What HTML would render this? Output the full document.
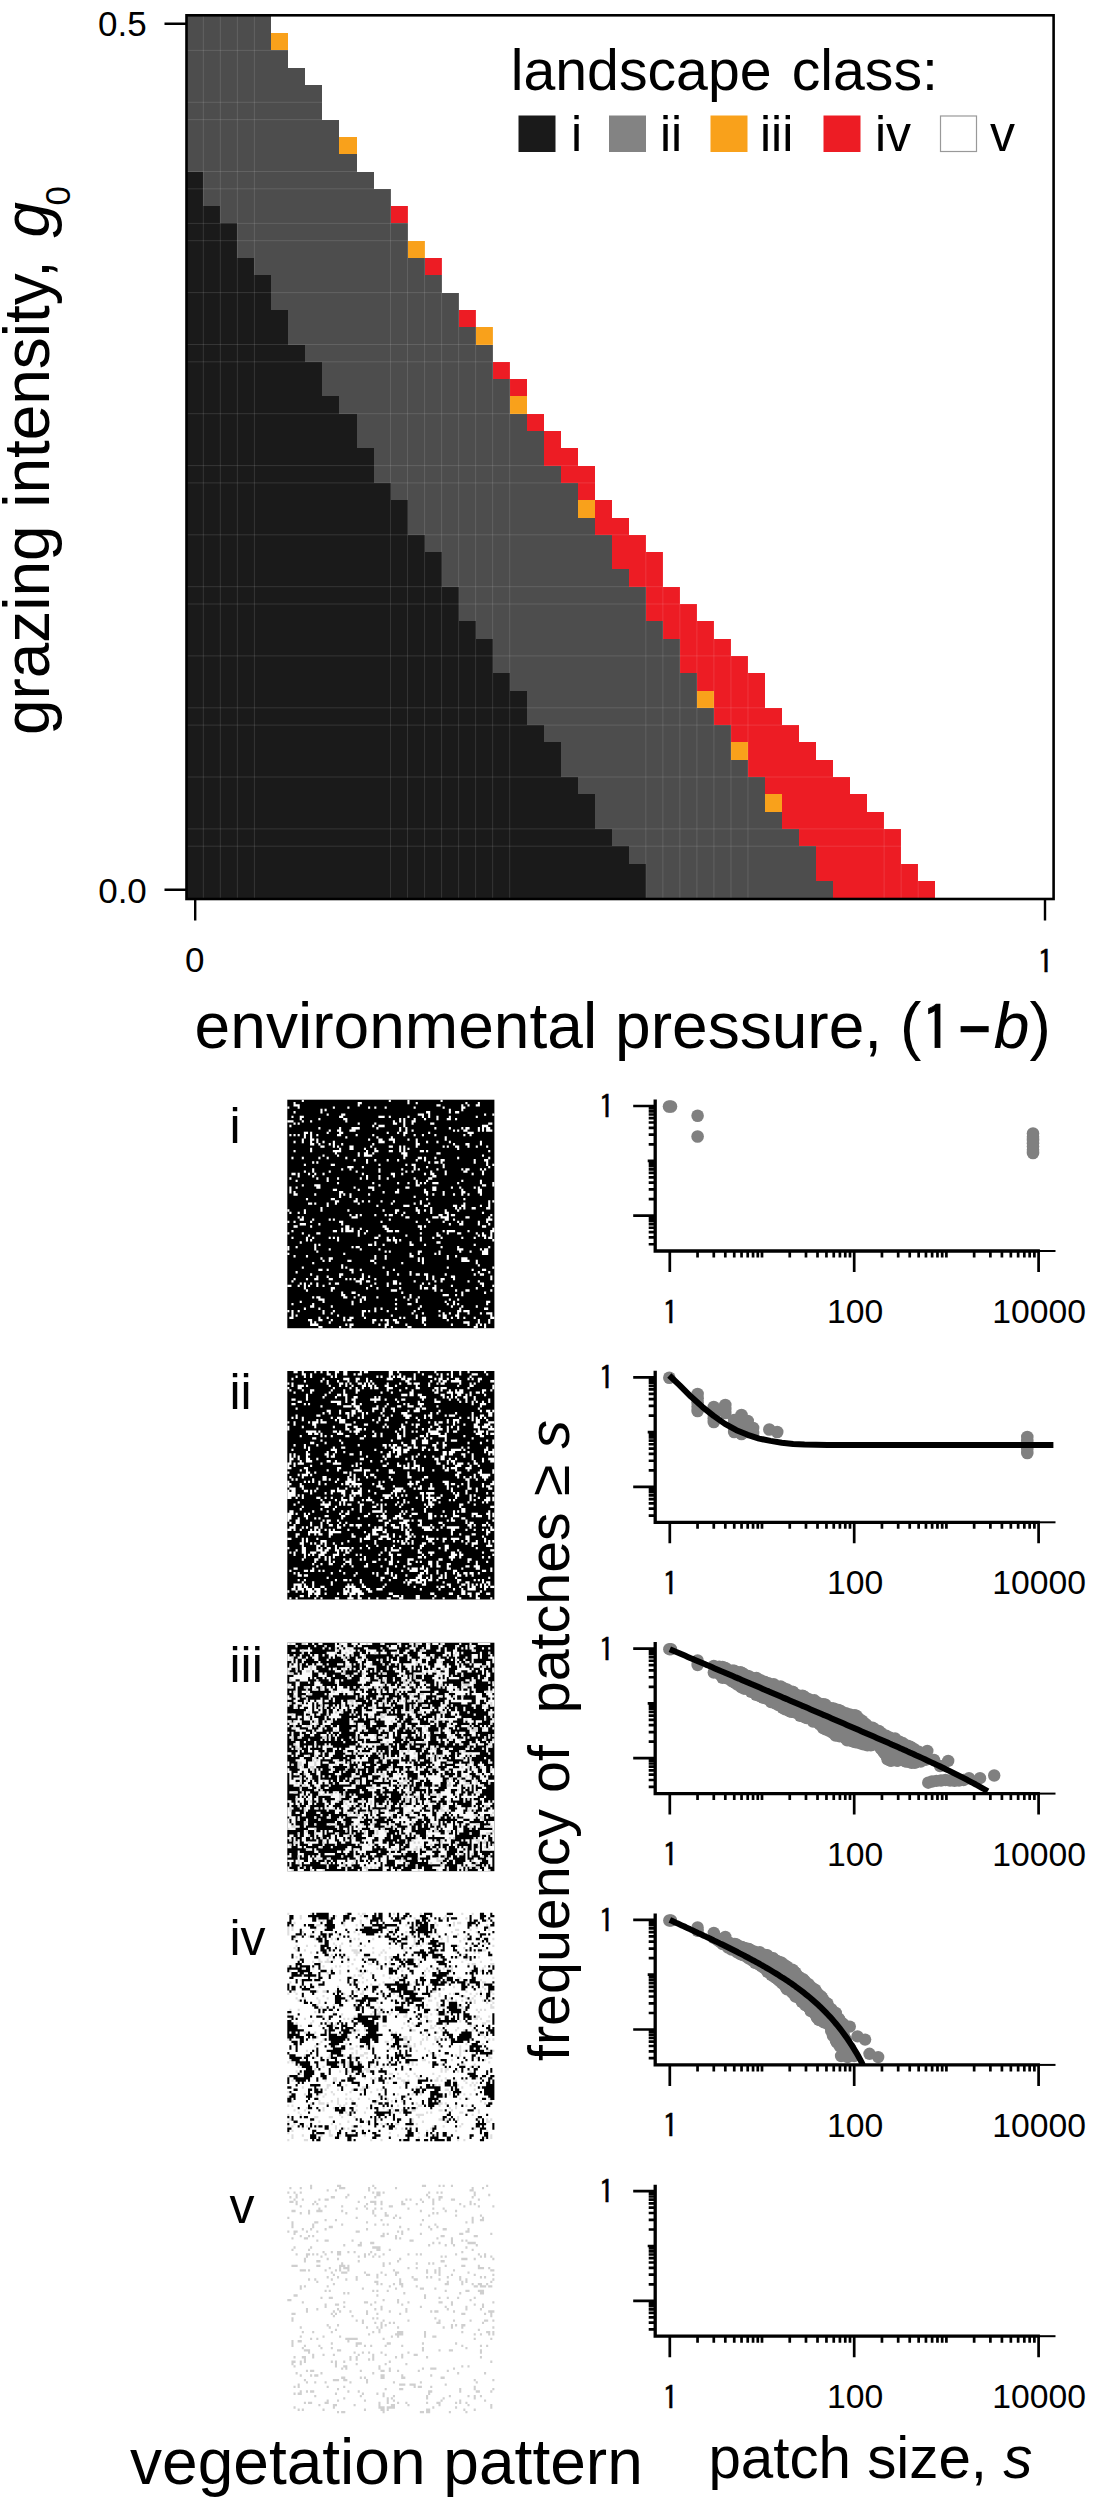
<!DOCTYPE html>
<html lang="en">
<head>
<meta charset="utf-8">
<title>Landscape classes along environmental pressure and grazing intensity</title>
<style>
html,body{margin:0;padding:0;background:#fff;}
body{width:1100px;height:2500px;overflow:hidden;}
svg{display:block;}
svg text{font-family:"Liberation Sans", Arial, Helvetica, sans-serif;fill:#000;}
</style>
</head>
<body>
<svg width="1100" height="2500" viewBox="0 0 1100 2500">
<defs><filter id="pb" x="-2%" y="-2%" width="104%" height="104%"><feGaussianBlur stdDeviation="0.55"/></filter></defs>
<rect x="0" y="0" width="1100" height="2500" fill="#fff"/>
<g id="heat" shape-rendering="crispEdges">
<rect x="186.30" y="15.80" width="85.10" height="17.60" fill="#4d4d4d"/>
<rect x="186.30" y="33.10" width="85.10" height="17.60" fill="#4d4d4d"/>
<rect x="271.40" y="33.10" width="17.02" height="17.60" fill="#f9a11b"/>
<rect x="186.30" y="50.40" width="102.12" height="17.60" fill="#4d4d4d"/>
<rect x="186.30" y="67.70" width="119.14" height="17.60" fill="#4d4d4d"/>
<rect x="186.30" y="85.00" width="136.16" height="17.60" fill="#4d4d4d"/>
<rect x="186.30" y="102.30" width="136.16" height="17.60" fill="#4d4d4d"/>
<rect x="186.30" y="119.60" width="153.18" height="17.60" fill="#4d4d4d"/>
<rect x="186.30" y="136.90" width="153.18" height="17.60" fill="#4d4d4d"/>
<rect x="339.48" y="136.90" width="17.02" height="17.60" fill="#f9a11b"/>
<rect x="186.30" y="154.20" width="170.20" height="17.60" fill="#4d4d4d"/>
<rect x="186.30" y="171.50" width="187.22" height="17.60" fill="#4d4d4d"/>
<rect x="186.30" y="171.50" width="17.02" height="17.60" fill="#1a1a1a"/>
<rect x="186.30" y="188.80" width="204.24" height="17.60" fill="#4d4d4d"/>
<rect x="186.30" y="188.80" width="17.02" height="17.60" fill="#1a1a1a"/>
<rect x="186.30" y="206.10" width="204.24" height="17.60" fill="#4d4d4d"/>
<rect x="186.30" y="206.10" width="34.04" height="17.60" fill="#1a1a1a"/>
<rect x="390.54" y="206.10" width="17.02" height="17.60" fill="#ed1c24"/>
<rect x="186.30" y="223.40" width="221.26" height="17.60" fill="#4d4d4d"/>
<rect x="186.30" y="223.40" width="51.06" height="17.60" fill="#1a1a1a"/>
<rect x="186.30" y="240.70" width="221.26" height="17.60" fill="#4d4d4d"/>
<rect x="186.30" y="240.70" width="51.06" height="17.60" fill="#1a1a1a"/>
<rect x="407.56" y="240.70" width="17.02" height="17.60" fill="#f9a11b"/>
<rect x="186.30" y="258.00" width="238.28" height="17.60" fill="#4d4d4d"/>
<rect x="186.30" y="258.00" width="68.08" height="17.60" fill="#1a1a1a"/>
<rect x="424.58" y="258.00" width="17.02" height="17.60" fill="#ed1c24"/>
<rect x="186.30" y="275.30" width="255.30" height="17.60" fill="#4d4d4d"/>
<rect x="186.30" y="275.30" width="85.10" height="17.60" fill="#1a1a1a"/>
<rect x="186.30" y="292.60" width="272.32" height="17.60" fill="#4d4d4d"/>
<rect x="186.30" y="292.60" width="85.10" height="17.60" fill="#1a1a1a"/>
<rect x="186.30" y="309.90" width="272.32" height="17.60" fill="#4d4d4d"/>
<rect x="186.30" y="309.90" width="102.12" height="17.60" fill="#1a1a1a"/>
<rect x="458.62" y="309.90" width="17.02" height="17.60" fill="#ed1c24"/>
<rect x="186.30" y="327.20" width="289.34" height="17.60" fill="#4d4d4d"/>
<rect x="186.30" y="327.20" width="102.12" height="17.60" fill="#1a1a1a"/>
<rect x="475.64" y="327.20" width="17.02" height="17.60" fill="#f9a11b"/>
<rect x="186.30" y="344.50" width="306.36" height="17.60" fill="#4d4d4d"/>
<rect x="186.30" y="344.50" width="119.14" height="17.60" fill="#1a1a1a"/>
<rect x="186.30" y="361.80" width="306.36" height="17.60" fill="#4d4d4d"/>
<rect x="186.30" y="361.80" width="136.16" height="17.60" fill="#1a1a1a"/>
<rect x="492.66" y="361.80" width="17.02" height="17.60" fill="#ed1c24"/>
<rect x="186.30" y="379.10" width="323.38" height="17.60" fill="#4d4d4d"/>
<rect x="186.30" y="379.10" width="136.16" height="17.60" fill="#1a1a1a"/>
<rect x="509.68" y="379.10" width="17.02" height="17.60" fill="#ed1c24"/>
<rect x="186.30" y="396.40" width="323.38" height="17.60" fill="#4d4d4d"/>
<rect x="186.30" y="396.40" width="153.18" height="17.60" fill="#1a1a1a"/>
<rect x="509.68" y="396.40" width="17.02" height="17.60" fill="#f9a11b"/>
<rect x="186.30" y="413.70" width="340.40" height="17.60" fill="#4d4d4d"/>
<rect x="186.30" y="413.70" width="170.20" height="17.60" fill="#1a1a1a"/>
<rect x="526.70" y="413.70" width="17.02" height="17.60" fill="#ed1c24"/>
<rect x="186.30" y="431.00" width="357.42" height="17.60" fill="#4d4d4d"/>
<rect x="186.30" y="431.00" width="170.20" height="17.60" fill="#1a1a1a"/>
<rect x="543.72" y="431.00" width="17.02" height="17.60" fill="#ed1c24"/>
<rect x="186.30" y="448.30" width="357.42" height="17.60" fill="#4d4d4d"/>
<rect x="186.30" y="448.30" width="187.22" height="17.60" fill="#1a1a1a"/>
<rect x="543.72" y="448.30" width="34.04" height="17.60" fill="#ed1c24"/>
<rect x="186.30" y="465.60" width="374.44" height="17.60" fill="#4d4d4d"/>
<rect x="186.30" y="465.60" width="187.22" height="17.60" fill="#1a1a1a"/>
<rect x="560.74" y="465.60" width="34.04" height="17.60" fill="#ed1c24"/>
<rect x="186.30" y="482.90" width="391.46" height="17.60" fill="#4d4d4d"/>
<rect x="186.30" y="482.90" width="204.24" height="17.60" fill="#1a1a1a"/>
<rect x="577.76" y="482.90" width="17.02" height="17.60" fill="#ed1c24"/>
<rect x="186.30" y="500.20" width="391.46" height="17.60" fill="#4d4d4d"/>
<rect x="186.30" y="500.20" width="221.26" height="17.60" fill="#1a1a1a"/>
<rect x="577.76" y="500.20" width="17.02" height="17.60" fill="#f9a11b"/>
<rect x="594.78" y="500.20" width="17.02" height="17.60" fill="#ed1c24"/>
<rect x="186.30" y="517.50" width="408.48" height="17.60" fill="#4d4d4d"/>
<rect x="186.30" y="517.50" width="221.26" height="17.60" fill="#1a1a1a"/>
<rect x="594.78" y="517.50" width="34.04" height="17.60" fill="#ed1c24"/>
<rect x="186.30" y="534.80" width="425.50" height="17.60" fill="#4d4d4d"/>
<rect x="186.30" y="534.80" width="238.28" height="17.60" fill="#1a1a1a"/>
<rect x="611.80" y="534.80" width="34.04" height="17.60" fill="#ed1c24"/>
<rect x="186.30" y="552.10" width="425.50" height="17.60" fill="#4d4d4d"/>
<rect x="186.30" y="552.10" width="255.30" height="17.60" fill="#1a1a1a"/>
<rect x="611.80" y="552.10" width="51.06" height="17.60" fill="#ed1c24"/>
<rect x="186.30" y="569.40" width="442.52" height="17.60" fill="#4d4d4d"/>
<rect x="186.30" y="569.40" width="255.30" height="17.60" fill="#1a1a1a"/>
<rect x="628.82" y="569.40" width="34.04" height="17.60" fill="#ed1c24"/>
<rect x="186.30" y="586.70" width="459.54" height="17.60" fill="#4d4d4d"/>
<rect x="186.30" y="586.70" width="272.32" height="17.60" fill="#1a1a1a"/>
<rect x="645.84" y="586.70" width="34.04" height="17.60" fill="#ed1c24"/>
<rect x="186.30" y="604.00" width="459.54" height="17.60" fill="#4d4d4d"/>
<rect x="186.30" y="604.00" width="272.32" height="17.60" fill="#1a1a1a"/>
<rect x="645.84" y="604.00" width="51.06" height="17.60" fill="#ed1c24"/>
<rect x="186.30" y="621.30" width="476.56" height="17.60" fill="#4d4d4d"/>
<rect x="186.30" y="621.30" width="289.34" height="17.60" fill="#1a1a1a"/>
<rect x="662.86" y="621.30" width="51.06" height="17.60" fill="#ed1c24"/>
<rect x="186.30" y="638.60" width="493.58" height="17.60" fill="#4d4d4d"/>
<rect x="186.30" y="638.60" width="306.36" height="17.60" fill="#1a1a1a"/>
<rect x="679.88" y="638.60" width="51.06" height="17.60" fill="#ed1c24"/>
<rect x="186.30" y="655.90" width="493.58" height="17.60" fill="#4d4d4d"/>
<rect x="186.30" y="655.90" width="306.36" height="17.60" fill="#1a1a1a"/>
<rect x="679.88" y="655.90" width="68.08" height="17.60" fill="#ed1c24"/>
<rect x="186.30" y="673.20" width="510.60" height="17.60" fill="#4d4d4d"/>
<rect x="186.30" y="673.20" width="323.38" height="17.60" fill="#1a1a1a"/>
<rect x="696.90" y="673.20" width="68.08" height="17.60" fill="#ed1c24"/>
<rect x="186.30" y="690.50" width="510.60" height="17.60" fill="#4d4d4d"/>
<rect x="186.30" y="690.50" width="340.40" height="17.60" fill="#1a1a1a"/>
<rect x="696.90" y="690.50" width="17.02" height="17.60" fill="#f9a11b"/>
<rect x="713.92" y="690.50" width="51.06" height="17.60" fill="#ed1c24"/>
<rect x="186.30" y="707.80" width="527.62" height="17.60" fill="#4d4d4d"/>
<rect x="186.30" y="707.80" width="340.40" height="17.60" fill="#1a1a1a"/>
<rect x="713.92" y="707.80" width="68.08" height="17.60" fill="#ed1c24"/>
<rect x="186.30" y="725.10" width="544.64" height="17.60" fill="#4d4d4d"/>
<rect x="186.30" y="725.10" width="357.42" height="17.60" fill="#1a1a1a"/>
<rect x="730.94" y="725.10" width="68.08" height="17.60" fill="#ed1c24"/>
<rect x="186.30" y="742.40" width="544.64" height="17.60" fill="#4d4d4d"/>
<rect x="186.30" y="742.40" width="374.44" height="17.60" fill="#1a1a1a"/>
<rect x="730.94" y="742.40" width="17.02" height="17.60" fill="#f9a11b"/>
<rect x="747.96" y="742.40" width="68.08" height="17.60" fill="#ed1c24"/>
<rect x="186.30" y="759.70" width="561.66" height="17.60" fill="#4d4d4d"/>
<rect x="186.30" y="759.70" width="374.44" height="17.60" fill="#1a1a1a"/>
<rect x="747.96" y="759.70" width="85.10" height="17.60" fill="#ed1c24"/>
<rect x="186.30" y="777.00" width="578.68" height="17.60" fill="#4d4d4d"/>
<rect x="186.30" y="777.00" width="391.46" height="17.60" fill="#1a1a1a"/>
<rect x="764.98" y="777.00" width="85.10" height="17.60" fill="#ed1c24"/>
<rect x="186.30" y="794.30" width="578.68" height="17.60" fill="#4d4d4d"/>
<rect x="186.30" y="794.30" width="408.48" height="17.60" fill="#1a1a1a"/>
<rect x="764.98" y="794.30" width="17.02" height="17.60" fill="#f9a11b"/>
<rect x="782.00" y="794.30" width="85.10" height="17.60" fill="#ed1c24"/>
<rect x="186.30" y="811.60" width="595.70" height="17.60" fill="#4d4d4d"/>
<rect x="186.30" y="811.60" width="408.48" height="17.60" fill="#1a1a1a"/>
<rect x="782.00" y="811.60" width="102.12" height="17.60" fill="#ed1c24"/>
<rect x="186.30" y="828.90" width="612.72" height="17.60" fill="#4d4d4d"/>
<rect x="186.30" y="828.90" width="425.50" height="17.60" fill="#1a1a1a"/>
<rect x="799.02" y="828.90" width="102.12" height="17.60" fill="#ed1c24"/>
<rect x="186.30" y="846.20" width="629.74" height="17.60" fill="#4d4d4d"/>
<rect x="186.30" y="846.20" width="442.52" height="17.60" fill="#1a1a1a"/>
<rect x="816.04" y="846.20" width="85.10" height="17.60" fill="#ed1c24"/>
<rect x="186.30" y="863.50" width="629.74" height="17.60" fill="#4d4d4d"/>
<rect x="186.30" y="863.50" width="459.54" height="17.60" fill="#1a1a1a"/>
<rect x="816.04" y="863.50" width="102.12" height="17.60" fill="#ed1c24"/>
<rect x="186.30" y="880.80" width="646.76" height="17.60" fill="#4d4d4d"/>
<rect x="186.30" y="880.80" width="459.54" height="17.60" fill="#1a1a1a"/>
<rect x="833.06" y="880.80" width="102.12" height="17.60" fill="#ed1c24"/>
</g>
<path d="M203.32 15.8V898.10M220.34 15.8V898.10M237.36 15.8V898.10M254.38 15.8V898.10M390.54 15.8V898.10M407.56 15.8V898.10M424.58 15.8V898.10M441.60 15.8V898.10M458.62 15.8V898.10M475.64 15.8V898.10M492.66 15.8V898.10M509.68 15.8V898.10M645.84 15.8V898.10M662.86 15.8V898.10M679.88 15.8V898.10M696.90 15.8V898.10M713.92 15.8V898.10M730.94 15.8V898.10M747.96 15.8V898.10M884.12 15.8V898.10M901.14 15.8V898.10M918.16 15.8V898.10M186.3 50.40H935.18M186.3 102.30H935.18M186.3 119.60H935.18M186.3 171.50H935.18M186.3 188.80H935.18M186.3 223.40H935.18M186.3 240.70H935.18M186.3 292.60H935.18M186.3 344.50H935.18M186.3 361.80H935.18M186.3 413.70H935.18M186.3 465.60H935.18M186.3 482.90H935.18M186.3 534.80H935.18M186.3 586.70H935.18M186.3 604.00H935.18M186.3 655.90H935.18M186.3 707.80H935.18M186.3 725.10H935.18M186.3 777.00H935.18M186.3 828.90H935.18M186.3 846.20H935.18" stroke="#fff" stroke-opacity="0.12" stroke-width="1" fill="none"/>
<rect x="186.5" y="15.3" width="867.0999999999999" height="883.7" fill="none" stroke="#000" stroke-width="2.6"/>
<g stroke="#000" stroke-width="2.4" fill="none">
<path d="M164.5 23.8H186.5 M164.5 889.8H186.5 M195.2 899.0V920.5 M1045 899.0V920.5"/>
</g>
<text x="122.3" y="36.2" font-size="35" text-anchor="middle" >0.5</text>
<text x="122.5" y="902.6" font-size="35" text-anchor="middle" >0.0</text>
<text x="194.8" y="972" font-size="35" text-anchor="middle" >0</text>
<text x="1045.5" y="972" font-size="34.5" text-anchor="middle" ><tspan style="font-family:IPAGothic,'Liberation Sans',sans-serif" font-size="33.12" dy="1.55" stroke="#000" stroke-width="0.38" stroke-linejoin="miter">1</tspan></text>
<text x="194.6" y="1048" font-size="64.1" text-anchor="start" >environmental pressure, (<tspan style="font-family:IPAGothic,'Liberation Sans',sans-serif" font-size="61.54" dy="2.88" stroke="#000" stroke-width="0.71" stroke-linejoin="miter">1</tspan><tspan font-weight="bold" font-size="56" dx="6.5" dy="-2.88">&#8722;</tspan><tspan font-style="italic" dx="2.5">b</tspan>)</text>
<text transform="translate(49,735) rotate(-90)" font-size="63.9">grazing intensity, <tspan font-style="italic" dx="5">g</tspan><tspan font-size="35" dy="20.5" dx="-3.5">0</tspan></text>
<text x="510.8" y="90.4" font-size="57.2" text-anchor="start" >landscape<tspan dx="4.3"> class:</tspan></text>
<rect x="518.5" y="115.5" width="37" height="36.5" fill="#1a1a1a"/>
<text x="571" y="151.3" font-size="50" text-anchor="start" >i</text>
<rect x="609" y="115.5" width="37" height="36.5" fill="#838383"/>
<text x="660" y="151.3" font-size="50" text-anchor="start" >ii</text>
<rect x="710.5" y="115.5" width="37" height="36.5" fill="#f9a11b"/>
<text x="760" y="151.3" font-size="50" text-anchor="start" >iii</text>
<rect x="823.5" y="115.5" width="37" height="36.5" fill="#ed1c24"/>
<text x="875" y="151.3" font-size="50" text-anchor="start" >iv</text>
<rect x="940.5" y="116" width="36" height="35.5" fill="#fff" stroke="#999" stroke-width="1.2"/>
<text x="990" y="151.3" font-size="50" text-anchor="start" >v</text>
<g filter="url(#pb)"><g transform="translate(287.3,1099.7) scale(2.0710,2.2850)">
<rect x="0" y="0" width="100" height="100" fill="#060606"/>
<path d="M7 0.5h1M49 0.5h1M58 0.5h1M74 0.5h1M3 1.5h1M34 1.5h2M58 1.5h1M62 1.5h1M86 1.5h1M92 1.5h1M3 2.5h3M34 2.5h1M72 2.5h2M84 2.5h1M87 2.5h1M91 2.5h2M0 3.5h1M5 3.5h1M22 3.5h1M29 3.5h1M39 3.5h1M42 3.5h1M47 3.5h1M61 3.5h1M75 3.5h1M84 3.5h2M16 4.5h1M18 4.5h1M78 4.5h1M84 4.5h1M3 5.5h1M16 5.5h1M67 5.5h2M78 5.5h1M81 5.5h2M19 6.5h1M26 6.5h2M63 6.5h3M68 6.5h1M95 6.5h1M99 6.5h1M2 7.5h1M6 7.5h2M25 7.5h2M44 7.5h3M49 7.5h1M58 7.5h1M65 7.5h1M68 7.5h1M72 7.5h1M78 7.5h1M91 7.5h1M6 8.5h1M15 8.5h1M27 8.5h2M54 8.5h1M56 8.5h1M61 8.5h1M66 8.5h1M72 8.5h1M77 8.5h2M81 8.5h1M0 9.5h3M7 9.5h1M11 9.5h1M28 9.5h1M51 9.5h1M54 9.5h1M56 9.5h1M60 9.5h2M3 10.5h1M5 10.5h1M34 10.5h1M42 10.5h1M51 10.5h2M56 10.5h1M60 10.5h1M69 10.5h2M97 10.5h2M1 11.5h1M41 11.5h1M44 11.5h3M56 11.5h1M94 11.5h3M15 12.5h1M25 12.5h1M31 12.5h4M43 12.5h1M54 12.5h1M57 12.5h1M71 12.5h1M78 12.5h1M84 12.5h1M86 12.5h2M92 12.5h1M94 12.5h1M96 12.5h2M20 13.5h1M24 13.5h2M30 13.5h3M54 13.5h1M57 13.5h1M60 13.5h1M80 13.5h1M82 13.5h1M85 13.5h2M92 13.5h1M94 13.5h1M96 13.5h3M8 14.5h2M11 14.5h1M19 14.5h1M25 14.5h2M48 14.5h1M53 14.5h1M56 14.5h2M68 14.5h1M87 14.5h3M1 15.5h1M3 15.5h1M5 15.5h1M8 15.5h1M11 15.5h1M14 15.5h1M24 15.5h2M33 15.5h1M41 15.5h1M56 15.5h1M61 15.5h1M65 15.5h1M71 15.5h1M85 15.5h1M88 15.5h1M8 16.5h1M11 16.5h1M28 16.5h1M43 16.5h1M50 16.5h1M76 16.5h1M7 17.5h1M11 17.5h2M14 17.5h1M39 17.5h1M44 17.5h2M49 17.5h3M58 17.5h1M62 17.5h1M76 17.5h1M3 18.5h1M7 18.5h1M11 18.5h1M14 18.5h1M17 18.5h1M22 18.5h1M44 18.5h3M51 18.5h1M62 18.5h1M67 18.5h1M72 18.5h1M78 18.5h1M93 18.5h1M11 19.5h2M15 19.5h1M20 19.5h1M22 19.5h1M26 19.5h1M41 19.5h1M62 19.5h2M80 19.5h1M86 19.5h2M93 19.5h1M16 20.5h2M22 20.5h1M24 20.5h1M30 20.5h2M40 20.5h1M49 20.5h2M54 20.5h1M56 20.5h1M62 20.5h1M75 20.5h1M77 20.5h1M81 20.5h2M87 20.5h1M91 20.5h1M96 20.5h1M11 21.5h1M25 21.5h1M30 21.5h2M37 21.5h1M42 21.5h1M54 21.5h1M56 21.5h1M58 21.5h1M82 21.5h1M3 22.5h1M11 22.5h1M22 22.5h4M38 22.5h1M42 22.5h2M49 22.5h2M54 22.5h1M56 22.5h1M64 22.5h2M67 22.5h1M97 22.5h1M23 23.5h1M34 23.5h1M37 23.5h2M41 23.5h1M55 23.5h3M72 23.5h2M17 24.5h1M24 24.5h1M34 24.5h1M37 24.5h4M56 24.5h2M94 24.5h1M2 25.5h1M7 25.5h1M15 25.5h1M19 25.5h1M28 25.5h1M56 25.5h1M63 25.5h2M66 25.5h1M71 25.5h1M82 25.5h1M97 25.5h1M32 26.5h1M38 26.5h1M42 26.5h1M48 26.5h1M53 26.5h1M62 26.5h1M66 26.5h1M74 26.5h2M90 26.5h1M95 26.5h2M12 27.5h1M14 27.5h1M38 27.5h1M68 27.5h1M71 27.5h2M74 27.5h1M90 27.5h1M96 27.5h1M8 28.5h1M21 28.5h2M44 28.5h1M57 28.5h1M60 28.5h2M75 28.5h1M96 28.5h1M99 28.5h1M29 29.5h3M36 29.5h1M61 29.5h1M67 29.5h1M75 29.5h1M97 29.5h1M12 30.5h1M26 30.5h1M30 30.5h1M44 30.5h1M55 30.5h1M61 30.5h1M63 30.5h1M72 30.5h1M84 30.5h1M86 30.5h2M93 30.5h1M95 30.5h1M8 31.5h1M12 31.5h1M20 31.5h1M33 31.5h1M44 31.5h1M57 31.5h1M60 31.5h1M69 31.5h1M76 31.5h1M85 31.5h2M94 31.5h1M2 32.5h2M5 32.5h1M10 32.5h1M13 32.5h1M17 32.5h1M36 32.5h1M50 32.5h2M55 32.5h1M66 32.5h1M69 32.5h2M76 32.5h1M89 32.5h1M94 32.5h1M5 33.5h1M12 33.5h1M38 33.5h1M44 33.5h1M51 33.5h1M70 33.5h2M1 34.5h1M14 34.5h1M19 34.5h1M24 34.5h1M35 34.5h1M38 34.5h1M44 34.5h1M48 34.5h1M61 34.5h1M68 34.5h2M4 35.5h1M19 35.5h1M62 35.5h1M67 35.5h1M84 35.5h1M93 35.5h1M24 36.5h1M41 36.5h1M53 36.5h1M58 36.5h1M62 36.5h1M64 36.5h1M66 36.5h1M70 36.5h3M82 36.5h1M93 36.5h1M99 36.5h1M7 37.5h1M13 37.5h3M44 37.5h1M62 37.5h2M94 37.5h2M99 37.5h1M1 38.5h1M4 38.5h1M14 38.5h2M32 38.5h1M39 38.5h3M57 38.5h2M70 38.5h2M79 38.5h1M83 38.5h1M90 38.5h1M92 38.5h1M1 39.5h1M22 39.5h2M34 39.5h1M41 39.5h1M53 39.5h1M66 39.5h1M70 39.5h2M84 39.5h1M92 39.5h2M1 40.5h1M3 40.5h1M25 40.5h2M46 40.5h1M52 40.5h2M66 40.5h2M75 40.5h1M84 40.5h2M92 40.5h2M3 41.5h2M13 41.5h1M25 41.5h1M27 41.5h1M30 41.5h1M39 41.5h1M67 41.5h1M70 41.5h1M75 41.5h1M80 41.5h1M84 41.5h1M87 41.5h1M93 41.5h1M25 42.5h1M30 42.5h1M61 42.5h1M9 43.5h1M21 43.5h2M33 43.5h1M67 43.5h1M85 43.5h1M23 44.5h2M32 44.5h2M36 44.5h1M39 44.5h1M45 44.5h1M51 44.5h1M64 44.5h1M97 44.5h1M99 44.5h1M10 45.5h2M13 45.5h1M19 45.5h1M23 45.5h1M34 45.5h1M50 45.5h1M61 45.5h1M64 45.5h1M68 45.5h1M85 45.5h1M97 45.5h1M19 46.5h1M43 46.5h1M56 46.5h3M66 46.5h2M80 46.5h2M84 46.5h2M93 46.5h1M97 46.5h1M16 47.5h1M62 47.5h1M69 47.5h1M81 47.5h1M83 47.5h1M85 47.5h1M89 47.5h2M96 47.5h2M0 48.5h1M8 48.5h1M16 48.5h1M29 48.5h1M46 48.5h1M52 48.5h2M62 48.5h2M66 48.5h1M69 48.5h1M76 48.5h1M82 48.5h1M1 49.5h1M5 49.5h1M8 49.5h1M52 49.5h1M56 49.5h1M63 49.5h1M69 49.5h1M76 49.5h2M94 49.5h1M30 50.5h1M33 50.5h1M35 50.5h1M42 50.5h1M47 50.5h1M49 50.5h2M55 50.5h1M73 50.5h2M77 50.5h1M79 50.5h2M98 50.5h1M5 51.5h1M7 51.5h1M31 51.5h3M57 51.5h2M70 51.5h3M74 51.5h4M86 51.5h2M97 51.5h1M6 52.5h2M12 52.5h1M20 52.5h1M22 52.5h1M49 52.5h1M67 52.5h1M76 52.5h2M80 52.5h1M96 52.5h3M0 53.5h1M3 53.5h1M11 53.5h1M25 53.5h2M45 53.5h1M62 53.5h1M68 53.5h1M75 53.5h1M82 53.5h1M84 53.5h1M92 53.5h1M96 53.5h1M6 54.5h3M15 54.5h1M26 54.5h1M78 54.5h1M83 54.5h2M92 54.5h1M97 54.5h1M3 55.5h2M11 55.5h1M28 55.5h2M46 55.5h2M63 55.5h2M66 55.5h1M94 55.5h2M26 56.5h1M28 56.5h2M31 56.5h1M35 56.5h1M47 56.5h2M64 56.5h1M99 56.5h1M2 57.5h1M22 57.5h2M26 57.5h1M28 57.5h4M34 57.5h1M38 57.5h1M48 57.5h3M52 57.5h2M75 57.5h1M77 57.5h4M87 57.5h1M98 57.5h2M0 58.5h1M7 58.5h1M14 58.5h2M34 58.5h1M37 58.5h1M64 58.5h1M72 58.5h1M77 58.5h1M82 58.5h2M91 58.5h1M94 58.5h1M98 58.5h1M10 59.5h1M34 59.5h1M44 59.5h1M57 59.5h1M72 59.5h2M92 59.5h1M94 59.5h2M98 59.5h1M2 60.5h1M9 60.5h1M12 60.5h1M20 60.5h1M22 60.5h1M24 60.5h1M42 60.5h2M48 60.5h1M51 60.5h1M64 60.5h1M70 60.5h1M74 60.5h1M84 60.5h1M90 60.5h1M95 60.5h1M97 60.5h2M9 61.5h1M11 61.5h1M24 61.5h1M48 61.5h2M51 61.5h2M54 61.5h1M64 61.5h1M99 61.5h1M6 62.5h1M42 62.5h1M52 62.5h1M59 62.5h1M72 62.5h2M13 63.5h1M15 63.5h1M39 63.5h2M42 63.5h1M46 63.5h1M59 63.5h2M66 63.5h1M90 63.5h1M0 64.5h1M4 64.5h1M13 64.5h1M31 64.5h1M33 64.5h2M74 64.5h1M82 64.5h1M97 64.5h1M0 65.5h1M13 65.5h1M20 65.5h1M35 65.5h1M44 65.5h1M82 65.5h3M93 65.5h1M95 65.5h2M14 66.5h1M47 66.5h1M49 66.5h1M63 66.5h2M73 66.5h1M83 66.5h1M88 66.5h1M94 66.5h3M0 67.5h1M27 67.5h1M59 67.5h1M63 67.5h1M71 67.5h1M73 67.5h1M94 67.5h3M3 68.5h1M9 68.5h1M42 68.5h1M47 68.5h1M59 68.5h2M77 68.5h1M81 68.5h1M16 69.5h1M20 69.5h2M42 69.5h1M47 69.5h1M63 69.5h1M65 69.5h1M77 69.5h1M84 69.5h3M17 70.5h1M20 70.5h1M29 70.5h2M40 70.5h2M63 70.5h1M65 70.5h1M84 70.5h4M91 70.5h1M12 71.5h1M42 71.5h1M55 71.5h1M65 71.5h1M91 71.5h1M26 72.5h1M92 72.5h1M7 73.5h1M26 73.5h1M28 73.5h1M46 73.5h1M77 73.5h1M99 73.5h1M15 74.5h2M19 74.5h1M30 74.5h2M35 74.5h1M51 74.5h1M89 74.5h1M94 74.5h2M4 75.5h1M31 75.5h1M48 75.5h1M59 75.5h1M92 75.5h1M97 75.5h1M11 76.5h1M25 76.5h2M36 76.5h1M48 76.5h1M53 76.5h1M59 76.5h1M62 76.5h2M66 76.5h2M76 76.5h1M90 76.5h1M93 76.5h2M14 77.5h1M19 77.5h1M25 77.5h1M36 77.5h1M39 77.5h1M67 77.5h1M70 77.5h1M79 77.5h2M98 77.5h1M3 78.5h1M9 78.5h1M13 78.5h2M20 78.5h2M28 78.5h1M30 78.5h1M32 78.5h1M35 78.5h2M42 78.5h1M67 78.5h1M70 78.5h1M74 78.5h2M80 78.5h1M98 78.5h1M2 79.5h1M33 79.5h3M38 79.5h2M51 79.5h2M61 79.5h1M71 79.5h1M74 79.5h1M87 79.5h1M92 79.5h1M6 80.5h1M8 80.5h1M11 80.5h1M14 80.5h1M20 80.5h1M23 80.5h2M35 80.5h1M42 80.5h1M48 80.5h1M51 80.5h2M54 80.5h1M65 80.5h1M68 80.5h1M93 80.5h2M0 81.5h2M5 81.5h1M8 81.5h1M10 81.5h1M14 81.5h1M17 81.5h1M40 81.5h1M48 81.5h1M64 81.5h1M71 81.5h1M79 81.5h1M94 81.5h1M99 81.5h1M8 82.5h1M21 82.5h2M38 82.5h1M43 82.5h1M54 82.5h1M64 82.5h1M66 82.5h2M70 82.5h2M91 82.5h1M9 83.5h1M21 83.5h1M50 83.5h3M71 83.5h1M74 83.5h1M81 83.5h1M86 83.5h2M98 83.5h1M26 84.5h1M31 84.5h2M55 84.5h1M84 84.5h1M95 84.5h1M26 85.5h2M34 85.5h1M59 85.5h1M75 85.5h3M81 85.5h1M84 85.5h1M12 86.5h1M14 86.5h2M27 86.5h2M32 86.5h1M36 86.5h2M43 86.5h1M56 86.5h1M59 86.5h1M63 86.5h1M15 87.5h3M35 87.5h1M37 87.5h1M52 87.5h1M58 87.5h1M62 87.5h1M78 87.5h1M82 87.5h1M6 88.5h1M17 88.5h1M31 88.5h1M35 88.5h1M62 88.5h1M76 88.5h1M80 88.5h1M96 88.5h2M2 89.5h1M12 89.5h1M31 89.5h1M52 89.5h1M58 89.5h2M77 89.5h1M80 89.5h1M82 89.5h1M96 89.5h1M11 90.5h2M21 90.5h1M64 90.5h1M79 90.5h1M84 90.5h1M91 90.5h1M8 91.5h1M15 91.5h1M42 91.5h1M45 91.5h1M52 91.5h1M63 91.5h1M83 91.5h1M95 91.5h2M0 92.5h1M2 92.5h1M5 92.5h1M17 92.5h1M22 92.5h1M36 92.5h2M39 92.5h1M42 92.5h1M48 92.5h1M61 92.5h1M73 92.5h1M82 92.5h2M85 92.5h3M2 93.5h1M17 93.5h1M21 93.5h1M36 93.5h1M60 93.5h1M65 93.5h1M75 93.5h1M78 93.5h1M82 93.5h1M87 93.5h1M93 93.5h1M96 93.5h3M2 94.5h1M4 94.5h1M24 94.5h1M36 94.5h1M50 94.5h1M62 94.5h1M73 94.5h1M75 94.5h2M81 94.5h2M98 94.5h1M1 95.5h2M15 95.5h1M19 95.5h1M27 95.5h1M30 95.5h2M37 95.5h1M54 95.5h1M56 95.5h1M62 95.5h1M65 95.5h2M75 95.5h2M79 95.5h1M82 95.5h1M85 95.5h1M90 95.5h1M98 95.5h2M10 96.5h2M15 96.5h2M21 96.5h1M27 96.5h1M29 96.5h2M41 96.5h2M45 96.5h1M47 96.5h2M51 96.5h2M65 96.5h2M77 96.5h1M92 96.5h1M97 96.5h1M11 97.5h1M13 97.5h1M20 97.5h1M41 97.5h1M48 97.5h1M52 97.5h2M65 97.5h1M85 97.5h3M92 97.5h1M97 97.5h1M11 98.5h4M28 98.5h1M30 98.5h2M44 98.5h1M47 98.5h2M57 98.5h1M66 98.5h1M79 98.5h1M87 98.5h1M91 98.5h1M93 98.5h1M95 98.5h1M15 99.5h2M25 99.5h1M30 99.5h1M47 99.5h1M50 99.5h1M58 99.5h2M90 99.5h2M95 99.5h1" stroke="#fff" stroke-width="1.02" fill="none"/>
</g></g>
<g filter="url(#pb)"><g transform="translate(287.3,1371.0) scale(2.0710,2.2850)">
<rect x="0" y="0" width="100" height="100" fill="#060606"/>
<path d="M3 0.5h2M7 0.5h1M13 0.5h1M16 0.5h1M19 0.5h1M23 0.5h2M27 0.5h2M35 0.5h1M37 0.5h2M49 0.5h2M53 0.5h1M63 0.5h1M71 0.5h1M79 0.5h1M83 0.5h1M87 0.5h1M95 0.5h1M7 1.5h2M11 1.5h1M19 1.5h2M23 1.5h1M27 1.5h2M32 1.5h1M34 1.5h2M49 1.5h2M54 1.5h1M61 1.5h1M65 1.5h1M72 1.5h1M74 1.5h1M77 1.5h1M79 1.5h1M83 1.5h1M89 1.5h3M96 1.5h1M4 2.5h1M8 2.5h1M11 2.5h1M21 2.5h1M23 2.5h1M43 2.5h1M45 2.5h1M49 2.5h1M51 2.5h1M53 2.5h2M56 2.5h1M61 2.5h1M68 2.5h2M74 2.5h1M79 2.5h1M88 2.5h1M2 3.5h1M17 3.5h1M27 3.5h3M33 3.5h2M38 3.5h1M48 3.5h3M55 3.5h2M58 3.5h2M61 3.5h1M71 3.5h1M73 3.5h2M77 3.5h1M81 3.5h2M87 3.5h1M89 3.5h1M92 3.5h2M8 4.5h1M16 4.5h1M19 4.5h1M24 4.5h1M29 4.5h1M33 4.5h1M38 4.5h1M40 4.5h1M57 4.5h2M69 4.5h1M73 4.5h1M75 4.5h2M79 4.5h5M92 4.5h1M98 4.5h2M0 5.5h1M2 5.5h1M19 5.5h1M25 5.5h2M28 5.5h1M30 5.5h1M34 5.5h2M37 5.5h1M39 5.5h1M41 5.5h1M48 5.5h1M54 5.5h1M58 5.5h2M61 5.5h3M68 5.5h1M72 5.5h1M74 5.5h2M83 5.5h1M88 5.5h1M90 5.5h1M2 6.5h1M5 6.5h3M9 6.5h1M20 6.5h1M25 6.5h1M28 6.5h1M31 6.5h1M36 6.5h2M39 6.5h2M42 6.5h1M47 6.5h2M52 6.5h1M62 6.5h1M68 6.5h1M82 6.5h1M88 6.5h2M99 6.5h1M0 7.5h1M5 7.5h2M22 7.5h1M30 7.5h1M33 7.5h1M36 7.5h1M40 7.5h1M42 7.5h2M48 7.5h3M57 7.5h1M62 7.5h2M71 7.5h2M74 7.5h3M87 7.5h1M99 7.5h1M1 8.5h1M7 8.5h1M11 8.5h2M21 8.5h1M27 8.5h1M33 8.5h2M48 8.5h1M54 8.5h1M60 8.5h1M70 8.5h1M72 8.5h1M74 8.5h1M78 8.5h1M81 8.5h1M83 8.5h2M94 8.5h2M98 8.5h1M3 9.5h1M11 9.5h1M20 9.5h1M27 9.5h1M33 9.5h1M45 9.5h1M50 9.5h1M59 9.5h2M71 9.5h2M77 9.5h3M81 9.5h4M88 9.5h1M91 9.5h2M94 9.5h1M9 10.5h1M18 10.5h1M24 10.5h2M27 10.5h2M55 10.5h3M59 10.5h2M63 10.5h2M74 10.5h2M79 10.5h1M82 10.5h2M86 10.5h1M88 10.5h1M95 10.5h1M9 11.5h1M17 11.5h1M23 11.5h1M28 11.5h1M32 11.5h2M42 11.5h1M44 11.5h1M64 11.5h3M75 11.5h1M77 11.5h1M79 11.5h1M81 11.5h1M85 11.5h2M90 11.5h1M2 12.5h2M9 12.5h1M28 12.5h1M31 12.5h2M40 12.5h5M47 12.5h1M52 12.5h1M55 12.5h2M65 12.5h1M71 12.5h1M78 12.5h1M82 12.5h1M86 12.5h1M90 12.5h1M97 12.5h1M5 13.5h2M21 13.5h5M28 13.5h1M32 13.5h1M42 13.5h1M53 13.5h1M63 13.5h1M71 13.5h3M83 13.5h1M86 13.5h1M89 13.5h1M91 13.5h1M94 13.5h1M97 13.5h1M2 14.5h2M8 14.5h1M10 14.5h1M24 14.5h2M31 14.5h2M35 14.5h1M48 14.5h1M56 14.5h1M58 14.5h1M63 14.5h3M89 14.5h1M93 14.5h3M16 15.5h1M27 15.5h4M32 15.5h3M43 15.5h1M47 15.5h1M53 15.5h2M58 15.5h3M64 15.5h1M72 15.5h1M93 15.5h1M4 16.5h1M33 16.5h2M41 16.5h3M46 16.5h1M50 16.5h2M62 16.5h2M65 16.5h2M92 16.5h1M19 17.5h2M25 17.5h1M31 17.5h2M34 17.5h2M41 17.5h1M46 17.5h1M51 17.5h1M58 17.5h1M61 17.5h3M73 17.5h1M93 17.5h1M96 17.5h2M99 17.5h1M17 18.5h1M20 18.5h1M25 18.5h1M28 18.5h2M31 18.5h2M36 18.5h1M38 18.5h1M45 18.5h1M55 18.5h3M69 18.5h1M72 18.5h1M81 18.5h1M89 18.5h1M97 18.5h2M4 19.5h1M14 19.5h2M29 19.5h1M31 19.5h1M36 19.5h1M46 19.5h1M50 19.5h1M56 19.5h4M66 19.5h1M68 19.5h2M76 19.5h1M78 19.5h3M89 19.5h1M93 19.5h2M97 19.5h2M2 20.5h1M4 20.5h1M7 20.5h1M21 20.5h1M24 20.5h2M29 20.5h1M34 20.5h1M36 20.5h1M44 20.5h1M48 20.5h1M57 20.5h2M62 20.5h1M66 20.5h1M69 20.5h1M83 20.5h1M87 20.5h1M89 20.5h1M91 20.5h1M93 20.5h1M95 20.5h1M7 21.5h1M14 21.5h1M16 21.5h1M23 21.5h1M25 21.5h3M41 21.5h1M44 21.5h1M47 21.5h2M63 21.5h1M77 21.5h1M80 21.5h3M89 21.5h1M91 21.5h2M96 21.5h1M0 22.5h1M3 22.5h1M10 22.5h1M12 22.5h3M16 22.5h3M25 22.5h3M32 22.5h1M43 22.5h1M57 22.5h1M68 22.5h1M71 22.5h1M73 22.5h2M77 22.5h1M80 22.5h1M82 22.5h1M91 22.5h2M97 22.5h3M3 23.5h1M12 23.5h2M28 23.5h3M37 23.5h2M47 23.5h1M55 23.5h1M60 23.5h1M62 23.5h2M71 23.5h2M80 23.5h1M85 23.5h1M90 23.5h2M95 23.5h3M0 24.5h1M7 24.5h1M13 24.5h1M22 24.5h1M28 24.5h1M32 24.5h2M46 24.5h1M48 24.5h1M55 24.5h2M62 24.5h1M69 24.5h1M73 24.5h1M77 24.5h1M79 24.5h1M82 24.5h1M90 24.5h3M94 24.5h3M98 24.5h1M0 25.5h1M28 25.5h2M33 25.5h3M37 25.5h1M54 25.5h1M56 25.5h1M65 25.5h1M68 25.5h1M72 25.5h3M77 25.5h1M82 25.5h1M92 25.5h1M97 25.5h3M9 26.5h5M15 26.5h1M22 26.5h2M25 26.5h1M30 26.5h1M32 26.5h3M41 26.5h1M52 26.5h1M56 26.5h1M60 26.5h1M62 26.5h1M68 26.5h5M77 26.5h1M80 26.5h2M90 26.5h1M92 26.5h3M96 26.5h1M10 27.5h2M13 27.5h2M16 27.5h1M24 27.5h3M33 27.5h1M42 27.5h1M45 27.5h1M53 27.5h1M56 27.5h1M67 27.5h1M69 27.5h5M76 27.5h1M91 27.5h3M96 27.5h1M98 27.5h2M6 28.5h1M16 28.5h1M18 28.5h1M21 28.5h1M28 28.5h2M37 28.5h1M41 28.5h2M45 28.5h1M53 28.5h2M56 28.5h1M64 28.5h2M67 28.5h1M73 28.5h4M85 28.5h1M93 28.5h2M12 29.5h2M35 29.5h2M53 29.5h2M62 29.5h1M66 29.5h1M69 29.5h1M76 29.5h1M89 29.5h1M16 30.5h1M25 30.5h1M50 30.5h1M60 30.5h2M65 30.5h3M76 30.5h1M79 30.5h3M96 30.5h1M99 30.5h1M11 31.5h2M18 31.5h1M26 31.5h1M55 31.5h1M60 31.5h2M65 31.5h3M72 31.5h1M75 31.5h1M87 31.5h1M93 31.5h1M99 31.5h1M3 32.5h1M8 32.5h1M14 32.5h1M34 32.5h1M46 32.5h2M49 32.5h1M51 32.5h2M56 32.5h2M61 32.5h1M70 32.5h2M75 32.5h2M8 33.5h1M10 33.5h1M22 33.5h1M26 33.5h2M47 33.5h1M50 33.5h2M53 33.5h2M58 33.5h2M61 33.5h2M65 33.5h2M71 33.5h1M75 33.5h1M84 33.5h1M87 33.5h1M96 33.5h1M2 34.5h1M10 34.5h1M21 34.5h3M42 34.5h1M51 34.5h4M56 34.5h3M65 34.5h1M68 34.5h1M71 34.5h2M79 34.5h5M85 34.5h1M95 34.5h2M99 34.5h1M9 35.5h1M19 35.5h1M23 35.5h1M27 35.5h1M35 35.5h1M45 35.5h1M49 35.5h1M51 35.5h1M53 35.5h2M56 35.5h2M75 35.5h2M78 35.5h3M87 35.5h1M95 35.5h1M97 35.5h3M1 36.5h1M3 36.5h1M9 36.5h2M18 36.5h2M22 36.5h1M30 36.5h2M35 36.5h1M48 36.5h2M53 36.5h2M63 36.5h1M75 36.5h2M78 36.5h2M84 36.5h2M89 36.5h1M97 36.5h1M99 36.5h1M1 37.5h1M3 37.5h1M5 37.5h1M9 37.5h1M19 37.5h1M21 37.5h2M38 37.5h1M46 37.5h1M48 37.5h2M52 37.5h2M60 37.5h1M62 37.5h1M66 37.5h1M70 37.5h1M74 37.5h2M85 37.5h1M89 37.5h1M1 38.5h2M5 38.5h1M9 38.5h2M14 38.5h1M35 38.5h2M47 38.5h1M57 38.5h1M60 38.5h1M71 38.5h2M74 38.5h2M78 38.5h1M81 38.5h1M89 38.5h1M94 38.5h1M97 38.5h3M1 39.5h1M6 39.5h1M9 39.5h3M19 39.5h2M23 39.5h1M40 39.5h1M45 39.5h1M61 39.5h1M72 39.5h1M77 39.5h1M79 39.5h2M90 39.5h1M94 39.5h1M98 39.5h2M0 40.5h2M3 40.5h1M5 40.5h3M16 40.5h1M22 40.5h4M33 40.5h1M35 40.5h1M48 40.5h1M53 40.5h1M58 40.5h1M61 40.5h1M72 40.5h2M77 40.5h1M80 40.5h1M82 40.5h3M87 40.5h1M90 40.5h2M0 41.5h1M3 41.5h1M11 41.5h1M31 41.5h1M33 41.5h1M46 41.5h2M53 41.5h2M56 41.5h1M58 41.5h1M61 41.5h3M75 41.5h1M81 41.5h3M88 41.5h1M92 41.5h1M0 42.5h2M8 42.5h2M24 42.5h2M35 42.5h1M56 42.5h3M60 42.5h2M63 42.5h1M65 42.5h1M75 42.5h1M77 42.5h1M79 42.5h3M86 42.5h3M6 43.5h1M9 43.5h1M19 43.5h1M24 43.5h1M32 43.5h4M37 43.5h3M43 43.5h1M49 43.5h2M63 43.5h1M65 43.5h1M70 43.5h1M76 43.5h2M81 43.5h1M87 43.5h1M93 43.5h1M99 43.5h1M0 44.5h1M9 44.5h2M13 44.5h1M27 44.5h2M30 44.5h1M37 44.5h1M49 44.5h3M58 44.5h1M82 44.5h2M92 44.5h2M99 44.5h1M5 45.5h1M7 45.5h3M11 45.5h1M30 45.5h1M32 45.5h1M37 45.5h1M40 45.5h2M58 45.5h1M81 45.5h2M90 45.5h1M93 45.5h5M1 46.5h1M7 46.5h1M17 46.5h2M29 46.5h1M32 46.5h1M38 46.5h1M42 46.5h1M49 46.5h1M58 46.5h2M66 46.5h2M82 46.5h1M85 46.5h1M88 46.5h1M90 46.5h1M94 46.5h3M2 47.5h1M4 47.5h1M12 47.5h1M17 47.5h2M20 47.5h1M24 47.5h1M29 47.5h2M32 47.5h1M34 47.5h1M50 47.5h1M65 47.5h1M86 47.5h2M91 47.5h1M95 47.5h1M0 48.5h1M8 48.5h1M10 48.5h1M12 48.5h1M15 48.5h1M23 48.5h1M28 48.5h5M44 48.5h1M46 48.5h1M59 48.5h1M62 48.5h2M75 48.5h3M87 48.5h1M99 48.5h1M0 49.5h2M6 49.5h1M15 49.5h1M18 49.5h1M26 49.5h1M28 49.5h2M31 49.5h5M41 49.5h1M44 49.5h1M58 49.5h3M62 49.5h1M69 49.5h1M76 49.5h2M79 49.5h2M84 49.5h1M87 49.5h1M94 49.5h1M98 49.5h2M0 50.5h1M6 50.5h2M30 50.5h1M32 50.5h1M34 50.5h1M43 50.5h3M51 50.5h1M59 50.5h1M64 50.5h1M69 50.5h1M77 50.5h1M82 50.5h1M87 50.5h1M94 50.5h1M96 50.5h2M1 51.5h3M7 51.5h1M14 51.5h1M24 51.5h1M28 51.5h1M35 51.5h1M45 51.5h2M52 51.5h4M61 51.5h1M63 51.5h2M68 51.5h3M77 51.5h1M79 51.5h1M87 51.5h2M91 51.5h1M97 51.5h2M0 52.5h1M2 52.5h2M8 52.5h2M11 52.5h1M13 52.5h1M21 52.5h2M24 52.5h4M31 52.5h1M34 52.5h2M39 52.5h1M51 52.5h4M56 52.5h1M79 52.5h1M86 52.5h1M91 52.5h1M0 53.5h4M11 53.5h1M18 53.5h1M21 53.5h1M26 53.5h2M31 53.5h5M42 53.5h1M50 53.5h1M52 53.5h1M64 53.5h2M67 53.5h4M80 53.5h1M82 53.5h1M86 53.5h1M96 53.5h1M99 53.5h1M0 54.5h4M5 54.5h1M7 54.5h1M27 54.5h1M30 54.5h1M32 54.5h1M35 54.5h1M46 54.5h4M52 54.5h1M55 54.5h1M57 54.5h1M65 54.5h1M68 54.5h1M74 54.5h1M81 54.5h2M88 54.5h1M90 54.5h1M0 55.5h2M4 55.5h1M7 55.5h1M14 55.5h2M18 55.5h1M21 55.5h1M26 55.5h1M30 55.5h2M39 55.5h1M47 55.5h2M50 55.5h1M53 55.5h1M62 55.5h1M65 55.5h1M67 55.5h4M72 55.5h2M81 55.5h1M88 55.5h1M92 55.5h1M96 55.5h2M99 55.5h1M16 56.5h1M23 56.5h1M26 56.5h3M30 56.5h2M36 56.5h1M38 56.5h3M45 56.5h1M56 56.5h1M65 56.5h1M68 56.5h1M70 56.5h2M78 56.5h1M80 56.5h1M88 56.5h1M90 56.5h1M95 56.5h3M99 56.5h1M5 57.5h1M17 57.5h1M20 57.5h1M25 57.5h1M27 57.5h1M34 57.5h1M41 57.5h1M53 57.5h1M56 57.5h1M58 57.5h1M68 57.5h2M73 57.5h1M87 57.5h1M94 57.5h1M96 57.5h1M3 58.5h1M16 58.5h5M25 58.5h1M27 58.5h1M29 58.5h2M35 58.5h2M43 58.5h1M45 58.5h1M47 58.5h1M52 58.5h1M55 58.5h1M66 58.5h1M68 58.5h3M83 58.5h2M90 58.5h1M7 59.5h1M18 59.5h2M23 59.5h1M35 59.5h1M41 59.5h2M45 59.5h1M54 59.5h1M67 59.5h1M69 59.5h1M83 59.5h1M98 59.5h2M6 60.5h1M16 60.5h1M22 60.5h1M31 60.5h1M35 60.5h1M45 60.5h1M60 60.5h1M66 60.5h1M84 60.5h2M1 61.5h2M12 61.5h1M19 61.5h1M26 61.5h1M29 61.5h1M35 61.5h1M41 61.5h5M47 61.5h1M55 61.5h1M57 61.5h1M66 61.5h1M75 61.5h1M80 61.5h1M82 61.5h1M84 61.5h2M97 61.5h1M0 62.5h3M4 62.5h1M8 62.5h1M10 62.5h1M25 62.5h1M28 62.5h2M39 62.5h1M46 62.5h1M54 62.5h1M56 62.5h1M60 62.5h3M68 62.5h2M80 62.5h1M89 62.5h3M96 62.5h2M99 62.5h1M0 63.5h2M8 63.5h2M18 63.5h2M26 63.5h2M37 63.5h2M43 63.5h1M45 63.5h3M52 63.5h3M59 63.5h1M68 63.5h2M71 63.5h1M74 63.5h1M76 63.5h1M80 63.5h3M89 63.5h1M91 63.5h3M97 63.5h1M99 63.5h1M0 64.5h2M5 64.5h1M9 64.5h1M13 64.5h1M15 64.5h1M26 64.5h1M34 64.5h1M46 64.5h2M51 64.5h2M54 64.5h2M68 64.5h2M79 64.5h1M84 64.5h2M97 64.5h1M0 65.5h1M4 65.5h2M17 65.5h1M19 65.5h2M24 65.5h1M44 65.5h2M49 65.5h1M56 65.5h3M60 65.5h1M63 65.5h2M77 65.5h1M79 65.5h2M86 65.5h1M99 65.5h1M1 66.5h1M4 66.5h2M11 66.5h1M16 66.5h1M19 66.5h1M25 66.5h1M28 66.5h1M47 66.5h2M54 66.5h4M64 66.5h1M73 66.5h2M86 66.5h1M88 66.5h2M96 66.5h1M3 67.5h1M11 67.5h1M16 67.5h1M20 67.5h2M24 67.5h1M27 67.5h1M30 67.5h2M33 67.5h3M39 67.5h1M47 67.5h1M50 67.5h2M55 67.5h1M57 67.5h2M63 67.5h2M69 67.5h1M75 67.5h1M87 67.5h2M90 67.5h1M94 67.5h2M97 67.5h1M1 68.5h3M7 68.5h1M9 68.5h1M13 68.5h2M16 68.5h1M24 68.5h2M34 68.5h1M42 68.5h1M44 68.5h2M51 68.5h3M55 68.5h1M58 68.5h1M65 68.5h4M70 68.5h1M74 68.5h1M77 68.5h6M88 68.5h1M98 68.5h1M0 69.5h2M3 69.5h1M6 69.5h1M11 69.5h1M13 69.5h1M15 69.5h1M18 69.5h1M20 69.5h1M22 69.5h1M29 69.5h1M41 69.5h5M47 69.5h1M55 69.5h1M57 69.5h1M59 69.5h1M66 69.5h4M72 69.5h1M79 69.5h2M86 69.5h1M90 69.5h1M94 69.5h1M96 69.5h1M98 69.5h2M10 70.5h6M20 70.5h6M37 70.5h1M41 70.5h2M46 70.5h2M57 70.5h2M79 70.5h1M96 70.5h2M4 71.5h2M10 71.5h1M13 71.5h1M15 71.5h2M20 71.5h2M31 71.5h1M39 71.5h1M41 71.5h3M48 71.5h1M51 71.5h1M57 71.5h2M60 71.5h1M79 71.5h1M83 71.5h1M89 71.5h2M96 71.5h1M4 72.5h1M20 72.5h1M31 72.5h2M38 72.5h2M45 72.5h4M51 72.5h1M54 72.5h1M58 72.5h2M61 72.5h1M65 72.5h1M67 72.5h1M86 72.5h2M94 72.5h1M0 73.5h2M7 73.5h1M9 73.5h1M14 73.5h1M35 73.5h1M37 73.5h3M44 73.5h2M48 73.5h2M57 73.5h2M67 73.5h4M72 73.5h1M75 73.5h2M79 73.5h4M86 73.5h2M95 73.5h1M7 74.5h1M9 74.5h1M16 74.5h3M29 74.5h1M35 74.5h1M42 74.5h1M51 74.5h1M53 74.5h1M55 74.5h1M57 74.5h1M60 74.5h1M68 74.5h2M75 74.5h1M80 74.5h1M84 74.5h1M87 74.5h1M91 74.5h1M95 74.5h1M97 74.5h1M99 74.5h1M6 75.5h2M11 75.5h1M13 75.5h1M16 75.5h1M18 75.5h1M22 75.5h1M26 75.5h1M42 75.5h1M55 75.5h2M58 75.5h1M60 75.5h1M65 75.5h2M70 75.5h1M86 75.5h1M89 75.5h3M97 75.5h1M7 76.5h1M14 76.5h2M18 76.5h1M23 76.5h1M38 76.5h1M43 76.5h1M51 76.5h1M64 76.5h2M76 76.5h2M89 76.5h1M96 76.5h3M0 77.5h1M7 77.5h2M14 77.5h1M16 77.5h1M19 77.5h2M23 77.5h1M25 77.5h5M31 77.5h1M35 77.5h1M39 77.5h1M47 77.5h1M50 77.5h1M54 77.5h1M60 77.5h1M64 77.5h1M73 77.5h1M76 77.5h2M91 77.5h1M4 78.5h1M7 78.5h2M14 78.5h3M18 78.5h2M23 78.5h2M26 78.5h1M28 78.5h1M30 78.5h1M47 78.5h1M50 78.5h4M63 78.5h1M76 78.5h1M82 78.5h1M98 78.5h2M1 79.5h1M3 79.5h1M7 79.5h2M11 79.5h3M16 79.5h3M24 79.5h1M28 79.5h2M45 79.5h1M49 79.5h1M63 79.5h2M68 79.5h3M79 79.5h2M83 79.5h1M94 79.5h1M3 80.5h1M8 80.5h1M10 80.5h1M12 80.5h1M15 80.5h3M22 80.5h3M27 80.5h1M33 80.5h1M35 80.5h1M44 80.5h1M49 80.5h2M53 80.5h2M65 80.5h1M69 80.5h1M79 80.5h3M83 80.5h2M99 80.5h1M8 81.5h1M15 81.5h1M18 81.5h1M20 81.5h1M22 81.5h1M37 81.5h1M50 81.5h1M63 81.5h2M66 81.5h1M78 81.5h3M83 81.5h1M94 81.5h1M97 81.5h1M7 82.5h1M13 82.5h2M18 82.5h1M20 82.5h1M27 82.5h1M30 82.5h1M35 82.5h1M37 82.5h1M44 82.5h1M47 82.5h1M50 82.5h1M58 82.5h3M73 82.5h2M79 82.5h1M87 82.5h2M13 83.5h1M20 83.5h1M22 83.5h1M28 83.5h3M41 83.5h2M49 83.5h2M53 83.5h1M58 83.5h1M62 83.5h1M64 83.5h1M68 83.5h2M72 83.5h1M87 83.5h1M91 83.5h1M96 83.5h1M12 84.5h1M16 84.5h1M20 84.5h2M27 84.5h1M30 84.5h1M38 84.5h1M49 84.5h2M58 84.5h2M68 84.5h2M72 84.5h1M77 84.5h2M91 84.5h1M14 85.5h1M26 85.5h1M31 85.5h1M37 85.5h2M45 85.5h1M52 85.5h1M56 85.5h1M65 85.5h1M69 85.5h1M72 85.5h2M77 85.5h1M86 85.5h2M90 85.5h3M3 86.5h2M12 86.5h1M48 86.5h1M58 86.5h1M60 86.5h3M64 86.5h2M67 86.5h1M77 86.5h2M84 86.5h1M91 86.5h2M98 86.5h1M1 87.5h1M8 87.5h2M11 87.5h2M15 87.5h1M17 87.5h1M25 87.5h1M48 87.5h1M55 87.5h1M59 87.5h4M66 87.5h2M72 87.5h1M80 87.5h2M94 87.5h2M98 87.5h1M3 88.5h1M5 88.5h1M21 88.5h1M27 88.5h1M33 88.5h1M41 88.5h1M43 88.5h1M47 88.5h2M50 88.5h1M64 88.5h2M67 88.5h1M72 88.5h1M76 88.5h1M80 88.5h1M82 88.5h1M85 88.5h2M88 88.5h2M92 88.5h1M5 89.5h2M8 89.5h2M32 89.5h1M43 89.5h1M50 89.5h1M52 89.5h1M57 89.5h1M63 89.5h2M69 89.5h1M74 89.5h1M76 89.5h1M82 89.5h2M86 89.5h1M89 89.5h1M19 90.5h1M45 90.5h2M51 90.5h2M62 90.5h3M67 90.5h1M69 90.5h1M73 90.5h2M76 90.5h1M81 90.5h1M97 90.5h1M5 91.5h1M8 91.5h1M23 91.5h1M27 91.5h2M30 91.5h1M35 91.5h1M45 91.5h1M49 91.5h1M57 91.5h1M59 91.5h4M64 91.5h3M68 91.5h2M72 91.5h1M82 91.5h2M90 91.5h1M92 91.5h1M94 91.5h1M7 92.5h1M12 92.5h1M21 92.5h1M35 92.5h1M56 92.5h1M58 92.5h2M62 92.5h3M66 92.5h1M75 92.5h1M82 92.5h1M86 92.5h2M94 92.5h1M96 92.5h2M3 93.5h4M8 93.5h1M12 93.5h1M21 93.5h1M29 93.5h1M31 93.5h1M36 93.5h1M47 93.5h1M58 93.5h1M65 93.5h2M77 93.5h2M84 93.5h2M87 93.5h1M89 93.5h1M91 93.5h1M93 93.5h1M95 93.5h1M97 93.5h1M3 94.5h1M5 94.5h2M8 94.5h2M12 94.5h1M16 94.5h2M28 94.5h5M36 94.5h2M46 94.5h1M61 94.5h1M72 94.5h1M74 94.5h2M78 94.5h1M83 94.5h1M87 94.5h1M89 94.5h2M93 94.5h1M95 94.5h2M98 94.5h2M2 95.5h2M5 95.5h3M9 95.5h3M13 95.5h3M18 95.5h1M27 95.5h1M29 95.5h1M31 95.5h4M38 95.5h2M43 95.5h3M64 95.5h1M73 95.5h1M80 95.5h1M84 95.5h1M87 95.5h4M95 95.5h1M0 96.5h1M4 96.5h1M7 96.5h1M10 96.5h3M14 96.5h2M27 96.5h3M31 96.5h5M39 96.5h2M84 96.5h2M93 96.5h1M10 97.5h2M13 97.5h3M18 97.5h1M24 97.5h1M27 97.5h2M30 97.5h3M34 97.5h3M49 97.5h2M69 97.5h2M78 97.5h2M84 97.5h2M87 97.5h2M91 97.5h2M96 97.5h2M6 98.5h2M10 98.5h1M14 98.5h1M30 98.5h1M34 98.5h1M51 98.5h3M55 98.5h1M62 98.5h2M71 98.5h1M82 98.5h1M88 98.5h1M91 98.5h1M1 99.5h1M4 99.5h1M13 99.5h1M16 99.5h1M23 99.5h2M29 99.5h3M34 99.5h2M39 99.5h1M43 99.5h1M48 99.5h2M54 99.5h2M62 99.5h2M70 99.5h1M75 99.5h1M82 99.5h2M91 99.5h2M98 99.5h1" stroke="#fff" stroke-width="1.02" fill="none"/>
</g></g>
<g filter="url(#pb)"><g transform="translate(287.3,1642.7) scale(2.0710,2.2850)">
<rect x="0" y="0" width="100" height="100" fill="#060606"/>
<path d="M0 0.5h4M7 0.5h3M12 0.5h1M15 0.5h2M23 0.5h1M25 0.5h4M31 0.5h3M35 0.5h6M45 0.5h2M53 0.5h2M59 0.5h2M62 0.5h3M67 0.5h2M70 0.5h3M74 0.5h2M83 0.5h1M88 0.5h1M92 0.5h6M4 1.5h1M13 1.5h1M18 1.5h1M23 1.5h3M27 1.5h2M32 1.5h1M34 1.5h2M48 1.5h1M50 1.5h3M54 1.5h1M57 1.5h1M60 1.5h1M62 1.5h1M67 1.5h2M73 1.5h2M81 1.5h2M86 1.5h1M88 1.5h3M10 2.5h1M17 2.5h1M20 2.5h1M23 2.5h1M25 2.5h2M28 2.5h4M37 2.5h2M45 2.5h1M49 2.5h4M59 2.5h3M65 2.5h1M67 2.5h2M73 2.5h1M76 2.5h1M81 2.5h1M84 2.5h1M86 2.5h1M88 2.5h2M94 2.5h1M97 2.5h1M2 3.5h2M6 3.5h6M23 3.5h2M26 3.5h7M34 3.5h1M38 3.5h5M46 3.5h1M53 3.5h1M57 3.5h2M61 3.5h1M64 3.5h3M72 3.5h2M76 3.5h1M80 3.5h2M89 3.5h2M7 4.5h1M10 4.5h1M19 4.5h5M26 4.5h6M35 4.5h1M38 4.5h1M40 4.5h4M45 4.5h3M50 4.5h4M56 4.5h2M63 4.5h2M76 4.5h3M80 4.5h3M84 4.5h1M93 4.5h1M97 4.5h1M0 5.5h1M3 5.5h1M6 5.5h1M11 5.5h1M13 5.5h2M17 5.5h1M20 5.5h3M24 5.5h3M28 5.5h2M31 5.5h1M35 5.5h3M51 5.5h1M54 5.5h2M58 5.5h1M63 5.5h4M69 5.5h2M75 5.5h2M78 5.5h1M80 5.5h3M89 5.5h3M93 5.5h1M98 5.5h1M0 6.5h3M5 6.5h2M9 6.5h1M12 6.5h3M20 6.5h1M22 6.5h1M26 6.5h2M29 6.5h1M33 6.5h1M36 6.5h2M48 6.5h1M53 6.5h1M58 6.5h2M64 6.5h5M70 6.5h1M73 6.5h1M77 6.5h1M81 6.5h1M86 6.5h1M89 6.5h3M93 6.5h1M97 6.5h3M0 7.5h3M4 7.5h1M7 7.5h2M13 7.5h2M19 7.5h1M27 7.5h2M33 7.5h4M38 7.5h1M43 7.5h1M45 7.5h1M48 7.5h1M50 7.5h1M53 7.5h1M58 7.5h1M60 7.5h2M63 7.5h2M67 7.5h2M72 7.5h4M79 7.5h1M81 7.5h2M85 7.5h1M89 7.5h1M99 7.5h1M2 8.5h1M4 8.5h1M7 8.5h1M15 8.5h1M28 8.5h2M34 8.5h2M38 8.5h3M45 8.5h1M50 8.5h4M60 8.5h5M67 8.5h1M72 8.5h3M81 8.5h1M83 8.5h1M86 8.5h2M89 8.5h1M96 8.5h2M99 8.5h1M1 9.5h1M3 9.5h2M6 9.5h1M9 9.5h1M12 9.5h1M14 9.5h3M19 9.5h1M24 9.5h3M28 9.5h3M32 9.5h1M35 9.5h1M37 9.5h4M46 9.5h1M49 9.5h1M52 9.5h1M54 9.5h1M56 9.5h7M64 9.5h4M71 9.5h4M77 9.5h1M81 9.5h2M84 9.5h1M88 9.5h1M90 9.5h4M96 9.5h2M1 10.5h4M6 10.5h1M10 10.5h4M17 10.5h1M28 10.5h3M35 10.5h1M38 10.5h5M48 10.5h1M54 10.5h1M57 10.5h3M61 10.5h1M65 10.5h1M67 10.5h2M71 10.5h5M77 10.5h2M82 10.5h1M84 10.5h2M90 10.5h3M94 10.5h2M97 10.5h1M0 11.5h2M4 11.5h1M6 11.5h1M8 11.5h6M20 11.5h1M22 11.5h2M26 11.5h3M30 11.5h1M32 11.5h1M35 11.5h1M37 11.5h2M42 11.5h1M48 11.5h1M51 11.5h2M54 11.5h1M58 11.5h2M61 11.5h1M63 11.5h1M65 11.5h1M68 11.5h1M70 11.5h2M74 11.5h4M82 11.5h6M89 11.5h1M93 11.5h2M99 11.5h1M0 12.5h1M4 12.5h1M7 12.5h5M13 12.5h2M23 12.5h3M27 12.5h1M34 12.5h1M36 12.5h2M40 12.5h1M42 12.5h1M45 12.5h1M52 12.5h3M56 12.5h1M59 12.5h1M65 12.5h9M76 12.5h2M81 12.5h3M87 12.5h2M91 12.5h1M94 12.5h1M96 12.5h1M99 12.5h1M0 13.5h3M5 13.5h1M7 13.5h5M15 13.5h2M18 13.5h1M26 13.5h2M32 13.5h2M36 13.5h3M44 13.5h1M46 13.5h2M54 13.5h3M61 13.5h6M68 13.5h2M72 13.5h6M81 13.5h1M84 13.5h1M94 13.5h1M96 13.5h2M3 14.5h9M15 14.5h4M22 14.5h1M28 14.5h2M31 14.5h1M36 14.5h2M42 14.5h1M53 14.5h2M56 14.5h2M59 14.5h1M61 14.5h1M65 14.5h1M71 14.5h4M76 14.5h2M79 14.5h1M84 14.5h1M92 14.5h1M96 14.5h2M1 15.5h9M11 15.5h1M13 15.5h1M17 15.5h1M19 15.5h2M29 15.5h2M35 15.5h5M42 15.5h2M46 15.5h2M51 15.5h1M55 15.5h3M59 15.5h1M61 15.5h1M65 15.5h1M70 15.5h3M74 15.5h1M76 15.5h1M78 15.5h5M89 15.5h1M92 15.5h1M95 15.5h2M1 16.5h3M6 16.5h4M14 16.5h1M20 16.5h1M23 16.5h2M26 16.5h1M35 16.5h5M44 16.5h1M46 16.5h2M51 16.5h1M55 16.5h2M58 16.5h2M62 16.5h3M71 16.5h6M86 16.5h2M89 16.5h2M94 16.5h3M4 17.5h2M10 17.5h1M13 17.5h3M23 17.5h2M34 17.5h4M41 17.5h4M47 17.5h1M53 17.5h1M56 17.5h3M60 17.5h1M64 17.5h3M71 17.5h1M73 17.5h2M84 17.5h1M88 17.5h3M97 17.5h1M99 17.5h1M0 18.5h2M4 18.5h2M13 18.5h4M24 18.5h1M36 18.5h1M40 18.5h7M48 18.5h2M52 18.5h1M55 18.5h3M59 18.5h3M64 18.5h2M67 18.5h2M71 18.5h1M73 18.5h2M76 18.5h1M78 18.5h2M84 18.5h6M99 18.5h1M0 19.5h3M4 19.5h1M8 19.5h3M12 19.5h2M16 19.5h2M19 19.5h2M22 19.5h1M24 19.5h3M29 19.5h1M32 19.5h1M35 19.5h6M42 19.5h2M45 19.5h1M49 19.5h4M54 19.5h1M57 19.5h2M61 19.5h1M63 19.5h1M65 19.5h2M73 19.5h1M75 19.5h1M77 19.5h5M84 19.5h3M89 19.5h1M97 19.5h1M4 20.5h1M9 20.5h1M12 20.5h3M16 20.5h2M20 20.5h2M24 20.5h6M34 20.5h1M37 20.5h2M43 20.5h2M46 20.5h1M49 20.5h2M53 20.5h7M62 20.5h7M77 20.5h3M81 20.5h2M84 20.5h1M87 20.5h1M89 20.5h2M97 20.5h1M99 20.5h1M1 21.5h1M3 21.5h2M7 21.5h4M21 21.5h11M33 21.5h3M37 21.5h1M41 21.5h1M43 21.5h2M46 21.5h2M49 21.5h2M52 21.5h2M55 21.5h1M57 21.5h1M62 21.5h2M71 21.5h2M78 21.5h10M90 21.5h1M95 21.5h5M3 22.5h2M9 22.5h3M18 22.5h1M20 22.5h5M27 22.5h1M29 22.5h3M35 22.5h4M44 22.5h1M52 22.5h1M54 22.5h1M58 22.5h5M64 22.5h5M70 22.5h2M76 22.5h2M81 22.5h5M87 22.5h1M89 22.5h5M96 22.5h3M0 23.5h1M3 23.5h2M7 23.5h2M20 23.5h2M33 23.5h1M35 23.5h1M37 23.5h1M43 23.5h3M47 23.5h2M55 23.5h1M59 23.5h2M64 23.5h3M72 23.5h3M76 23.5h3M80 23.5h2M84 23.5h1M91 23.5h3M97 23.5h3M0 24.5h2M4 24.5h2M9 24.5h1M16 24.5h1M20 24.5h1M22 24.5h1M33 24.5h1M37 24.5h1M40 24.5h1M43 24.5h1M47 24.5h1M51 24.5h2M55 24.5h2M59 24.5h4M64 24.5h3M70 24.5h1M72 24.5h1M77 24.5h3M81 24.5h1M84 24.5h1M91 24.5h5M98 24.5h1M3 25.5h2M8 25.5h2M11 25.5h2M14 25.5h3M18 25.5h2M22 25.5h1M26 25.5h1M29 25.5h4M38 25.5h1M41 25.5h2M46 25.5h2M50 25.5h1M52 25.5h1M54 25.5h3M58 25.5h2M61 25.5h1M63 25.5h3M68 25.5h1M76 25.5h2M79 25.5h10M91 25.5h2M95 25.5h1M97 25.5h3M0 26.5h2M4 26.5h3M8 26.5h1M10 26.5h2M13 26.5h1M15 26.5h2M26 26.5h2M29 26.5h7M41 26.5h1M44 26.5h2M47 26.5h1M49 26.5h1M53 26.5h4M62 26.5h1M74 26.5h1M76 26.5h2M84 26.5h3M91 26.5h2M96 26.5h4M0 27.5h1M3 27.5h2M7 27.5h5M13 27.5h1M16 27.5h1M18 27.5h2M22 27.5h1M24 27.5h1M26 27.5h2M30 27.5h1M32 27.5h2M37 27.5h1M41 27.5h2M44 27.5h2M47 27.5h3M51 27.5h1M56 27.5h1M59 27.5h1M61 27.5h2M65 27.5h3M69 27.5h1M74 27.5h3M79 27.5h1M89 27.5h2M94 27.5h3M98 27.5h2M3 28.5h2M6 28.5h2M10 28.5h2M13 28.5h1M15 28.5h2M18 28.5h1M21 28.5h1M23 28.5h2M26 28.5h3M30 28.5h3M36 28.5h1M39 28.5h4M50 28.5h1M56 28.5h1M59 28.5h1M61 28.5h1M64 28.5h1M69 28.5h2M73 28.5h3M77 28.5h1M81 28.5h1M85 28.5h1M90 28.5h1M94 28.5h3M9 29.5h3M13 29.5h2M16 29.5h1M19 29.5h1M22 29.5h2M25 29.5h2M28 29.5h1M31 29.5h1M36 29.5h2M41 29.5h5M48 29.5h2M52 29.5h1M55 29.5h2M59 29.5h2M64 29.5h6M71 29.5h1M73 29.5h2M76 29.5h1M78 29.5h1M81 29.5h1M85 29.5h1M95 29.5h1M98 29.5h1M8 30.5h4M15 30.5h2M19 30.5h1M22 30.5h5M31 30.5h1M33 30.5h1M36 30.5h7M48 30.5h1M50 30.5h1M52 30.5h1M55 30.5h6M63 30.5h3M67 30.5h2M74 30.5h3M79 30.5h4M87 30.5h1M97 30.5h3M0 31.5h4M8 31.5h1M11 31.5h2M14 31.5h2M19 31.5h1M21 31.5h4M30 31.5h1M32 31.5h1M36 31.5h1M39 31.5h3M45 31.5h3M57 31.5h1M59 31.5h3M65 31.5h2M72 31.5h2M75 31.5h1M79 31.5h2M82 31.5h1M90 31.5h1M97 31.5h2M2 32.5h2M5 32.5h2M8 32.5h3M12 32.5h1M18 32.5h1M20 32.5h6M34 32.5h1M36 32.5h2M39 32.5h3M43 32.5h10M56 32.5h2M60 32.5h2M64 32.5h1M70 32.5h1M72 32.5h2M75 32.5h1M81 32.5h3M95 32.5h1M98 32.5h1M5 33.5h1M8 33.5h3M12 33.5h3M18 33.5h1M21 33.5h1M23 33.5h1M30 33.5h1M32 33.5h2M37 33.5h1M43 33.5h1M45 33.5h7M53 33.5h1M56 33.5h1M61 33.5h2M66 33.5h1M68 33.5h3M72 33.5h10M85 33.5h4M95 33.5h1M99 33.5h1M0 34.5h2M3 34.5h4M11 34.5h1M13 34.5h2M17 34.5h1M19 34.5h3M30 34.5h2M40 34.5h2M47 34.5h6M55 34.5h1M60 34.5h4M68 34.5h1M71 34.5h2M75 34.5h1M78 34.5h2M85 34.5h1M87 34.5h3M91 34.5h3M98 34.5h2M1 35.5h4M6 35.5h1M11 35.5h4M17 35.5h4M30 35.5h3M34 35.5h3M40 35.5h3M47 35.5h4M53 35.5h2M57 35.5h1M63 35.5h1M69 35.5h2M72 35.5h1M77 35.5h2M80 35.5h2M88 35.5h1M91 35.5h1M98 35.5h1M0 36.5h1M3 36.5h1M7 36.5h5M13 36.5h1M16 36.5h2M21 36.5h1M24 36.5h1M34 36.5h4M40 36.5h1M48 36.5h1M53 36.5h2M57 36.5h3M62 36.5h7M72 36.5h1M77 36.5h4M84 36.5h4M89 36.5h1M93 36.5h1M95 36.5h1M97 36.5h1M2 37.5h4M10 37.5h2M15 37.5h2M18 37.5h1M22 37.5h3M31 37.5h2M34 37.5h4M43 37.5h1M45 37.5h4M52 37.5h2M57 37.5h1M59 37.5h1M61 37.5h1M65 37.5h3M73 37.5h1M76 37.5h2M80 37.5h1M82 37.5h1M87 37.5h2M90 37.5h2M94 37.5h3M99 37.5h1M4 38.5h5M12 38.5h1M14 38.5h3M22 38.5h3M30 38.5h2M34 38.5h2M37 38.5h2M44 38.5h2M47 38.5h2M51 38.5h2M56 38.5h1M60 38.5h1M62 38.5h1M65 38.5h3M73 38.5h1M75 38.5h4M88 38.5h4M94 38.5h3M0 39.5h1M2 39.5h1M6 39.5h1M9 39.5h2M12 39.5h2M19 39.5h1M21 39.5h1M25 39.5h1M33 39.5h2M44 39.5h1M49 39.5h2M52 39.5h1M62 39.5h2M65 39.5h4M71 39.5h3M76 39.5h3M81 39.5h1M83 39.5h3M88 39.5h3M2 40.5h1M6 40.5h2M11 40.5h2M16 40.5h3M20 40.5h1M22 40.5h1M24 40.5h1M33 40.5h1M35 40.5h2M39 40.5h4M46 40.5h2M49 40.5h2M52 40.5h1M55 40.5h3M60 40.5h2M63 40.5h1M65 40.5h1M67 40.5h2M77 40.5h4M84 40.5h1M89 40.5h2M92 40.5h1M97 40.5h1M99 40.5h1M1 41.5h2M5 41.5h2M17 41.5h2M20 41.5h1M23 41.5h1M30 41.5h1M33 41.5h1M35 41.5h8M44 41.5h3M49 41.5h2M55 41.5h2M61 41.5h1M65 41.5h1M67 41.5h2M72 41.5h1M77 41.5h5M85 41.5h1M87 41.5h1M95 41.5h1M97 41.5h1M2 42.5h1M10 42.5h1M16 42.5h1M18 42.5h1M20 42.5h1M23 42.5h1M26 42.5h1M31 42.5h1M33 42.5h1M37 42.5h1M40 42.5h3M46 42.5h6M56 42.5h1M58 42.5h1M66 42.5h3M72 42.5h2M75 42.5h2M78 42.5h2M81 42.5h5M91 42.5h1M94 42.5h2M99 42.5h1M4 43.5h2M8 43.5h1M13 43.5h1M27 43.5h1M34 43.5h2M37 43.5h1M45 43.5h6M55 43.5h1M59 43.5h2M62 43.5h6M73 43.5h1M76 43.5h2M81 43.5h3M88 43.5h1M91 43.5h2M96 43.5h1M98 43.5h2M3 44.5h3M13 44.5h1M18 44.5h1M20 44.5h1M33 44.5h1M35 44.5h10M47 44.5h2M51 44.5h1M53 44.5h1M58 44.5h1M60 44.5h1M67 44.5h1M76 44.5h1M80 44.5h1M83 44.5h2M88 44.5h3M92 44.5h3M97 44.5h2M1 45.5h1M4 45.5h2M8 45.5h1M10 45.5h2M13 45.5h1M15 45.5h1M17 45.5h5M30 45.5h3M36 45.5h2M39 45.5h2M42 45.5h1M49 45.5h1M53 45.5h1M57 45.5h2M62 45.5h2M66 45.5h2M69 45.5h2M72 45.5h1M87 45.5h1M90 45.5h1M96 45.5h3M2 46.5h1M4 46.5h3M10 46.5h1M17 46.5h2M22 46.5h2M25 46.5h1M28 46.5h5M34 46.5h3M38 46.5h1M41 46.5h2M49 46.5h2M53 46.5h1M58 46.5h1M65 46.5h2M69 46.5h3M74 46.5h2M78 46.5h2M86 46.5h2M89 46.5h1M94 46.5h1M96 46.5h1M5 47.5h1M7 47.5h1M10 47.5h2M13 47.5h2M18 47.5h1M22 47.5h1M27 47.5h2M32 47.5h2M35 47.5h1M40 47.5h3M44 47.5h1M46 47.5h1M49 47.5h1M54 47.5h8M65 47.5h1M68 47.5h4M75 47.5h3M83 47.5h3M96 47.5h1M0 48.5h2M4 48.5h2M13 48.5h3M17 48.5h1M20 48.5h3M28 48.5h3M32 48.5h1M34 48.5h7M43 48.5h1M45 48.5h1M49 48.5h1M54 48.5h2M57 48.5h6M64 48.5h1M69 48.5h1M71 48.5h1M75 48.5h4M81 48.5h1M84 48.5h9M97 48.5h1M2 49.5h1M4 49.5h1M8 49.5h3M13 49.5h2M17 49.5h1M20 49.5h2M27 49.5h1M33 49.5h1M37 49.5h1M39 49.5h1M44 49.5h2M47 49.5h1M49 49.5h1M52 49.5h1M54 49.5h3M59 49.5h4M67 49.5h4M72 49.5h4M77 49.5h1M81 49.5h1M83 49.5h3M87 49.5h1M89 49.5h2M6 50.5h2M12 50.5h2M15 50.5h2M18 50.5h3M29 50.5h1M33 50.5h2M36 50.5h3M45 50.5h1M47 50.5h8M56 50.5h1M59 50.5h4M67 50.5h1M69 50.5h2M72 50.5h1M74 50.5h1M78 50.5h1M81 50.5h4M86 50.5h1M88 50.5h1M95 50.5h1M4 51.5h5M12 51.5h4M22 51.5h3M27 51.5h1M31 51.5h8M42 51.5h2M46 51.5h2M50 51.5h1M54 51.5h1M59 51.5h1M62 51.5h1M64 51.5h2M69 51.5h2M72 51.5h5M85 51.5h2M88 51.5h1M97 51.5h1M0 52.5h1M5 52.5h4M10 52.5h6M17 52.5h3M23 52.5h5M29 52.5h1M31 52.5h1M33 52.5h1M35 52.5h1M42 52.5h1M46 52.5h2M54 52.5h3M58 52.5h1M60 52.5h1M63 52.5h1M70 52.5h4M77 52.5h3M83 52.5h1M88 52.5h2M93 52.5h1M97 52.5h2M0 53.5h1M2 53.5h1M5 53.5h3M10 53.5h6M20 53.5h5M27 53.5h3M34 53.5h2M38 53.5h2M43 53.5h2M50 53.5h1M53 53.5h8M67 53.5h1M69 53.5h1M71 53.5h3M75 53.5h1M81 53.5h5M87 53.5h3M92 53.5h3M5 54.5h3M10 54.5h4M20 54.5h2M29 54.5h1M32 54.5h1M34 54.5h3M42 54.5h2M49 54.5h2M56 54.5h1M60 54.5h2M63 54.5h1M65 54.5h2M70 54.5h3M77 54.5h3M83 54.5h5M89 54.5h2M93 54.5h3M98 54.5h1M0 55.5h1M6 55.5h4M11 55.5h2M14 55.5h1M16 55.5h1M21 55.5h2M28 55.5h1M33 55.5h1M38 55.5h1M42 55.5h1M48 55.5h3M52 55.5h2M56 55.5h2M59 55.5h3M63 55.5h3M68 55.5h2M72 55.5h2M76 55.5h2M80 55.5h6M87 55.5h1M89 55.5h3M94 55.5h2M98 55.5h2M0 56.5h2M5 56.5h2M8 56.5h2M12 56.5h1M14 56.5h2M20 56.5h2M25 56.5h1M27 56.5h1M33 56.5h1M35 56.5h1M38 56.5h1M42 56.5h1M44 56.5h1M46 56.5h2M49 56.5h1M53 56.5h1M55 56.5h2M61 56.5h3M69 56.5h1M73 56.5h3M78 56.5h1M80 56.5h2M84 56.5h1M87 56.5h2M90 56.5h2M94 56.5h2M98 56.5h2M1 57.5h1M3 57.5h3M8 57.5h3M14 57.5h2M23 57.5h3M31 57.5h2M35 57.5h1M41 57.5h7M51 57.5h4M56 57.5h2M63 57.5h1M67 57.5h1M70 57.5h1M72 57.5h2M75 57.5h1M81 57.5h1M84 57.5h4M91 57.5h3M95 57.5h3M99 57.5h1M1 58.5h1M6 58.5h1M9 58.5h3M15 58.5h1M17 58.5h1M20 58.5h1M24 58.5h1M31 58.5h4M39 58.5h2M45 58.5h4M51 58.5h7M63 58.5h3M67 58.5h7M76 58.5h2M80 58.5h2M84 58.5h5M93 58.5h2M96 58.5h1M1 59.5h1M3 59.5h4M8 59.5h1M10 59.5h2M15 59.5h1M24 59.5h1M28 59.5h1M30 59.5h2M36 59.5h2M39 59.5h2M44 59.5h2M47 59.5h1M49 59.5h5M55 59.5h1M57 59.5h1M59 59.5h1M63 59.5h4M68 59.5h7M78 59.5h2M82 59.5h2M86 59.5h3M90 59.5h1M93 59.5h4M1 60.5h3M6 60.5h1M9 60.5h2M12 60.5h1M15 60.5h5M21 60.5h1M24 60.5h1M27 60.5h1M30 60.5h1M33 60.5h2M36 60.5h2M42 60.5h4M47 60.5h2M50 60.5h1M53 60.5h6M61 60.5h3M66 60.5h1M69 60.5h6M77 60.5h3M81 60.5h1M83 60.5h3M89 60.5h3M94 60.5h2M97 60.5h3M1 61.5h6M8 61.5h2M12 61.5h2M15 61.5h2M18 61.5h2M22 61.5h1M25 61.5h5M33 61.5h2M36 61.5h2M40 61.5h1M50 61.5h3M54 61.5h4M59 61.5h1M61 61.5h1M65 61.5h1M70 61.5h4M77 61.5h4M83 61.5h5M89 61.5h4M97 61.5h1M3 62.5h3M7 62.5h4M13 62.5h3M20 62.5h1M31 62.5h2M41 62.5h2M45 62.5h4M50 62.5h1M53 62.5h1M55 62.5h1M58 62.5h1M61 62.5h1M65 62.5h1M70 62.5h1M73 62.5h1M77 62.5h3M82 62.5h2M85 62.5h4M90 62.5h1M92 62.5h3M6 63.5h1M10 63.5h2M14 63.5h2M18 63.5h2M27 63.5h6M38 63.5h8M48 63.5h4M54 63.5h2M57 63.5h2M60 63.5h1M64 63.5h4M69 63.5h4M77 63.5h7M86 63.5h1M88 63.5h1M90 63.5h1M94 63.5h2M6 64.5h1M13 64.5h2M16 64.5h1M28 64.5h1M35 64.5h1M39 64.5h4M45 64.5h2M49 64.5h2M53 64.5h2M56 64.5h3M60 64.5h1M67 64.5h1M70 64.5h1M76 64.5h3M82 64.5h2M85 64.5h1M88 64.5h1M90 64.5h1M92 64.5h2M1 65.5h4M7 65.5h1M9 65.5h2M15 65.5h3M19 65.5h1M22 65.5h3M27 65.5h1M35 65.5h2M41 65.5h1M45 65.5h1M54 65.5h1M57 65.5h3M62 65.5h2M65 65.5h1M67 65.5h1M70 65.5h2M74 65.5h5M81 65.5h3M86 65.5h1M90 65.5h4M6 66.5h2M9 66.5h1M11 66.5h1M15 66.5h11M27 66.5h1M30 66.5h1M32 66.5h1M41 66.5h2M46 66.5h1M48 66.5h2M56 66.5h1M58 66.5h1M61 66.5h3M66 66.5h2M69 66.5h11M81 66.5h2M85 66.5h2M89 66.5h1M91 66.5h2M4 67.5h1M6 67.5h1M8 67.5h1M10 67.5h2M14 67.5h1M21 67.5h7M31 67.5h3M41 67.5h1M43 67.5h1M49 67.5h1M55 67.5h6M62 67.5h2M66 67.5h3M72 67.5h3M77 67.5h4M82 67.5h1M84 67.5h8M95 67.5h1M4 68.5h4M9 68.5h3M13 68.5h2M17 68.5h1M23 68.5h3M30 68.5h2M36 68.5h1M39 68.5h3M48 68.5h1M55 68.5h1M57 68.5h2M60 68.5h2M63 68.5h1M67 68.5h1M70 68.5h4M76 68.5h3M80 68.5h3M85 68.5h1M87 68.5h1M89 68.5h1M93 68.5h2M0 69.5h2M4 69.5h1M6 69.5h2M10 69.5h2M14 69.5h1M17 69.5h2M21 69.5h4M27 69.5h3M31 69.5h1M34 69.5h4M39 69.5h3M47 69.5h1M49 69.5h1M54 69.5h1M57 69.5h2M60 69.5h2M63 69.5h2M66 69.5h3M72 69.5h1M77 69.5h2M85 69.5h1M89 69.5h3M94 69.5h1M97 69.5h1M99 69.5h1M1 70.5h2M4 70.5h2M7 70.5h1M10 70.5h2M13 70.5h1M18 70.5h2M21 70.5h2M27 70.5h7M36 70.5h1M38 70.5h4M43 70.5h1M46 70.5h2M49 70.5h2M53 70.5h1M56 70.5h1M60 70.5h2M64 70.5h1M66 70.5h6M74 70.5h1M77 70.5h3M81 70.5h1M89 70.5h2M94 70.5h5M1 71.5h1M5 71.5h1M9 71.5h2M18 71.5h1M20 71.5h2M26 71.5h5M32 71.5h1M35 71.5h2M38 71.5h1M40 71.5h2M43 71.5h4M48 71.5h2M52 71.5h2M55 71.5h6M62 71.5h4M68 71.5h2M74 71.5h4M81 71.5h3M89 71.5h1M91 71.5h1M93 71.5h1M95 71.5h3M0 72.5h3M6 72.5h1M8 72.5h3M13 72.5h2M16 72.5h1M18 72.5h5M24 72.5h1M27 72.5h3M33 72.5h2M36 72.5h3M40 72.5h1M48 72.5h2M56 72.5h9M67 72.5h3M74 72.5h4M82 72.5h4M87 72.5h5M94 72.5h2M98 72.5h1M0 73.5h2M8 73.5h2M19 73.5h1M23 73.5h3M27 73.5h2M32 73.5h2M38 73.5h1M41 73.5h3M45 73.5h4M52 73.5h2M56 73.5h4M61 73.5h3M65 73.5h1M69 73.5h1M71 73.5h1M73 73.5h6M81 73.5h4M87 73.5h2M90 73.5h1M94 73.5h1M97 73.5h3M0 74.5h2M4 74.5h2M8 74.5h1M14 74.5h2M23 74.5h2M27 74.5h5M33 74.5h1M35 74.5h5M41 74.5h3M47 74.5h6M56 74.5h5M64 74.5h6M72 74.5h4M77 74.5h1M79 74.5h6M86 74.5h4M92 74.5h8M0 75.5h2M7 75.5h2M16 75.5h1M20 75.5h1M29 75.5h8M39 75.5h1M41 75.5h2M45 75.5h6M53 75.5h2M56 75.5h1M59 75.5h4M64 75.5h1M67 75.5h3M72 75.5h3M78 75.5h1M80 75.5h2M83 75.5h9M93 75.5h2M98 75.5h2M1 76.5h3M5 76.5h1M13 76.5h1M19 76.5h2M25 76.5h1M27 76.5h1M34 76.5h2M37 76.5h1M39 76.5h2M42 76.5h2M48 76.5h1M50 76.5h1M53 76.5h1M55 76.5h3M62 76.5h4M68 76.5h3M72 76.5h2M76 76.5h1M79 76.5h1M81 76.5h1M85 76.5h6M92 76.5h3M96 76.5h1M0 77.5h1M2 77.5h2M5 77.5h1M9 77.5h1M15 77.5h1M24 77.5h3M31 77.5h6M41 77.5h1M47 77.5h1M51 77.5h8M60 77.5h3M65 77.5h1M69 77.5h2M72 77.5h1M82 77.5h3M88 77.5h2M93 77.5h2M0 78.5h1M2 78.5h2M8 78.5h2M23 78.5h1M26 78.5h2M32 78.5h3M39 78.5h1M41 78.5h2M49 78.5h1M52 78.5h2M55 78.5h1M57 78.5h5M66 78.5h1M69 78.5h4M74 78.5h1M76 78.5h1M79 78.5h1M81 78.5h1M85 78.5h3M95 78.5h1M97 78.5h3M0 79.5h2M3 79.5h1M8 79.5h2M13 79.5h1M19 79.5h5M27 79.5h1M31 79.5h6M40 79.5h2M45 79.5h3M49 79.5h3M55 79.5h4M60 79.5h1M65 79.5h1M68 79.5h1M70 79.5h3M74 79.5h1M77 79.5h3M81 79.5h2M84 79.5h2M88 79.5h5M98 79.5h2M0 80.5h6M8 80.5h1M23 80.5h2M30 80.5h1M32 80.5h1M34 80.5h4M39 80.5h3M47 80.5h3M51 80.5h2M58 80.5h2M62 80.5h1M65 80.5h1M68 80.5h1M71 80.5h1M74 80.5h2M77 80.5h3M82 80.5h1M84 80.5h1M87 80.5h3M91 80.5h2M95 80.5h5M0 81.5h4M10 81.5h4M24 81.5h1M27 81.5h2M30 81.5h1M32 81.5h4M40 81.5h4M45 81.5h2M51 81.5h1M53 81.5h2M57 81.5h3M62 81.5h1M69 81.5h3M73 81.5h1M75 81.5h5M82 81.5h3M88 81.5h1M91 81.5h1M99 81.5h1M8 82.5h2M13 82.5h1M16 82.5h1M18 82.5h1M20 82.5h2M28 82.5h1M30 82.5h1M34 82.5h1M36 82.5h3M42 82.5h7M54 82.5h1M56 82.5h4M67 82.5h3M71 82.5h2M76 82.5h3M80 82.5h1M82 82.5h3M93 82.5h7M5 83.5h1M8 83.5h2M13 83.5h4M18 83.5h1M23 83.5h2M30 83.5h1M32 83.5h1M37 83.5h2M42 83.5h6M52 83.5h1M54 83.5h1M57 83.5h2M60 83.5h2M67 83.5h7M76 83.5h2M80 83.5h1M82 83.5h1M88 83.5h1M93 83.5h5M99 83.5h1M1 84.5h2M5 84.5h1M8 84.5h3M13 84.5h1M15 84.5h2M21 84.5h2M24 84.5h1M27 84.5h3M31 84.5h1M36 84.5h3M41 84.5h7M50 84.5h1M55 84.5h2M58 84.5h1M60 84.5h1M62 84.5h2M67 84.5h3M71 84.5h10M93 84.5h1M96 84.5h1M98 84.5h2M0 85.5h2M3 85.5h1M7 85.5h2M11 85.5h1M13 85.5h1M16 85.5h1M19 85.5h1M21 85.5h2M24 85.5h3M28 85.5h1M31 85.5h2M38 85.5h4M44 85.5h3M50 85.5h1M55 85.5h2M62 85.5h3M67 85.5h1M76 85.5h5M90 85.5h1M92 85.5h2M95 85.5h2M99 85.5h1M1 86.5h1M3 86.5h1M5 86.5h1M7 86.5h2M14 86.5h1M17 86.5h2M20 86.5h3M25 86.5h2M28 86.5h2M31 86.5h2M36 86.5h5M44 86.5h2M53 86.5h1M57 86.5h1M60 86.5h10M71 86.5h1M74 86.5h2M77 86.5h2M84 86.5h1M86 86.5h2M89 86.5h8M99 86.5h1M3 87.5h3M8 87.5h7M17 87.5h2M20 87.5h4M26 87.5h2M31 87.5h4M37 87.5h1M39 87.5h2M42 87.5h4M48 87.5h1M51 87.5h1M57 87.5h1M59 87.5h7M68 87.5h5M74 87.5h5M81 87.5h2M87 87.5h1M89 87.5h4M94 87.5h2M97 87.5h1M0 88.5h2M3 88.5h1M5 88.5h1M10 88.5h2M17 88.5h1M23 88.5h1M33 88.5h1M35 88.5h7M44 88.5h5M52 88.5h2M56 88.5h1M59 88.5h7M67 88.5h4M74 88.5h1M78 88.5h1M80 88.5h2M89 88.5h1M92 88.5h1M94 88.5h2M97 88.5h1M99 88.5h1M0 89.5h2M5 89.5h2M8 89.5h1M15 89.5h2M21 89.5h1M29 89.5h2M36 89.5h5M42 89.5h1M45 89.5h1M47 89.5h2M50 89.5h4M55 89.5h1M59 89.5h7M69 89.5h1M72 89.5h1M74 89.5h1M77 89.5h1M81 89.5h1M83 89.5h1M85 89.5h2M89 89.5h1M92 89.5h1M94 89.5h2M97 89.5h3M9 90.5h3M13 90.5h1M28 90.5h3M32 90.5h3M36 90.5h5M48 90.5h6M57 90.5h7M65 90.5h2M70 90.5h2M73 90.5h3M77 90.5h1M82 90.5h3M86 90.5h1M89 90.5h1M91 90.5h2M94 90.5h6M5 91.5h1M13 91.5h2M24 91.5h2M27 91.5h3M32 91.5h1M34 91.5h4M44 91.5h1M49 91.5h1M52 91.5h1M55 91.5h3M60 91.5h1M62 91.5h2M67 91.5h3M74 91.5h3M82 91.5h1M85 91.5h2M88 91.5h2M92 91.5h1M1 92.5h1M5 92.5h3M15 92.5h1M18 92.5h5M28 92.5h1M32 92.5h1M35 92.5h1M37 92.5h1M40 92.5h3M48 92.5h7M56 92.5h1M63 92.5h1M65 92.5h6M73 92.5h4M81 92.5h4M86 92.5h1M88 92.5h2M92 92.5h2M98 92.5h1M0 93.5h2M5 93.5h1M7 93.5h1M10 93.5h1M12 93.5h1M14 93.5h2M26 93.5h1M32 93.5h3M38 93.5h1M41 93.5h1M46 93.5h2M49 93.5h2M63 93.5h4M69 93.5h1M73 93.5h1M76 93.5h1M79 93.5h1M82 93.5h1M86 93.5h1M88 93.5h1M93 93.5h2M97 93.5h1M5 94.5h1M10 94.5h2M13 94.5h4M19 94.5h2M29 94.5h1M33 94.5h2M36 94.5h3M42 94.5h2M45 94.5h3M49 94.5h3M55 94.5h1M58 94.5h2M63 94.5h1M69 94.5h7M78 94.5h2M86 94.5h1M90 94.5h2M96 94.5h3M0 95.5h3M4 95.5h4M10 95.5h2M14 95.5h1M18 95.5h1M21 95.5h1M24 95.5h4M29 95.5h4M34 95.5h1M37 95.5h1M39 95.5h1M41 95.5h3M45 95.5h3M52 95.5h5M63 95.5h2M66 95.5h1M68 95.5h7M77 95.5h1M80 95.5h1M86 95.5h2M89 95.5h5M97 95.5h2M1 96.5h1M4 96.5h3M8 96.5h3M16 96.5h3M20 96.5h1M22 96.5h1M24 96.5h2M27 96.5h6M34 96.5h5M40 96.5h2M43 96.5h2M46 96.5h2M52 96.5h4M57 96.5h2M68 96.5h6M75 96.5h2M80 96.5h1M85 96.5h4M91 96.5h2M97 96.5h2M1 97.5h1M6 97.5h1M19 97.5h1M25 97.5h3M29 97.5h2M35 97.5h2M38 97.5h7M46 97.5h1M52 97.5h1M57 97.5h1M62 97.5h1M74 97.5h2M82 97.5h2M85 97.5h1M87 97.5h4M94 97.5h1M96 97.5h1M98 97.5h1M0 98.5h1M5 98.5h1M8 98.5h1M11 98.5h1M19 98.5h1M24 98.5h2M28 98.5h1M31 98.5h1M36 98.5h8M46 98.5h3M50 98.5h1M55 98.5h1M62 98.5h1M65 98.5h1M70 98.5h6M77 98.5h1M82 98.5h3M86 98.5h1M88 98.5h1M91 98.5h2M95 98.5h2M0 99.5h3M5 99.5h3M11 99.5h2M14 99.5h4M28 99.5h1M34 99.5h1M36 99.5h3M46 99.5h2M50 99.5h2M53 99.5h2M60 99.5h6M72 99.5h3M77 99.5h1M82 99.5h1M84 99.5h1M86 99.5h1M92 99.5h2M95 99.5h3" stroke="#fafafa" stroke-width="1.02" fill="none"/>
<path d="M1 0.5h1M7 0.5h2M25 0.5h1M38 0.5h1M45 0.5h1M53 0.5h1M59 0.5h1M62 0.5h2M68 0.5h1M74 0.5h1M4 1.5h1M18 1.5h1M25 1.5h1M48 1.5h1M62 1.5h1M81 1.5h1M88 1.5h1M23 2.5h1M29 2.5h1M65 2.5h1M7 3.5h1M24 3.5h1M30 3.5h1M39 3.5h1M64 3.5h2M90 3.5h1M7 4.5h1M23 4.5h1M28 4.5h1M42 4.5h1M52 4.5h1M81 4.5h1M97 4.5h1M25 5.5h1M31 5.5h1M37 5.5h1M51 5.5h1M70 5.5h1M80 5.5h1M2 6.5h1M27 6.5h1M29 6.5h1M66 6.5h1M1 7.5h1M8 7.5h1M27 7.5h1M35 7.5h1M38 7.5h1M45 7.5h1M81 7.5h1M62 8.5h1M74 8.5h1M86 8.5h1M6 9.5h1M40 9.5h1M46 9.5h1M52 9.5h1M62 9.5h1M64 9.5h1M1 10.5h1M11 10.5h1M28 10.5h3M35 10.5h1M94 10.5h2M4 11.5h1M11 11.5h1M23 11.5h1M27 11.5h1M38 11.5h1M52 11.5h1M75 11.5h1M99 11.5h1M0 12.5h1M9 12.5h2M27 12.5h1M67 12.5h1M71 12.5h1M1 13.5h2M27 13.5h1M36 13.5h1M46 13.5h2M61 13.5h1M65 13.5h1M74 13.5h1M81 13.5h1M29 14.5h1M56 14.5h1M59 14.5h1M61 14.5h1M73 14.5h1M79 14.5h1M84 14.5h1M29 15.5h1M37 15.5h1M43 15.5h1M47 15.5h1M51 15.5h1M61 15.5h1M95 15.5h1M1 16.5h1M14 16.5h1M39 16.5h1M44 16.5h1M46 16.5h1M56 16.5h1M58 16.5h1M62 16.5h1M23 17.5h1M56 17.5h1M66 17.5h1M84 17.5h1M90 17.5h1M97 17.5h1M99 17.5h1M0 18.5h1M46 18.5h1M57 18.5h1M59 18.5h1M74 18.5h1M85 18.5h3M1 19.5h1M8 19.5h2M16 19.5h1M32 19.5h1M36 19.5h1M38 19.5h1M42 19.5h1M45 19.5h1M50 19.5h1M54 19.5h1M75 19.5h1M80 19.5h1M84 19.5h1M9 20.5h1M13 20.5h1M16 20.5h1M44 20.5h1M50 20.5h1M82 20.5h1M3 21.5h1M9 21.5h1M22 21.5h1M26 21.5h1M31 21.5h1M52 21.5h2M79 21.5h1M96 21.5h1M98 21.5h1M10 22.5h2M44 22.5h1M52 22.5h1M59 22.5h1M61 22.5h1M64 22.5h2M3 23.5h1M7 23.5h1M20 23.5h1M35 23.5h1M60 23.5h1M74 23.5h1M80 23.5h1M84 23.5h1M9 24.5h1M37 24.5h1M51 24.5h1M64 24.5h1M72 24.5h1M9 25.5h1M30 25.5h2M46 25.5h1M50 25.5h1M54 25.5h1M56 25.5h1M58 25.5h1M63 25.5h2M1 26.5h1M6 26.5h1M31 26.5h1M33 26.5h1M45 26.5h1M47 26.5h1M98 26.5h1M16 27.5h1M26 27.5h1M30 27.5h1M61 27.5h1M65 27.5h2M79 27.5h1M94 27.5h1M98 27.5h1M4 28.5h1M15 28.5h1M18 28.5h1M23 28.5h1M40 28.5h2M50 28.5h1M69 28.5h1M75 28.5h1M81 28.5h1M96 28.5h1M25 29.5h1M37 29.5h1M48 29.5h1M52 29.5h1M55 29.5h1M59 29.5h2M10 30.5h1M23 30.5h1M26 30.5h1M57 30.5h1M60 30.5h1M63 30.5h2M74 30.5h2M87 30.5h1M2 31.5h1M19 31.5h1M45 31.5h1M47 31.5h1M98 31.5h1M10 32.5h1M40 32.5h1M45 32.5h2M52 32.5h1M61 33.5h1M70 33.5h1M73 33.5h1M77 33.5h1M86 33.5h1M95 33.5h1M99 33.5h1M1 34.5h1M3 34.5h1M13 34.5h1M21 34.5h1M41 34.5h1M50 34.5h1M71 34.5h1M75 34.5h1M2 35.5h1M11 35.5h1M14 35.5h1M32 35.5h1M78 35.5h1M98 35.5h1M3 36.5h1M9 36.5h2M13 36.5h1M17 36.5h1M36 36.5h2M53 36.5h2M66 36.5h1M80 36.5h1M87 36.5h1M3 37.5h1M45 37.5h1M59 37.5h1M61 37.5h1M87 37.5h1M90 37.5h2M94 37.5h1M23 38.5h1M37 38.5h1M48 38.5h1M67 38.5h1M78 38.5h1M89 38.5h3M12 39.5h1M63 39.5h1M65 39.5h1M71 39.5h2M81 39.5h1M7 40.5h1M22 40.5h1M42 40.5h1M47 40.5h1M68 40.5h1M79 40.5h1M97 40.5h1M99 40.5h1M2 41.5h1M5 41.5h1M17 41.5h2M20 41.5h1M33 41.5h1M35 41.5h1M44 41.5h1M46 41.5h1M56 41.5h1M65 41.5h1M78 41.5h1M95 41.5h1M2 42.5h1M10 42.5h1M23 42.5h1M42 42.5h1M79 42.5h1M83 42.5h1M95 42.5h1M99 42.5h1M37 43.5h1M45 43.5h1M48 43.5h1M59 43.5h2M65 43.5h2M77 43.5h1M98 43.5h1M3 44.5h1M13 44.5h1M43 44.5h1M47 44.5h1M83 44.5h1M97 44.5h1M4 45.5h1M19 45.5h1M36 45.5h1M49 45.5h1M72 45.5h1M87 45.5h1M96 45.5h1M98 45.5h1M4 46.5h3M36 46.5h1M41 46.5h1M49 46.5h1M58 46.5h1M65 46.5h2M69 46.5h1M71 46.5h1M75 46.5h1M94 46.5h1M27 47.5h1M55 47.5h1M58 47.5h1M83 47.5h1M85 47.5h1M32 48.5h1M35 48.5h1M37 48.5h1M61 48.5h1M81 48.5h1M88 48.5h1M10 49.5h1M13 49.5h1M45 49.5h1M56 49.5h1M67 49.5h1M70 49.5h1M72 49.5h1M74 49.5h1M87 49.5h1M90 49.5h1M13 50.5h1M45 50.5h1M48 50.5h1M50 50.5h1M53 50.5h1M61 50.5h1M67 50.5h1M69 50.5h1M72 50.5h1M84 50.5h1M88 50.5h1M12 51.5h1M14 51.5h1M24 51.5h1M31 51.5h1M69 51.5h1M5 52.5h2M13 52.5h1M26 52.5h1M29 52.5h1M42 52.5h1M47 52.5h1M77 52.5h1M89 52.5h1M97 52.5h1M2 53.5h1M5 53.5h2M13 53.5h1M23 53.5h1M87 53.5h1M5 54.5h1M7 54.5h1M11 54.5h2M20 54.5h1M29 54.5h1M35 54.5h1M49 54.5h2M61 54.5h1M65 54.5h1M71 54.5h1M84 54.5h1M87 54.5h1M90 54.5h1M93 54.5h1M12 55.5h1M22 55.5h1M28 55.5h1M38 55.5h1M69 55.5h1M72 55.5h1M98 55.5h1M12 56.5h1M27 56.5h1M33 56.5h1M56 56.5h1M78 56.5h1M4 57.5h1M8 57.5h1M42 57.5h1M45 57.5h2M53 57.5h1M92 57.5h1M6 58.5h1M24 58.5h1M32 58.5h1M46 58.5h1M86 58.5h1M88 58.5h1M6 59.5h1M11 59.5h1M50 59.5h1M63 59.5h1M79 59.5h1M83 59.5h1M9 60.5h1M17 60.5h1M33 60.5h2M42 60.5h1M47 60.5h1M56 60.5h2M63 60.5h1M77 60.5h1M85 60.5h1M91 60.5h1M4 61.5h1M6 61.5h1M22 61.5h1M34 61.5h1M54 61.5h2M78 61.5h1M86 61.5h2M91 61.5h1M97 61.5h1M8 62.5h1M53 62.5h1M55 62.5h1M70 62.5h1M77 62.5h2M85 62.5h1M94 62.5h1M6 63.5h1M10 63.5h1M15 63.5h1M40 63.5h2M57 63.5h1M64 63.5h1M66 63.5h1M13 64.5h1M16 64.5h1M46 64.5h1M82 64.5h1M3 65.5h2M7 65.5h1M23 65.5h1M27 65.5h1M58 65.5h2M91 65.5h2M15 66.5h1M17 66.5h1M21 66.5h1M25 66.5h1M27 66.5h1M67 66.5h1M70 66.5h2M73 66.5h1M81 66.5h1M8 67.5h1M25 67.5h2M56 67.5h2M60 67.5h1M62 67.5h2M73 67.5h1M4 68.5h1M10 68.5h1M25 68.5h1M30 68.5h1M36 68.5h1M48 68.5h1M57 68.5h2M63 68.5h1M87 68.5h1M11 69.5h1M24 69.5h1M27 69.5h1M36 69.5h1M40 69.5h1M57 69.5h1M61 69.5h1M68 69.5h1M78 69.5h1M28 70.5h1M32 70.5h1M40 70.5h1M43 70.5h1M50 70.5h1M56 70.5h1M67 70.5h1M70 70.5h1M5 71.5h1M10 71.5h1M29 71.5h1M35 71.5h2M45 71.5h1M48 71.5h1M56 71.5h2M64 71.5h1M75 71.5h1M81 71.5h1M95 71.5h2M1 72.5h1M8 72.5h1M14 72.5h1M19 72.5h1M22 72.5h1M40 72.5h1M48 72.5h1M68 72.5h1M74 72.5h1M88 72.5h1M1 73.5h1M8 73.5h1M38 73.5h1M42 73.5h1M46 73.5h1M53 73.5h1M74 73.5h2M77 73.5h1M87 73.5h1M90 73.5h1M28 74.5h1M30 74.5h1M33 74.5h1M36 74.5h2M39 74.5h1M42 74.5h1M49 74.5h1M51 74.5h1M58 74.5h2M99 74.5h1M29 75.5h1M33 75.5h2M50 75.5h1M90 75.5h2M98 75.5h1M1 76.5h1M13 76.5h1M20 76.5h1M50 76.5h1M62 76.5h1M81 76.5h1M93 76.5h2M5 77.5h1M15 77.5h1M24 77.5h1M35 77.5h1M65 77.5h1M94 77.5h1M0 78.5h1M8 78.5h2M27 78.5h1M42 78.5h1M60 78.5h1M97 78.5h1M8 79.5h1M13 79.5h1M20 79.5h1M23 79.5h1M31 79.5h1M34 79.5h1M36 79.5h1M41 79.5h1M50 79.5h1M65 79.5h1M70 79.5h2M91 79.5h2M2 80.5h2M23 80.5h1M48 80.5h1M51 80.5h1M82 80.5h1M88 80.5h1M96 80.5h1M98 80.5h1M0 81.5h1M13 81.5h1M24 81.5h1M34 81.5h1M41 81.5h1M46 81.5h1M51 81.5h1M57 81.5h1M71 81.5h1M88 81.5h1M9 82.5h1M28 82.5h1M37 82.5h1M43 82.5h1M47 82.5h1M68 82.5h1M71 82.5h2M77 82.5h2M82 82.5h1M99 82.5h1M5 83.5h1M13 83.5h1M24 83.5h1M37 83.5h1M43 83.5h1M88 83.5h1M96 83.5h2M10 84.5h1M29 84.5h1M41 84.5h1M67 84.5h1M93 84.5h1M11 85.5h1M16 85.5h1M31 85.5h1M62 85.5h1M78 85.5h1M80 85.5h1M90 85.5h1M1 86.5h1M60 86.5h1M74 86.5h1M91 86.5h2M95 86.5h1M3 87.5h2M10 87.5h1M17 87.5h1M57 87.5h1M61 87.5h1M63 87.5h1M72 87.5h1M74 87.5h1M81 87.5h1M92 87.5h1M94 87.5h2M1 88.5h1M23 88.5h1M35 88.5h1M39 88.5h1M41 88.5h1M69 88.5h1M81 88.5h1M97 88.5h1M99 88.5h1M16 89.5h1M55 89.5h1M62 89.5h1M64 89.5h1M86 89.5h1M92 89.5h1M95 89.5h1M9 90.5h1M32 90.5h1M50 90.5h1M52 90.5h1M61 90.5h2M97 90.5h1M37 92.5h1M49 92.5h1M56 92.5h1M82 92.5h1M84 92.5h1M89 92.5h1M5 93.5h1M26 93.5h1M34 93.5h1M76 93.5h1M94 93.5h1M97 93.5h1M14 94.5h2M20 94.5h1M55 94.5h1M58 94.5h1M63 94.5h1M72 94.5h1M96 94.5h1M5 95.5h1M32 95.5h1M54 95.5h1M56 95.5h1M72 95.5h3M89 95.5h1M93 95.5h1M5 96.5h1M18 96.5h1M27 96.5h1M31 96.5h1M58 96.5h1M69 96.5h1M75 96.5h1M91 96.5h1M6 97.5h1M27 97.5h1M57 97.5h1M62 97.5h1M74 97.5h1M89 97.5h1M94 97.5h1M8 98.5h1M37 98.5h2M40 98.5h1M42 98.5h1M62 98.5h1M83 98.5h1M88 98.5h1M91 98.5h2M2 99.5h1M11 99.5h1M17 99.5h1M38 99.5h1M53 99.5h1M63 99.5h1M72 99.5h1M77 99.5h1M86 99.5h1M97 99.5h1" stroke="#d4d4d4" stroke-width="1.02" fill="none"/>
</g></g>
<g filter="url(#pb)"><g transform="translate(287.3,1912.7) scale(2.0710,2.2850)">
<path d="M0 0.5h1M11 0.5h1M28 0.5h1M34 0.5h1M36 0.5h2M51 0.5h1M64 0.5h1M84 0.5h1M89 0.5h1M6 1.5h1M23 1.5h1M35 1.5h1M76 1.5h1M78 1.5h1M6 2.5h1M14 2.5h1M20 2.5h1M38 2.5h1M54 2.5h1M61 2.5h1M75 2.5h1M86 2.5h1M15 3.5h1M17 3.5h1M35 3.5h1M96 3.5h1M3 4.5h1M27 4.5h1M35 4.5h1M65 4.5h1M71 4.5h1M80 4.5h1M82 4.5h2M14 5.5h2M27 5.5h1M33 5.5h1M57 5.5h1M63 5.5h1M72 5.5h1M77 5.5h1M80 5.5h1M96 5.5h1M0 6.5h1M2 6.5h1M18 6.5h1M36 6.5h1M52 6.5h1M61 6.5h1M91 6.5h1M97 6.5h1M0 7.5h1M2 7.5h1M13 7.5h1M48 7.5h1M50 7.5h1M61 7.5h1M81 7.5h2M88 7.5h1M97 7.5h1M0 8.5h1M7 8.5h1M21 8.5h1M32 8.5h1M51 8.5h1M57 8.5h1M79 8.5h1M91 8.5h1M0 9.5h1M11 9.5h1M19 9.5h1M24 9.5h1M34 9.5h1M65 9.5h1M69 9.5h1M72 9.5h1M82 9.5h1M92 9.5h1M4 10.5h1M10 10.5h1M25 10.5h1M45 10.5h1M58 10.5h1M60 10.5h1M77 10.5h1M86 10.5h1M3 11.5h1M13 11.5h1M21 11.5h1M23 11.5h1M30 11.5h1M32 11.5h1M34 11.5h1M41 11.5h1M61 11.5h1M63 11.5h1M74 11.5h1M77 11.5h1M85 11.5h1M94 11.5h1M99 11.5h1M50 12.5h1M57 12.5h1M61 12.5h1M77 12.5h1M83 12.5h1M93 12.5h1M16 13.5h1M22 13.5h1M26 13.5h1M61 13.5h1M65 13.5h1M67 13.5h1M95 13.5h1M4 14.5h1M9 14.5h1M13 14.5h1M23 14.5h1M25 14.5h1M30 14.5h1M34 14.5h1M37 14.5h1M54 14.5h1M60 14.5h1M62 14.5h1M64 14.5h1M82 14.5h1M88 14.5h1M99 14.5h1M3 15.5h1M25 15.5h1M41 15.5h1M49 15.5h1M57 15.5h1M70 15.5h1M85 15.5h1M92 15.5h1M4 16.5h1M8 16.5h1M21 16.5h1M31 16.5h3M46 16.5h1M56 16.5h1M87 16.5h1M94 16.5h2M11 17.5h1M19 17.5h1M32 17.5h3M41 17.5h1M45 17.5h1M47 17.5h1M72 17.5h1M81 17.5h1M90 17.5h1M92 17.5h1M21 18.5h1M26 18.5h1M33 18.5h1M44 18.5h1M85 18.5h1M4 19.5h1M6 19.5h1M20 19.5h1M25 19.5h1M29 19.5h1M37 19.5h2M47 19.5h1M49 19.5h2M80 19.5h1M82 19.5h1M87 19.5h1M92 19.5h1M15 20.5h1M19 20.5h1M22 20.5h1M32 20.5h1M47 20.5h1M61 20.5h1M63 20.5h1M71 20.5h1M86 20.5h1M98 20.5h1M12 21.5h1M15 21.5h2M18 21.5h3M29 21.5h1M38 21.5h1M49 21.5h1M84 21.5h1M93 21.5h1M31 22.5h1M39 22.5h2M44 22.5h1M49 22.5h1M63 22.5h1M87 22.5h1M89 22.5h2M98 22.5h2M0 23.5h1M17 23.5h1M23 23.5h1M25 23.5h1M29 23.5h1M47 23.5h1M53 23.5h1M63 23.5h1M79 23.5h1M95 23.5h1M7 24.5h1M12 24.5h1M21 24.5h1M33 24.5h1M43 24.5h1M67 24.5h1M70 24.5h1M73 24.5h1M75 24.5h1M77 24.5h1M79 24.5h1M94 24.5h1M1 25.5h1M25 25.5h1M34 25.5h1M38 25.5h1M55 25.5h1M66 25.5h1M68 25.5h1M72 25.5h1M79 25.5h1M88 25.5h1M93 25.5h1M19 26.5h1M25 26.5h1M36 26.5h1M40 26.5h1M7 27.5h1M32 27.5h1M34 27.5h2M46 27.5h1M56 27.5h1M66 27.5h1M77 27.5h1M13 28.5h1M31 28.5h1M36 28.5h1M49 28.5h1M53 28.5h1M55 28.5h1M82 28.5h2M99 28.5h1M6 29.5h1M25 29.5h1M38 29.5h1M51 29.5h1M76 29.5h1M93 29.5h1M1 30.5h1M31 30.5h1M34 30.5h1M36 30.5h1M46 30.5h1M61 30.5h1M77 30.5h1M86 30.5h1M94 30.5h2M40 31.5h1M44 31.5h1M59 31.5h1M64 31.5h1M68 31.5h1M15 32.5h1M24 32.5h1M80 32.5h1M94 32.5h1M38 33.5h1M75 33.5h1M95 33.5h1M3 34.5h1M14 34.5h1M17 34.5h2M23 34.5h1M33 34.5h1M36 34.5h1M61 34.5h1M70 34.5h2M86 34.5h1M93 34.5h1M98 34.5h1M0 35.5h1M4 35.5h1M27 35.5h1M35 35.5h2M45 35.5h1M51 35.5h1M73 35.5h1M78 35.5h1M80 35.5h1M88 35.5h1M91 35.5h1M99 35.5h1M17 36.5h1M29 36.5h1M53 36.5h1M69 36.5h1M73 36.5h1M83 36.5h1M85 36.5h1M90 36.5h1M93 36.5h1M4 37.5h1M8 37.5h1M14 37.5h1M19 37.5h1M56 37.5h1M66 37.5h1M71 37.5h1M78 37.5h1M86 37.5h1M89 37.5h1M5 38.5h1M15 38.5h1M29 38.5h1M51 38.5h1M56 38.5h1M68 38.5h2M77 38.5h1M79 38.5h1M81 38.5h1M84 38.5h1M88 38.5h1M90 38.5h1M94 38.5h1M98 38.5h1M15 39.5h1M33 39.5h1M38 39.5h1M43 39.5h1M64 39.5h1M72 39.5h1M90 39.5h1M96 39.5h1M99 39.5h1M14 40.5h1M22 40.5h1M33 40.5h1M52 40.5h1M67 40.5h1M72 40.5h1M82 40.5h1M98 40.5h1M16 41.5h1M25 41.5h1M32 41.5h1M35 41.5h1M39 41.5h1M44 41.5h1M61 41.5h1M73 41.5h1M75 41.5h1M82 41.5h1M84 41.5h1M98 41.5h2M1 42.5h1M5 42.5h1M43 42.5h1M46 42.5h1M71 42.5h1M85 42.5h1M91 42.5h1M93 42.5h1M95 42.5h1M13 43.5h1M22 43.5h1M41 43.5h1M44 43.5h2M50 43.5h1M78 43.5h1M92 43.5h1M0 44.5h1M26 44.5h1M40 44.5h1M43 44.5h2M49 44.5h1M53 44.5h1M57 44.5h1M69 44.5h1M72 44.5h1M76 44.5h1M17 45.5h1M32 45.5h1M56 45.5h2M66 45.5h2M91 45.5h2M97 45.5h1M1 46.5h1M8 46.5h1M27 46.5h1M29 46.5h1M31 46.5h1M44 46.5h1M67 46.5h1M90 46.5h2M93 46.5h1M12 47.5h1M19 47.5h1M64 47.5h1M68 47.5h2M83 47.5h1M96 47.5h2M4 48.5h1M11 48.5h1M20 48.5h1M23 48.5h1M56 48.5h1M60 48.5h1M76 48.5h1M94 48.5h2M6 49.5h1M15 49.5h1M22 49.5h2M46 49.5h2M58 49.5h1M61 49.5h1M69 49.5h1M71 49.5h1M76 49.5h1M88 49.5h1M90 49.5h1M37 50.5h1M55 50.5h1M59 50.5h1M69 50.5h2M73 50.5h1M82 50.5h1M19 51.5h1M31 51.5h1M33 51.5h2M37 51.5h1M60 51.5h2M74 51.5h1M81 51.5h1M85 51.5h1M89 51.5h1M8 52.5h2M13 52.5h1M32 52.5h1M50 52.5h1M52 52.5h1M67 52.5h1M72 52.5h1M92 52.5h1M24 53.5h2M37 53.5h1M65 53.5h1M93 53.5h2M14 54.5h1M29 54.5h1M54 54.5h1M56 54.5h2M59 54.5h1M67 54.5h1M71 54.5h1M73 54.5h1M76 54.5h1M95 54.5h1M0 55.5h1M12 55.5h1M17 55.5h1M50 55.5h1M56 55.5h2M59 55.5h1M65 55.5h1M67 55.5h1M71 55.5h2M78 55.5h1M88 55.5h1M97 55.5h1M99 55.5h1M16 56.5h1M47 56.5h2M64 56.5h1M15 57.5h1M28 57.5h1M37 57.5h1M56 57.5h3M61 57.5h1M64 57.5h1M70 57.5h1M86 57.5h1M94 57.5h1M13 58.5h1M23 58.5h1M33 58.5h1M38 58.5h1M41 58.5h1M58 58.5h2M61 58.5h1M73 58.5h1M83 58.5h1M30 59.5h2M35 59.5h1M38 59.5h1M49 59.5h1M51 59.5h1M66 59.5h1M83 59.5h1M9 60.5h1M26 60.5h1M33 60.5h1M62 60.5h1M68 60.5h1M83 60.5h1M85 60.5h1M96 60.5h2M99 60.5h1M31 61.5h1M33 61.5h1M37 61.5h2M53 61.5h1M69 61.5h1M83 61.5h1M89 61.5h1M8 62.5h1M20 62.5h1M27 62.5h1M35 62.5h2M71 62.5h1M73 62.5h1M81 62.5h1M83 62.5h1M97 62.5h1M13 63.5h1M19 63.5h2M31 63.5h2M38 63.5h1M43 63.5h1M58 63.5h1M91 63.5h1M97 63.5h2M1 64.5h1M7 64.5h1M43 64.5h1M48 64.5h1M65 64.5h2M79 64.5h1M95 64.5h1M0 65.5h1M2 65.5h1M25 65.5h1M29 65.5h1M35 65.5h1M60 65.5h1M68 65.5h1M97 65.5h1M24 66.5h1M26 66.5h1M29 66.5h1M40 66.5h1M58 66.5h1M60 66.5h1M62 66.5h1M74 66.5h1M84 66.5h2M90 66.5h1M5 67.5h1M17 67.5h1M29 67.5h1M42 67.5h1M46 67.5h1M49 67.5h1M88 67.5h1M91 67.5h1M13 68.5h1M37 68.5h3M74 68.5h1M76 68.5h2M4 69.5h1M25 69.5h1M29 69.5h1M32 69.5h1M36 69.5h1M38 69.5h2M74 69.5h1M76 69.5h1M82 69.5h1M88 69.5h1M6 70.5h1M30 70.5h1M49 70.5h2M53 70.5h1M57 70.5h1M61 70.5h1M70 70.5h1M0 71.5h1M5 71.5h1M32 71.5h1M58 71.5h1M62 71.5h1M73 71.5h1M22 72.5h2M37 72.5h1M40 72.5h1M42 72.5h1M50 72.5h1M53 72.5h2M63 72.5h1M72 72.5h1M76 72.5h1M91 72.5h1M2 73.5h1M18 73.5h1M22 73.5h2M55 73.5h2M58 73.5h1M71 73.5h2M74 73.5h1M80 73.5h2M85 73.5h1M48 74.5h1M56 74.5h1M86 74.5h1M89 74.5h1M91 74.5h1M19 75.5h2M28 75.5h1M71 75.5h1M73 75.5h1M82 75.5h1M88 75.5h1M90 75.5h1M7 76.5h1M19 76.5h1M36 76.5h2M39 76.5h1M54 76.5h1M62 76.5h1M80 76.5h1M84 76.5h1M93 76.5h1M15 77.5h1M18 77.5h1M24 77.5h1M31 77.5h1M35 77.5h2M43 77.5h1M45 77.5h1M76 77.5h2M80 77.5h1M90 77.5h1M0 78.5h1M21 78.5h1M30 78.5h1M40 78.5h1M64 78.5h1M78 78.5h1M8 79.5h1M15 79.5h1M18 79.5h1M22 79.5h1M28 79.5h1M53 79.5h1M60 79.5h1M64 79.5h1M78 79.5h1M85 79.5h1M88 79.5h1M0 80.5h1M14 80.5h1M17 80.5h1M44 80.5h1M47 80.5h1M57 80.5h1M75 80.5h1M24 81.5h1M28 81.5h1M30 81.5h1M34 81.5h1M39 81.5h1M48 81.5h1M52 81.5h1M83 81.5h1M87 81.5h1M97 81.5h1M2 82.5h1M15 82.5h1M21 82.5h1M24 82.5h1M31 82.5h1M43 82.5h1M48 82.5h1M50 82.5h1M55 82.5h1M72 82.5h1M93 82.5h1M98 82.5h1M11 83.5h1M15 83.5h3M19 83.5h1M24 83.5h1M28 83.5h1M42 83.5h1M62 83.5h1M73 83.5h2M76 83.5h1M95 83.5h1M0 84.5h1M2 84.5h1M11 84.5h1M25 84.5h1M27 84.5h1M33 84.5h1M53 84.5h1M56 84.5h1M63 84.5h2M73 84.5h1M81 84.5h1M86 84.5h1M9 85.5h1M17 85.5h1M22 85.5h1M38 85.5h1M46 85.5h1M50 85.5h1M62 85.5h1M78 85.5h1M81 85.5h1M3 86.5h1M8 86.5h1M17 86.5h1M33 86.5h1M48 86.5h1M51 86.5h1M55 86.5h1M60 86.5h2M73 86.5h2M79 86.5h1M92 86.5h1M5 87.5h1M28 87.5h1M31 87.5h1M37 87.5h1M50 87.5h1M54 87.5h1M67 87.5h1M69 87.5h1M83 87.5h2M92 87.5h1M0 88.5h1M6 88.5h1M25 88.5h1M29 88.5h1M62 88.5h4M89 88.5h1M13 89.5h2M20 89.5h2M26 89.5h1M32 89.5h1M63 89.5h1M82 89.5h1M1 90.5h1M43 90.5h1M60 90.5h1M73 90.5h2M77 90.5h1M82 90.5h1M92 90.5h1M96 90.5h1M98 90.5h1M0 91.5h1M11 91.5h1M15 91.5h1M29 91.5h1M38 91.5h1M60 91.5h1M65 91.5h1M76 91.5h1M96 91.5h2M3 92.5h1M21 92.5h1M25 92.5h1M45 92.5h1M47 92.5h1M52 92.5h2M62 92.5h1M84 92.5h1M0 93.5h1M2 93.5h1M9 93.5h1M14 93.5h1M23 93.5h1M31 93.5h1M35 93.5h1M59 93.5h1M70 93.5h1M75 93.5h1M83 93.5h1M7 94.5h1M23 94.5h1M27 94.5h1M29 94.5h1M52 94.5h1M55 94.5h1M69 94.5h1M90 94.5h1M2 95.5h1M20 95.5h1M67 95.5h1M81 95.5h1M96 95.5h1M0 96.5h1M20 96.5h1M31 96.5h1M49 96.5h1M63 96.5h1M2 97.5h1M7 97.5h1M16 97.5h1M20 97.5h2M25 97.5h1M37 97.5h1M53 97.5h1M66 97.5h1M71 97.5h1M98 97.5h1M2 98.5h1M63 98.5h1M95 98.5h1M98 98.5h1M0 99.5h1M8 99.5h2M40 99.5h1M45 99.5h1M55 99.5h1M82 99.5h1M85 99.5h1" stroke="#dedede" stroke-width="1.02" fill="none"/>
<path d="M12 0.5h1M14 0.5h6M29 0.5h2M42 0.5h1M44 0.5h2M49 0.5h1M53 0.5h1M57 0.5h2M66 0.5h4M77 0.5h3M93 0.5h2M98 0.5h1M1 1.5h2M10 1.5h10M22 1.5h1M27 1.5h3M37 1.5h2M41 1.5h2M44 1.5h2M49 1.5h1M53 1.5h1M56 1.5h2M59 1.5h1M64 1.5h3M69 1.5h1M88 1.5h1M93 1.5h3M98 1.5h2M1 2.5h2M12 2.5h2M15 2.5h5M21 2.5h2M27 2.5h3M31 2.5h2M41 2.5h5M50 2.5h1M52 2.5h2M55 2.5h2M65 2.5h3M71 2.5h1M73 2.5h1M77 2.5h1M79 2.5h3M88 2.5h1M93 2.5h2M97 2.5h1M1 3.5h1M12 3.5h2M19 3.5h3M27 3.5h1M31 3.5h1M40 3.5h4M45 3.5h1M51 3.5h4M62 3.5h2M65 3.5h2M68 3.5h1M73 3.5h2M77 3.5h1M88 3.5h1M90 3.5h2M94 3.5h2M98 3.5h1M0 4.5h2M16 4.5h1M19 4.5h3M26 4.5h1M40 4.5h1M43 4.5h1M46 4.5h1M54 4.5h1M58 4.5h1M60 4.5h1M62 4.5h3M66 4.5h2M87 4.5h4M92 4.5h1M99 4.5h1M0 5.5h1M2 5.5h1M8 5.5h1M10 5.5h3M18 5.5h5M36 5.5h1M41 5.5h5M47 5.5h6M60 5.5h1M62 5.5h1M64 5.5h4M69 5.5h2M78 5.5h1M87 5.5h2M91 5.5h1M98 5.5h2M11 6.5h3M19 6.5h4M37 6.5h4M44 6.5h4M53 6.5h1M59 6.5h2M63 6.5h5M69 6.5h2M87 6.5h1M95 6.5h2M6 7.5h1M18 7.5h4M28 7.5h1M33 7.5h1M35 7.5h11M52 7.5h2M60 7.5h1M62 7.5h6M69 7.5h1M71 7.5h1M95 7.5h1M6 8.5h1M12 8.5h1M16 8.5h1M23 8.5h1M29 8.5h1M36 8.5h8M45 8.5h1M49 8.5h2M52 8.5h1M59 8.5h3M63 8.5h7M71 8.5h1M85 8.5h1M92 8.5h1M99 8.5h1M4 9.5h3M8 9.5h1M16 9.5h3M20 9.5h2M25 9.5h1M38 9.5h4M48 9.5h1M51 9.5h1M55 9.5h1M60 9.5h1M63 9.5h1M66 9.5h2M76 9.5h1M87 9.5h1M93 9.5h3M97 9.5h1M2 10.5h2M7 10.5h1M11 10.5h2M15 10.5h1M17 10.5h2M20 10.5h1M27 10.5h1M29 10.5h1M44 10.5h1M47 10.5h3M53 10.5h1M57 10.5h1M61 10.5h1M63 10.5h1M67 10.5h2M73 10.5h1M80 10.5h2M88 10.5h1M93 10.5h1M2 11.5h1M14 11.5h3M18 11.5h1M24 11.5h1M49 11.5h4M55 11.5h3M64 11.5h2M70 11.5h1M87 11.5h2M91 11.5h2M95 11.5h2M4 12.5h1M15 12.5h2M18 12.5h2M30 12.5h1M39 12.5h1M51 12.5h1M53 12.5h2M63 12.5h1M65 12.5h1M69 12.5h4M94 12.5h1M96 12.5h1M18 13.5h2M35 13.5h1M49 13.5h1M52 13.5h1M55 13.5h3M62 13.5h2M68 13.5h4M73 13.5h3M86 13.5h1M89 13.5h1M92 13.5h1M97 13.5h1M16 14.5h4M55 14.5h1M70 14.5h4M75 14.5h1M79 14.5h3M90 14.5h2M94 14.5h1M5 15.5h1M16 15.5h2M19 15.5h2M23 15.5h1M55 15.5h1M59 15.5h1M68 15.5h2M71 15.5h1M75 15.5h1M80 15.5h1M88 15.5h1M96 15.5h1M5 16.5h1M16 16.5h3M20 16.5h1M22 16.5h1M25 16.5h1M35 16.5h1M64 16.5h2M69 16.5h4M74 16.5h2M80 16.5h2M86 16.5h1M88 16.5h1M90 16.5h1M92 16.5h2M14 17.5h1M17 17.5h2M57 17.5h1M61 17.5h6M68 17.5h3M82 17.5h1M97 17.5h1M2 18.5h1M6 18.5h1M18 18.5h2M23 18.5h1M25 18.5h1M27 18.5h1M37 18.5h3M53 18.5h1M56 18.5h1M60 18.5h1M63 18.5h1M65 18.5h3M70 18.5h5M83 18.5h1M86 18.5h1M97 18.5h2M2 19.5h1M13 19.5h2M22 19.5h1M26 19.5h1M51 19.5h3M65 19.5h2M70 19.5h3M74 19.5h2M79 19.5h1M81 19.5h1M85 19.5h2M88 19.5h1M90 19.5h1M6 20.5h2M29 20.5h1M36 20.5h1M39 20.5h4M50 20.5h1M52 20.5h3M56 20.5h1M58 20.5h3M66 20.5h1M75 20.5h2M88 20.5h1M5 21.5h1M7 21.5h1M21 21.5h1M26 21.5h1M37 21.5h1M41 21.5h1M43 21.5h1M54 21.5h2M57 21.5h4M64 21.5h1M72 21.5h4M78 21.5h1M4 22.5h3M13 22.5h3M43 22.5h1M47 22.5h1M50 22.5h2M55 22.5h2M58 22.5h4M73 22.5h4M1 23.5h1M4 23.5h1M6 23.5h5M12 23.5h1M15 23.5h1M36 23.5h1M45 23.5h1M54 23.5h1M56 23.5h1M61 23.5h2M69 23.5h1M76 23.5h1M78 23.5h1M81 23.5h1M87 23.5h1M90 23.5h1M97 23.5h1M99 23.5h1M0 24.5h7M9 24.5h2M15 24.5h1M45 24.5h1M49 24.5h2M53 24.5h1M58 24.5h1M72 24.5h1M90 24.5h2M99 24.5h1M0 25.5h1M5 25.5h6M16 25.5h3M21 25.5h1M29 25.5h1M35 25.5h1M37 25.5h1M49 25.5h4M59 25.5h2M73 25.5h1M77 25.5h2M89 25.5h3M94 25.5h1M97 25.5h2M2 26.5h3M6 26.5h2M10 26.5h2M15 26.5h1M21 26.5h2M49 26.5h2M52 26.5h1M60 26.5h1M65 26.5h1M70 26.5h2M73 26.5h5M80 26.5h1M86 26.5h1M88 26.5h2M91 26.5h1M94 26.5h1M96 26.5h1M98 26.5h1M2 27.5h5M8 27.5h6M15 27.5h1M20 27.5h1M41 27.5h1M55 27.5h1M57 27.5h1M70 27.5h7M89 27.5h1M1 28.5h2M10 28.5h1M15 28.5h2M20 28.5h1M29 28.5h2M41 28.5h1M56 28.5h2M64 28.5h2M72 28.5h3M77 28.5h3M89 28.5h2M4 29.5h1M7 29.5h5M13 29.5h3M29 29.5h1M32 29.5h2M42 29.5h1M54 29.5h3M62 29.5h1M64 29.5h3M69 29.5h5M75 29.5h1M77 29.5h3M81 29.5h2M85 29.5h2M88 29.5h3M4 30.5h1M7 30.5h1M17 30.5h1M29 30.5h1M32 30.5h1M52 30.5h2M56 30.5h1M58 30.5h1M62 30.5h1M65 30.5h1M69 30.5h4M74 30.5h3M79 30.5h2M82 30.5h4M88 30.5h5M99 30.5h1M0 31.5h1M7 31.5h1M11 31.5h1M15 31.5h3M30 31.5h1M32 31.5h2M47 31.5h12M62 31.5h2M65 31.5h1M70 31.5h6M78 31.5h1M84 31.5h2M87 31.5h1M91 31.5h2M95 31.5h4M0 32.5h1M2 32.5h2M6 32.5h1M8 32.5h1M11 32.5h2M33 32.5h1M38 32.5h1M41 32.5h3M48 32.5h2M53 32.5h5M61 32.5h1M67 32.5h1M71 32.5h1M84 32.5h3M89 32.5h1M92 32.5h1M97 32.5h3M0 33.5h1M2 33.5h2M7 33.5h4M24 33.5h1M34 33.5h1M37 33.5h1M41 33.5h2M49 33.5h3M53 33.5h5M61 33.5h1M63 33.5h1M67 33.5h1M70 33.5h2M73 33.5h1M84 33.5h2M90 33.5h1M97 33.5h3M1 34.5h1M11 34.5h3M19 34.5h1M24 34.5h2M31 34.5h1M41 34.5h1M45 34.5h1M50 34.5h5M56 34.5h5M67 34.5h1M69 34.5h1M97 34.5h1M7 35.5h1M12 35.5h1M22 35.5h1M24 35.5h1M26 35.5h1M31 35.5h1M43 35.5h1M46 35.5h1M49 35.5h1M54 35.5h1M56 35.5h7M65 35.5h4M81 35.5h2M93 35.5h1M96 35.5h2M7 36.5h1M23 36.5h3M30 36.5h1M32 36.5h2M37 36.5h2M46 36.5h1M48 36.5h2M54 36.5h2M59 36.5h3M68 36.5h1M76 36.5h1M84 36.5h1M96 36.5h2M23 37.5h5M31 37.5h1M36 37.5h8M47 37.5h1M55 37.5h1M57 37.5h9M76 37.5h1M79 37.5h1M87 37.5h1M96 37.5h1M99 37.5h1M6 38.5h1M8 38.5h1M23 38.5h3M28 38.5h1M33 38.5h5M39 38.5h4M50 38.5h1M52 38.5h1M57 38.5h2M60 38.5h5M74 38.5h2M95 38.5h1M97 38.5h1M8 39.5h2M11 39.5h1M18 39.5h1M23 39.5h3M35 39.5h2M39 39.5h1M45 39.5h1M52 39.5h2M55 39.5h2M58 39.5h3M65 39.5h1M75 39.5h1M78 39.5h4M86 39.5h1M88 39.5h1M12 40.5h2M25 40.5h2M32 40.5h1M34 40.5h2M38 40.5h2M55 40.5h1M58 40.5h1M62 40.5h4M74 40.5h2M78 40.5h4M83 40.5h1M87 40.5h1M13 41.5h2M19 41.5h1M22 41.5h1M33 41.5h2M36 41.5h1M40 41.5h2M52 41.5h4M63 41.5h1M65 41.5h1M77 41.5h5M86 41.5h2M15 42.5h1M17 42.5h2M20 42.5h2M24 42.5h1M33 42.5h2M36 42.5h1M42 42.5h1M45 42.5h1M50 42.5h1M52 42.5h7M63 42.5h1M66 42.5h3M72 42.5h1M75 42.5h1M78 42.5h6M86 42.5h1M0 43.5h2M15 43.5h1M17 43.5h1M36 43.5h1M42 43.5h1M46 43.5h1M48 43.5h1M54 43.5h4M61 43.5h1M66 43.5h2M73 43.5h3M77 43.5h1M79 43.5h5M85 43.5h1M5 44.5h1M22 44.5h2M34 44.5h2M42 44.5h1M63 44.5h2M73 44.5h3M79 44.5h1M82 44.5h1M85 44.5h3M99 44.5h1M0 45.5h3M11 45.5h1M14 45.5h3M20 45.5h2M25 45.5h1M34 45.5h11M46 45.5h2M52 45.5h1M62 45.5h1M64 45.5h1M76 45.5h2M80 45.5h1M82 45.5h1M85 45.5h4M90 45.5h1M99 45.5h1M2 46.5h1M4 46.5h1M17 46.5h1M20 46.5h1M32 46.5h7M41 46.5h3M46 46.5h2M59 46.5h1M63 46.5h1M73 46.5h1M76 46.5h2M79 46.5h2M82 46.5h1M85 46.5h1M87 46.5h2M99 46.5h1M0 47.5h2M25 47.5h1M31 47.5h1M34 47.5h8M46 47.5h2M58 47.5h1M67 47.5h1M73 47.5h9M86 47.5h1M99 47.5h1M0 48.5h3M16 48.5h1M18 48.5h1M21 48.5h1M24 48.5h1M26 48.5h1M28 48.5h1M32 48.5h2M36 48.5h6M43 48.5h1M63 48.5h2M72 48.5h3M77 48.5h1M87 48.5h2M99 48.5h1M0 49.5h5M10 49.5h2M19 49.5h3M26 49.5h3M32 49.5h1M37 49.5h7M62 49.5h2M91 49.5h1M94 49.5h1M97 49.5h1M0 50.5h5M17 50.5h1M20 50.5h2M23 50.5h2M26 50.5h1M28 50.5h4M39 50.5h5M75 50.5h1M90 50.5h1M96 50.5h2M99 50.5h1M0 51.5h8M18 51.5h1M20 51.5h3M26 51.5h4M32 51.5h1M38 51.5h6M49 51.5h1M59 51.5h1M66 51.5h2M76 51.5h1M86 51.5h1M91 51.5h1M97 51.5h3M0 52.5h1M2 52.5h2M5 52.5h1M10 52.5h1M18 52.5h1M20 52.5h1M25 52.5h1M27 52.5h4M39 52.5h4M64 52.5h1M71 52.5h1M75 52.5h3M84 52.5h5M93 52.5h2M96 52.5h1M98 52.5h2M0 53.5h6M9 53.5h4M16 53.5h3M20 53.5h4M26 53.5h3M34 53.5h1M38 53.5h8M50 53.5h3M54 53.5h1M68 53.5h1M75 53.5h1M77 53.5h3M83 53.5h6M92 53.5h1M96 53.5h1M99 53.5h1M0 54.5h3M4 54.5h4M10 54.5h1M12 54.5h2M20 54.5h9M33 54.5h1M36 54.5h8M51 54.5h3M78 54.5h2M82 54.5h7M1 55.5h1M6 55.5h2M9 55.5h1M18 55.5h1M20 55.5h8M29 55.5h1M35 55.5h5M41 55.5h3M52 55.5h4M74 55.5h1M76 55.5h1M79 55.5h2M82 55.5h6M89 55.5h1M2 56.5h3M6 56.5h2M21 56.5h6M35 56.5h5M42 56.5h2M52 56.5h2M58 56.5h1M72 56.5h1M79 56.5h6M87 56.5h1M91 56.5h2M96 56.5h1M3 57.5h2M6 57.5h1M14 57.5h1M20 57.5h5M30 57.5h1M38 57.5h2M48 57.5h1M51 57.5h3M73 57.5h1M79 57.5h1M89 57.5h3M1 58.5h1M4 58.5h1M18 58.5h1M21 58.5h2M26 58.5h2M35 58.5h2M39 58.5h1M50 58.5h2M53 58.5h2M56 58.5h2M74 58.5h1M78 58.5h1M88 58.5h6M95 58.5h1M1 59.5h1M4 59.5h1M14 59.5h1M22 59.5h6M39 59.5h1M41 59.5h1M53 59.5h1M59 59.5h1M88 59.5h2M91 59.5h2M96 59.5h1M4 60.5h1M12 60.5h1M14 60.5h1M19 60.5h7M41 60.5h1M48 60.5h1M54 60.5h1M57 60.5h1M59 60.5h1M73 60.5h1M86 60.5h1M88 60.5h7M98 60.5h1M0 61.5h1M11 61.5h1M14 61.5h1M21 61.5h5M41 61.5h1M52 61.5h1M54 61.5h1M57 61.5h1M70 61.5h1M76 61.5h2M91 61.5h1M93 61.5h6M1 62.5h3M9 62.5h2M14 62.5h1M21 62.5h1M24 62.5h3M30 62.5h1M42 62.5h1M48 62.5h1M52 62.5h4M57 62.5h3M67 62.5h1M70 62.5h1M79 62.5h1M89 62.5h2M96 62.5h1M1 63.5h6M8 63.5h2M12 63.5h1M16 63.5h1M21 63.5h3M29 63.5h2M33 63.5h2M42 63.5h1M44 63.5h1M48 63.5h1M50 63.5h1M52 63.5h2M55 63.5h2M65 63.5h1M70 63.5h2M82 63.5h1M85 63.5h1M89 63.5h1M92 63.5h1M2 64.5h4M9 64.5h1M16 64.5h2M19 64.5h1M23 64.5h1M26 64.5h2M30 64.5h1M33 64.5h1M41 64.5h1M50 64.5h1M53 64.5h1M57 64.5h6M74 64.5h3M86 64.5h1M89 64.5h1M92 64.5h1M94 64.5h1M4 65.5h7M13 65.5h2M19 65.5h6M26 65.5h2M30 65.5h2M34 65.5h1M39 65.5h3M43 65.5h1M49 65.5h1M52 65.5h1M54 65.5h1M57 65.5h2M70 65.5h2M76 65.5h1M84 65.5h1M4 66.5h1M6 66.5h5M14 66.5h1M19 66.5h5M27 66.5h1M30 66.5h2M34 66.5h2M39 66.5h1M43 66.5h1M46 66.5h1M48 66.5h1M50 66.5h3M70 66.5h3M75 66.5h1M82 66.5h1M7 67.5h5M14 67.5h1M21 67.5h4M27 67.5h1M30 67.5h7M39 67.5h1M55 67.5h1M70 67.5h1M76 67.5h1M78 67.5h1M83 67.5h3M89 67.5h1M92 67.5h1M9 68.5h3M15 68.5h1M20 68.5h1M28 68.5h1M31 68.5h5M45 68.5h1M52 68.5h1M55 68.5h1M59 68.5h1M81 68.5h1M84 68.5h1M87 68.5h1M90 68.5h2M98 68.5h1M6 69.5h1M8 69.5h5M20 69.5h1M28 69.5h1M31 69.5h1M34 69.5h2M40 69.5h2M44 69.5h4M80 69.5h1M84 69.5h1M90 69.5h1M96 69.5h1M98 69.5h1M5 70.5h1M8 70.5h5M16 70.5h2M20 70.5h1M28 70.5h1M33 70.5h2M36 70.5h1M41 70.5h1M47 70.5h1M87 70.5h4M96 70.5h1M1 71.5h4M8 71.5h4M16 71.5h3M30 71.5h1M36 71.5h2M45 71.5h1M51 71.5h1M64 71.5h1M88 71.5h4M94 71.5h2M98 71.5h2M0 72.5h1M3 72.5h8M14 72.5h1M17 72.5h2M29 72.5h4M44 72.5h2M47 72.5h1M49 72.5h1M67 72.5h1M80 72.5h1M84 72.5h1M86 72.5h1M89 72.5h2M93 72.5h1M97 72.5h2M0 73.5h1M4 73.5h5M10 73.5h1M14 73.5h1M26 73.5h2M29 73.5h3M41 73.5h1M44 73.5h3M63 73.5h5M69 73.5h1M77 73.5h2M94 73.5h1M97 73.5h1M99 73.5h1M0 74.5h1M5 74.5h1M7 74.5h1M22 74.5h1M25 74.5h1M31 74.5h4M41 74.5h1M46 74.5h1M51 74.5h2M57 74.5h2M63 74.5h2M76 74.5h3M80 74.5h2M93 74.5h1M96 74.5h2M99 74.5h1M4 75.5h1M11 75.5h5M24 75.5h2M34 75.5h1M38 75.5h1M57 75.5h1M67 75.5h2M70 75.5h1M76 75.5h3M80 75.5h2M96 75.5h4M0 76.5h2M13 76.5h1M26 76.5h1M38 76.5h1M46 76.5h1M57 76.5h1M64 76.5h1M67 76.5h7M79 76.5h1M81 76.5h1M92 76.5h1M94 76.5h6M3 77.5h2M10 77.5h2M13 77.5h2M16 77.5h1M26 77.5h1M32 77.5h2M37 77.5h1M47 77.5h1M60 77.5h1M62 77.5h2M65 77.5h2M71 77.5h3M79 77.5h1M81 77.5h2M95 77.5h5M1 78.5h1M10 78.5h1M13 78.5h4M37 78.5h1M47 78.5h1M61 78.5h3M65 78.5h1M69 78.5h4M80 78.5h4M93 78.5h1M95 78.5h5M2 79.5h2M10 79.5h2M14 79.5h1M35 79.5h1M37 79.5h1M44 79.5h1M47 79.5h1M51 79.5h1M58 79.5h1M62 79.5h1M69 79.5h6M76 79.5h1M80 79.5h1M82 79.5h1M91 79.5h1M95 79.5h5M1 80.5h3M9 80.5h3M45 80.5h1M55 80.5h2M69 80.5h2M72 80.5h3M76 80.5h1M80 80.5h2M97 80.5h3M0 81.5h2M3 81.5h1M10 81.5h1M13 81.5h2M45 81.5h1M47 81.5h1M55 81.5h1M59 81.5h1M68 81.5h5M86 81.5h1M94 81.5h2M98 81.5h2M0 82.5h2M9 82.5h1M41 82.5h2M52 82.5h1M56 82.5h1M65 82.5h1M68 82.5h2M71 82.5h1M73 82.5h1M12 83.5h1M31 83.5h2M44 83.5h2M47 83.5h2M56 83.5h1M60 83.5h1M65 83.5h1M68 83.5h5M81 83.5h1M97 83.5h2M10 84.5h1M19 84.5h1M40 84.5h1M46 84.5h1M48 84.5h1M50 84.5h1M66 84.5h1M68 84.5h3M77 84.5h1M84 84.5h1M89 84.5h1M96 84.5h2M5 85.5h1M10 85.5h2M14 85.5h1M23 85.5h2M26 85.5h2M30 85.5h2M40 85.5h1M42 85.5h2M56 85.5h1M58 85.5h1M60 85.5h2M69 85.5h1M90 85.5h1M15 86.5h1M23 86.5h5M31 86.5h1M43 86.5h1M49 86.5h1M52 86.5h2M56 86.5h2M76 86.5h1M87 86.5h3M10 87.5h1M25 87.5h2M30 87.5h1M32 87.5h1M42 87.5h8M56 87.5h4M78 87.5h1M30 88.5h1M43 88.5h4M49 88.5h1M51 88.5h1M57 88.5h1M77 88.5h2M86 88.5h1M96 88.5h1M0 89.5h1M2 89.5h1M6 89.5h1M8 89.5h2M40 89.5h1M42 89.5h1M44 89.5h1M47 89.5h1M51 89.5h1M75 89.5h2M79 89.5h1M92 89.5h2M2 90.5h1M11 90.5h2M33 90.5h1M35 90.5h1M42 90.5h1M45 90.5h1M51 90.5h1M53 90.5h2M59 90.5h1M75 90.5h1M78 90.5h1M80 90.5h1M91 90.5h1M94 90.5h1M3 91.5h2M22 91.5h1M35 91.5h2M39 91.5h1M42 91.5h1M53 91.5h1M59 91.5h1M77 91.5h1M81 91.5h1M92 91.5h1M94 91.5h1M0 92.5h1M6 92.5h2M11 92.5h1M39 92.5h1M42 92.5h2M48 92.5h1M50 92.5h1M57 92.5h4M91 92.5h5M99 92.5h1M5 93.5h1M7 93.5h1M11 93.5h1M13 93.5h1M15 93.5h2M18 93.5h2M32 93.5h2M42 93.5h1M46 93.5h1M49 93.5h3M71 93.5h1M81 93.5h1M91 93.5h2M94 93.5h1M99 93.5h1M0 94.5h2M10 94.5h1M18 94.5h2M26 94.5h1M49 94.5h2M57 94.5h1M59 94.5h1M62 94.5h1M70 94.5h2M89 94.5h1M93 94.5h3M99 94.5h1M0 95.5h1M12 95.5h2M25 95.5h1M31 95.5h2M36 95.5h1M39 95.5h1M44 95.5h1M58 95.5h2M62 95.5h1M70 95.5h1M93 95.5h1M12 96.5h1M14 96.5h4M24 96.5h2M28 96.5h1M33 96.5h1M36 96.5h2M41 96.5h2M58 96.5h3M67 96.5h1M69 96.5h1M72 96.5h1M75 96.5h2M93 96.5h1M95 96.5h2M11 97.5h3M24 97.5h1M28 97.5h6M42 97.5h3M57 97.5h4M67 97.5h1M70 97.5h1M72 97.5h1M75 97.5h2M79 97.5h1M88 97.5h2M95 97.5h2M11 98.5h3M15 98.5h1M23 98.5h2M29 98.5h2M41 98.5h2M49 98.5h1M58 98.5h1M69 98.5h4M77 98.5h2M82 98.5h1M88 98.5h1M94 98.5h1M96 98.5h1M12 99.5h1M14 99.5h2M29 99.5h2M32 99.5h1M54 99.5h1M56 99.5h3M62 99.5h2M66 99.5h2M69 99.5h1M71 99.5h5M77 99.5h2M93 99.5h2" stroke="#060606" stroke-width="1.02" fill="none"/>
</g></g>
<g filter="url(#pb)"><g transform="translate(287.3,2184.7) scale(2.0710,2.2850)">
<path d="M11 0.5h1M24 0.5h2M41 0.5h1M65 0.5h2M73 0.5h1M75 0.5h1M79 0.5h1M96 0.5h1M1 1.5h1M6 1.5h1M11 1.5h1M25 1.5h3M39 1.5h1M42 1.5h1M52 1.5h1M89 1.5h1M94 1.5h1M19 2.5h1M23 2.5h1M39 2.5h1M88 2.5h2M0 3.5h1M3 3.5h1M6 3.5h1M41 3.5h1M43 3.5h2M46 3.5h1M68 3.5h1M72 3.5h1M74 3.5h1M90 3.5h1M4 4.5h1M29 4.5h1M43 4.5h2M67 4.5h1M90 4.5h1M97 4.5h1M1 5.5h1M4 5.5h1M21 5.5h2M28 5.5h1M37 5.5h1M42 5.5h1M68 5.5h1M73 5.5h2M89 5.5h1M3 6.5h1M7 6.5h1M15 6.5h1M18 6.5h2M57 6.5h1M59 6.5h1M64 6.5h1M70 6.5h1M73 6.5h1M79 6.5h2M92 6.5h1M1 7.5h2M4 7.5h1M13 7.5h1M34 7.5h1M40 7.5h3M45 7.5h1M55 7.5h1M65 7.5h1M70 7.5h1M88 7.5h1M4 8.5h1M12 8.5h1M14 8.5h1M38 8.5h1M42 8.5h1M45 8.5h1M55 8.5h2M62 8.5h1M70 8.5h1M83 8.5h1M88 8.5h1M90 8.5h1M6 9.5h1M18 9.5h1M26 9.5h1M37 9.5h1M49 9.5h2M85 9.5h1M92 9.5h1M99 9.5h1M15 10.5h1M33 10.5h1M38 10.5h1M42 10.5h1M45 10.5h1M58 10.5h1M70 10.5h1M75 10.5h1M2 11.5h2M10 11.5h1M14 11.5h3M26 11.5h1M41 11.5h1M64 11.5h1M76 11.5h1M81 11.5h1M6 12.5h1M10 12.5h1M28 12.5h1M41 12.5h1M47 12.5h1M70 12.5h1M72 12.5h1M42 13.5h1M47 13.5h2M52 13.5h1M68 13.5h1M81 13.5h1M93 13.5h1M0 14.5h1M33 14.5h1M51 14.5h1M54 14.5h1M89 14.5h1M94 14.5h1M18 15.5h1M23 15.5h1M45 15.5h1M65 15.5h1M89 15.5h1M93 15.5h2M2 16.5h1M13 16.5h2M38 16.5h1M86 16.5h1M89 16.5h1M2 17.5h1M12 17.5h1M26 17.5h1M42 17.5h1M46 17.5h1M48 17.5h1M64 17.5h1M71 17.5h1M2 18.5h1M12 18.5h1M20 18.5h2M54 18.5h1M68 18.5h1M72 18.5h1M7 19.5h1M11 19.5h1M18 19.5h1M38 19.5h1M58 19.5h1M69 19.5h1M75 19.5h2M87 19.5h1M0 20.5h1M3 20.5h2M9 20.5h1M14 20.5h1M33 20.5h2M53 20.5h1M55 20.5h1M86 20.5h2M3 21.5h1M46 21.5h1M48 21.5h1M55 21.5h1M64 21.5h1M83 21.5h2M98 21.5h1M6 22.5h1M10 22.5h1M12 22.5h1M45 22.5h2M52 22.5h1M74 22.5h2M90 22.5h2M2 23.5h1M8 23.5h2M52 23.5h1M54 23.5h1M72 23.5h1M79 23.5h1M14 24.5h1M18 24.5h2M31 24.5h1M59 24.5h2M79 24.5h1M84 24.5h1M86 24.5h1M35 25.5h1M40 25.5h2M70 25.5h1M73 25.5h1M79 25.5h1M87 25.5h4M27 26.5h1M34 26.5h2M68 26.5h1M76 26.5h1M80 26.5h1M91 26.5h1M3 27.5h1M11 27.5h1M41 27.5h4M86 27.5h1M2 28.5h1M10 28.5h1M43 28.5h2M49 28.5h1M89 28.5h1M17 29.5h1M21 29.5h1M24 29.5h2M29 29.5h1M32 29.5h1M40 29.5h1M84 29.5h1M4 30.5h1M9 30.5h2M12 30.5h1M14 30.5h1M18 30.5h1M24 30.5h2M37 30.5h1M39 30.5h1M42 30.5h1M46 30.5h1M58 30.5h1M62 30.5h1M64 30.5h1M81 30.5h1M92 30.5h1M95 30.5h1M9 31.5h1M16 31.5h1M34 31.5h1M37 31.5h1M41 31.5h1M44 31.5h1M74 31.5h1M76 31.5h1M93 31.5h1M95 31.5h1M98 31.5h1M8 32.5h1M19 32.5h1M24 32.5h1M54 32.5h1M84 32.5h3M90 32.5h1M99 32.5h1M8 33.5h1M14 33.5h2M34 33.5h1M53 33.5h1M74 33.5h2M26 34.5h1M46 34.5h1M49 34.5h1M62 34.5h1M68 34.5h1M70 34.5h1M2 35.5h3M14 35.5h2M25 35.5h3M29 35.5h1M46 35.5h1M76 35.5h1M84 35.5h2M92 35.5h1M20 36.5h1M25 36.5h1M27 36.5h3M58 36.5h1M62 36.5h1M73 36.5h1M92 36.5h3M97 36.5h1M6 37.5h3M10 37.5h1M18 37.5h1M23 37.5h1M25 37.5h1M29 37.5h1M51 37.5h1M67 37.5h1M71 37.5h1M73 37.5h1M80 37.5h1M98 37.5h2M21 38.5h1M26 38.5h3M37 38.5h1M45 38.5h1M52 38.5h2M67 38.5h1M71 38.5h1M73 38.5h1M87 38.5h1M22 39.5h1M38 39.5h2M43 39.5h1M47 39.5h1M52 39.5h1M73 39.5h1M79 39.5h1M90 39.5h1M99 39.5h1M19 40.5h1M24 40.5h1M33 40.5h1M43 40.5h1M60 40.5h1M67 40.5h1M69 40.5h1M77 40.5h1M83 40.5h1M93 40.5h1M95 40.5h1M10 41.5h1M13 41.5h1M21 41.5h1M28 41.5h1M33 41.5h1M54 41.5h1M61 41.5h2M73 41.5h1M83 41.5h1M86 41.5h1M99 41.5h1M14 42.5h1M42 42.5h2M54 42.5h1M77 42.5h1M84 42.5h1M86 42.5h1M98 42.5h1M22 43.5h1M43 43.5h1M45 43.5h1M51 43.5h1M54 43.5h2M76 43.5h2M84 43.5h1M89 43.5h1M92 43.5h2M96 43.5h1M6 44.5h1M8 44.5h1M19 44.5h1M49 44.5h1M55 44.5h1M62 44.5h1M90 44.5h2M93 44.5h3M97 44.5h2M6 45.5h1M36 45.5h1M52 45.5h1M64 45.5h2M71 45.5h1M18 46.5h1M20 46.5h1M41 46.5h1M43 46.5h1M48 46.5h1M76 46.5h1M86 46.5h2M92 46.5h3M27 47.5h1M29 47.5h1M56 47.5h1M83 47.5h1M93 47.5h2M3 48.5h2M43 48.5h1M66 48.5h1M16 49.5h1M20 49.5h2M66 49.5h1M73 49.5h1M77 49.5h1M82 49.5h1M90 49.5h1M0 50.5h2M46 50.5h1M53 50.5h1M88 50.5h1M7 51.5h1M27 51.5h1M37 51.5h2M42 51.5h1M53 51.5h1M58 51.5h1M73 51.5h2M79 51.5h1M99 51.5h1M18 52.5h1M23 52.5h2M40 52.5h1M55 52.5h1M79 52.5h1M90 52.5h1M94 52.5h1M18 53.5h1M27 53.5h1M45 53.5h1M64 53.5h1M76 53.5h1M86 53.5h1M94 53.5h1M9 54.5h1M14 54.5h1M24 54.5h1M42 54.5h1M45 54.5h1M57 54.5h1M77 54.5h1M86 54.5h1M93 54.5h1M9 55.5h1M22 55.5h1M25 55.5h1M30 55.5h1M38 55.5h1M49 55.5h1M57 55.5h1M69 55.5h1M71 55.5h2M80 55.5h1M97 55.5h3M2 56.5h2M21 56.5h1M23 56.5h1M38 56.5h1M43 56.5h1M54 56.5h1M84 56.5h2M95 56.5h1M98 56.5h1M22 57.5h1M31 57.5h1M98 57.5h1M2 58.5h1M41 58.5h1M43 58.5h1M71 58.5h1M2 59.5h1M33 59.5h1M36 59.5h1M46 59.5h1M58 59.5h1M73 59.5h1M80 59.5h1M88 59.5h1M95 59.5h2M99 59.5h1M36 60.5h1M42 60.5h1M45 60.5h1M49 60.5h1M51 60.5h1M72 60.5h2M94 60.5h1M19 61.5h1M24 61.5h1M45 61.5h1M47 61.5h1M79 61.5h1M81 61.5h1M84 61.5h2M6 62.5h1M20 62.5h1M38 62.5h1M43 62.5h1M45 62.5h1M53 62.5h1M75 62.5h1M79 62.5h1M84 62.5h1M99 62.5h1M23 63.5h1M44 63.5h1M92 63.5h1M7 64.5h1M12 64.5h1M21 64.5h1M41 64.5h1M44 64.5h1M53 64.5h3M66 64.5h1M84 64.5h1M96 64.5h2M99 64.5h1M39 65.5h1M52 65.5h4M66 65.5h1M90 65.5h1M93 65.5h1M97 65.5h1M99 65.5h1M6 66.5h1M17 66.5h1M25 66.5h1M50 66.5h1M53 66.5h1M66 66.5h1M70 66.5h2M11 67.5h1M14 67.5h1M28 67.5h6M46 67.5h1M90 67.5h1M98 67.5h1M2 68.5h1M5 68.5h2M29 68.5h1M2 69.5h1M21 69.5h1M33 69.5h3M48 69.5h2M65 69.5h1M81 69.5h1M2 70.5h1M8 70.5h1M15 70.5h1M33 70.5h1M37 70.5h1M40 70.5h1M47 70.5h1M55 70.5h1M84 70.5h1M93 70.5h1M96 70.5h1M7 71.5h1M16 71.5h1M21 71.5h1M65 71.5h1M86 71.5h1M8 72.5h3M24 72.5h2M65 72.5h1M73 72.5h1M78 72.5h2M93 72.5h1M10 73.5h1M32 73.5h1M36 73.5h1M39 73.5h1M45 73.5h1M58 73.5h1M93 73.5h1M12 74.5h1M17 74.5h1M22 74.5h1M34 74.5h1M41 74.5h1M47 74.5h1M55 74.5h1M61 74.5h2M3 75.5h1M7 75.5h2M12 75.5h1M30 75.5h1M33 75.5h1M41 75.5h1M52 75.5h1M55 75.5h1M67 75.5h1M93 75.5h1M8 76.5h1M30 76.5h1M33 76.5h1M39 76.5h1M41 76.5h1M2 77.5h2M6 77.5h1M8 77.5h1M21 77.5h1M23 77.5h1M27 77.5h1M49 77.5h1M98 77.5h1M2 78.5h1M6 78.5h1M23 78.5h1M33 78.5h1M47 78.5h1M57 78.5h1M3 79.5h1M23 79.5h1M27 79.5h2M44 79.5h1M84 79.5h1M87 79.5h1M26 80.5h1M28 80.5h1M44 80.5h1M49 80.5h1M65 80.5h1M69 80.5h3M80 80.5h1M9 81.5h1M11 81.5h2M35 81.5h1M45 81.5h2M49 81.5h1M53 81.5h1M63 81.5h1M77 81.5h1M4 82.5h1M16 82.5h1M41 82.5h1M82 82.5h1M95 82.5h1M6 83.5h1M11 83.5h1M13 83.5h2M45 83.5h2M55 83.5h1M69 83.5h1M26 84.5h2M35 84.5h1M37 84.5h1M45 84.5h2M55 84.5h2M74 84.5h2M8 85.5h1M22 85.5h3M27 85.5h2M38 85.5h1M90 85.5h1M99 85.5h1M9 86.5h1M13 86.5h1M18 86.5h1M30 86.5h1M38 86.5h1M51 86.5h1M64 86.5h1M91 86.5h1M5 87.5h1M54 87.5h3M59 87.5h3M76 87.5h1M3 88.5h1M5 88.5h1M19 88.5h1M27 88.5h1M61 88.5h1M63 88.5h2M69 88.5h1M90 88.5h1M24 89.5h1M47 89.5h1M54 89.5h2M83 89.5h1M90 89.5h1M99 89.5h1M6 90.5h1M9 90.5h1M11 90.5h2M29 90.5h1M34 90.5h1M68 90.5h2M83 90.5h1M91 90.5h2M98 90.5h1M3 91.5h1M5 91.5h2M23 91.5h1M36 91.5h1M43 91.5h1M46 91.5h1M68 91.5h1M13 92.5h1M35 92.5h1M46 92.5h1M51 92.5h1M67 92.5h1M78 92.5h1M87 92.5h1M90 92.5h1M93 92.5h1M27 93.5h1M48 93.5h1M50 93.5h1M67 93.5h1M75 93.5h1M90 93.5h1M19 94.5h1M24 94.5h1M37 94.5h1M48 94.5h1M51 94.5h1M74 94.5h1M83 94.5h1M95 94.5h1M8 95.5h1M10 95.5h2M18 95.5h2M44 95.5h1M48 95.5h1M53 95.5h1M57 95.5h1M67 95.5h1M72 95.5h2M81 95.5h1M83 95.5h1M86 95.5h1M15 96.5h1M22 96.5h2M32 96.5h1M44 96.5h1M50 96.5h2M58 96.5h1M73 96.5h1M87 96.5h1M98 96.5h1M3 97.5h1M22 97.5h1M44 97.5h3M48 97.5h4M70 97.5h1M81 97.5h1M98 97.5h1M5 98.5h1M7 98.5h1M17 98.5h1M37 98.5h1M45 98.5h2M48 98.5h1M67 98.5h2M85 98.5h1M90 98.5h1M24 99.5h1M26 99.5h2M46 99.5h1M64 99.5h2M67 99.5h2M78 99.5h1M86 99.5h1" stroke="#cfcfcf" stroke-width="1.02" fill="none"/>
</g></g>
<text x="229.5" y="1143.4" font-size="50" text-anchor="start" >i</text>
<text x="229.5" y="1409.2" font-size="50" text-anchor="start" >ii</text>
<text x="229.5" y="1682.0" font-size="50" text-anchor="start" >iii</text>
<text x="229.5" y="1954.6" font-size="50" text-anchor="start" >iv</text>
<text x="229.5" y="2222.5" font-size="50" text-anchor="start" >v</text>
<g fill="#808080">
<circle cx="669.0" cy="1106.5" r="6.3"/>
<circle cx="671.0" cy="1106.5" r="6.3"/>
<circle cx="697.6" cy="1115.7" r="6.3"/>
<circle cx="697.6" cy="1136.5" r="6.3"/>
<circle cx="1033.0" cy="1133.5" r="6.3"/>
<circle cx="1033.0" cy="1136.8" r="6.3"/>
<circle cx="1033.0" cy="1140.0" r="6.3"/>
<circle cx="1033.0" cy="1143.2" r="6.3"/>
<circle cx="1033.0" cy="1146.5" r="6.3"/>
<circle cx="1033.0" cy="1149.8" r="6.3"/>
<circle cx="1033.0" cy="1153.0" r="6.3"/>
</g>
<path d="M655.2 1099.5V1251.0H1039.9" stroke="#000" stroke-width="3.3" fill="none" stroke-linejoin="miter"/>
<path d="M1038.6 1251.0H1055.5" stroke="#000" stroke-width="2" fill="none"/>
<path d="M648.7 1108.51H655.2M648.7 1111.31H655.2M648.7 1114.49H655.2M648.7 1118.16H655.2M648.7 1122.50H655.2M648.7 1127.81H655.2M648.7 1134.65H655.2M648.7 1144.30H655.2M648.7 1160.80H655.2M648.7 1163.31H655.2M648.7 1166.11H655.2M648.7 1169.29H655.2M648.7 1172.96H655.2M648.7 1177.30H655.2M648.7 1182.61H655.2M648.7 1189.45H655.2M648.7 1199.10H655.2M648.7 1215.60H655.2M648.7 1218.11H655.2M648.7 1220.91H655.2M648.7 1224.09H655.2M648.7 1227.76H655.2M648.7 1232.10H655.2M648.7 1237.41H655.2M648.7 1244.25H655.2M633.2 1106.00H655.2M633.2 1215.60H655.2M647.7 1160.80H655.2M669.80 1251.0v21M697.55 1251.0v6.5M713.79 1251.0v6.5M725.31 1251.0v6.5M734.25 1251.0v6.5M741.55 1251.0v6.5M747.72 1251.0v6.5M753.06 1251.0v6.5M757.78 1251.0v6.5M762.00 1251.0v6.5M789.75 1251.0v6.5M805.99 1251.0v6.5M817.51 1251.0v6.5M826.45 1251.0v6.5M833.75 1251.0v6.5M839.92 1251.0v6.5M845.26 1251.0v6.5M849.98 1251.0v6.5M854.20 1251.0v21M881.95 1251.0v6.5M898.19 1251.0v6.5M909.71 1251.0v6.5M918.65 1251.0v6.5M925.95 1251.0v6.5M932.12 1251.0v6.5M937.46 1251.0v6.5M942.18 1251.0v6.5M946.40 1251.0v6.5M974.15 1251.0v6.5M990.39 1251.0v6.5M1001.91 1251.0v6.5M1010.85 1251.0v6.5M1018.15 1251.0v6.5M1024.32 1251.0v6.5M1029.66 1251.0v6.5M1034.38 1251.0v6.5M1038.60 1251.0v21" stroke="#000" stroke-width="2.7" fill="none"/>
<text x="606.5" y="1117.4" font-size="33.5" text-anchor="middle" ><tspan style="font-family:IPAGothic,'Liberation Sans',sans-serif" font-size="32.16" dy="1.51" stroke="#000" stroke-width="0.37" stroke-linejoin="miter">1</tspan></text>
<text x="670.3" y="1323.0" font-size="33.7" text-anchor="middle" ><tspan style="font-family:IPAGothic,'Liberation Sans',sans-serif" font-size="32.35" dy="1.52" stroke="#000" stroke-width="0.37" stroke-linejoin="miter">1</tspan></text>
<text x="855.1999999999999" y="1323.0" font-size="33.7" text-anchor="middle" >100</text>
<text x="1039.1" y="1323.0" font-size="33.7" text-anchor="middle" >10000</text>
<g fill="#808080">
<circle cx="669.3" cy="1377.7" r="6.3"/>
<circle cx="697.6" cy="1394.0" r="6.3"/>
<circle cx="697.6" cy="1398.2" r="6.3"/>
<circle cx="697.6" cy="1402.5" r="6.3"/>
<circle cx="697.6" cy="1406.8" r="6.3"/>
<circle cx="697.6" cy="1411.0" r="6.3"/>
<circle cx="713.8" cy="1407.0" r="6.3"/>
<circle cx="713.8" cy="1410.8" r="6.3"/>
<circle cx="713.8" cy="1414.5" r="6.3"/>
<circle cx="713.8" cy="1418.2" r="6.3"/>
<circle cx="713.8" cy="1422.0" r="6.3"/>
<circle cx="725.3" cy="1405.0" r="6.3"/>
<circle cx="725.3" cy="1409.0" r="6.3"/>
<circle cx="725.3" cy="1413.0" r="6.3"/>
<circle cx="734.2" cy="1420.0" r="6.3"/>
<circle cx="734.2" cy="1424.0" r="6.3"/>
<circle cx="734.2" cy="1428.0" r="6.3"/>
<circle cx="734.2" cy="1432.0" r="6.3"/>
<circle cx="741.5" cy="1415.0" r="6.3"/>
<circle cx="741.5" cy="1419.8" r="6.3"/>
<circle cx="741.5" cy="1424.5" r="6.3"/>
<circle cx="741.5" cy="1429.2" r="6.3"/>
<circle cx="741.5" cy="1434.0" r="6.3"/>
<circle cx="747.7" cy="1421.0" r="6.3"/>
<circle cx="747.7" cy="1426.5" r="6.3"/>
<circle cx="747.7" cy="1432.0" r="6.3"/>
<circle cx="753.1" cy="1428.0" r="6.3"/>
<circle cx="753.1" cy="1433.0" r="6.3"/>
<circle cx="769.3" cy="1429.5" r="6.3"/>
<circle cx="777.2" cy="1432.0" r="6.3"/>
<circle cx="1027.3" cy="1437.0" r="6.3"/>
<circle cx="1027.3" cy="1441.0" r="6.3"/>
<circle cx="1027.3" cy="1445.0" r="6.3"/>
<circle cx="1027.3" cy="1449.0" r="6.3"/>
<circle cx="1027.3" cy="1453.0" r="6.3"/>
</g>
<path d="M655.2 1370.8V1522.3H1039.9" stroke="#000" stroke-width="3.3" fill="none" stroke-linejoin="miter"/>
<path d="M1038.6 1522.3H1055.5" stroke="#000" stroke-width="2" fill="none"/>
<path d="M648.7 1379.81H655.2M648.7 1382.61H655.2M648.7 1385.79H655.2M648.7 1389.46H655.2M648.7 1393.80H655.2M648.7 1399.11H655.2M648.7 1405.95H655.2M648.7 1415.60H655.2M648.7 1432.10H655.2M648.7 1434.61H655.2M648.7 1437.41H655.2M648.7 1440.59H655.2M648.7 1444.26H655.2M648.7 1448.60H655.2M648.7 1453.91H655.2M648.7 1460.75H655.2M648.7 1470.40H655.2M648.7 1486.90H655.2M648.7 1489.41H655.2M648.7 1492.21H655.2M648.7 1495.39H655.2M648.7 1499.06H655.2M648.7 1503.40H655.2M648.7 1508.71H655.2M648.7 1515.55H655.2M633.2 1377.30H655.2M633.2 1486.90H655.2M647.7 1432.10H655.2M669.80 1522.3v21M697.55 1522.3v6.5M713.79 1522.3v6.5M725.31 1522.3v6.5M734.25 1522.3v6.5M741.55 1522.3v6.5M747.72 1522.3v6.5M753.06 1522.3v6.5M757.78 1522.3v6.5M762.00 1522.3v6.5M789.75 1522.3v6.5M805.99 1522.3v6.5M817.51 1522.3v6.5M826.45 1522.3v6.5M833.75 1522.3v6.5M839.92 1522.3v6.5M845.26 1522.3v6.5M849.98 1522.3v6.5M854.20 1522.3v21M881.95 1522.3v6.5M898.19 1522.3v6.5M909.71 1522.3v6.5M918.65 1522.3v6.5M925.95 1522.3v6.5M932.12 1522.3v6.5M937.46 1522.3v6.5M942.18 1522.3v6.5M946.40 1522.3v6.5M974.15 1522.3v6.5M990.39 1522.3v6.5M1001.91 1522.3v6.5M1010.85 1522.3v6.5M1018.15 1522.3v6.5M1024.32 1522.3v6.5M1029.66 1522.3v6.5M1034.38 1522.3v6.5M1038.60 1522.3v21" stroke="#000" stroke-width="2.7" fill="none"/>
<text x="606.5" y="1388.7" font-size="33.5" text-anchor="middle" ><tspan style="font-family:IPAGothic,'Liberation Sans',sans-serif" font-size="32.16" dy="1.51" stroke="#000" stroke-width="0.37" stroke-linejoin="miter">1</tspan></text>
<text x="670.3" y="1594.3" font-size="33.7" text-anchor="middle" ><tspan style="font-family:IPAGothic,'Liberation Sans',sans-serif" font-size="32.35" dy="1.52" stroke="#000" stroke-width="0.37" stroke-linejoin="miter">1</tspan></text>
<text x="855.1999999999999" y="1594.3" font-size="33.7" text-anchor="middle" >100</text>
<text x="1039.1" y="1594.3" font-size="33.7" text-anchor="middle" >10000</text>
<path d="M669.3 1375.5L679.5 1385.2L690.9 1396.6L702.3 1406.8L713.6 1415.9L725.0 1423.9L736.4 1430.2L747.7 1434.8L759.1 1438.6L770.5 1440.9L781.8 1442.7L793.2 1443.9L804.5 1444.5L827.3 1445.0L850.0 1445.0L1053.4 1445.0" stroke="#000" stroke-width="6" fill="none" stroke-linejoin="round" stroke-linecap="butt"/>
<g fill="#808080">
<circle cx="669.3" cy="1649.2" r="6.2"/>
<circle cx="671.0" cy="1649.2" r="6.2"/>
<circle cx="719.2" cy="1666.6" r="6.2"/>
<circle cx="720.6" cy="1670.3" r="6.2"/>
<circle cx="719.2" cy="1672.7" r="6.2"/>
<circle cx="720.0" cy="1674.7" r="6.2"/>
<circle cx="722.5" cy="1666.9" r="6.2"/>
<circle cx="721.8" cy="1670.8" r="6.2"/>
<circle cx="721.9" cy="1673.9" r="6.2"/>
<circle cx="722.5" cy="1677.8" r="6.2"/>
<circle cx="723.6" cy="1668.8" r="6.2"/>
<circle cx="724.4" cy="1671.0" r="6.2"/>
<circle cx="723.0" cy="1675.8" r="6.2"/>
<circle cx="723.6" cy="1677.1" r="6.2"/>
<circle cx="726.8" cy="1669.3" r="6.2"/>
<circle cx="725.9" cy="1672.9" r="6.2"/>
<circle cx="725.1" cy="1675.9" r="6.2"/>
<circle cx="725.7" cy="1677.5" r="6.2"/>
<circle cx="728.3" cy="1670.8" r="6.2"/>
<circle cx="727.4" cy="1673.3" r="6.2"/>
<circle cx="727.6" cy="1676.9" r="6.2"/>
<circle cx="728.4" cy="1678.8" r="6.2"/>
<circle cx="730.7" cy="1670.7" r="6.2"/>
<circle cx="730.4" cy="1674.5" r="6.2"/>
<circle cx="729.9" cy="1677.8" r="6.2"/>
<circle cx="730.8" cy="1679.5" r="6.2"/>
<circle cx="732.7" cy="1670.6" r="6.2"/>
<circle cx="732.0" cy="1672.6" r="6.2"/>
<circle cx="732.4" cy="1675.7" r="6.2"/>
<circle cx="732.7" cy="1678.3" r="6.2"/>
<circle cx="732.1" cy="1681.3" r="6.2"/>
<circle cx="734.2" cy="1670.7" r="6.2"/>
<circle cx="733.4" cy="1674.9" r="6.2"/>
<circle cx="734.5" cy="1677.2" r="6.2"/>
<circle cx="734.8" cy="1679.0" r="6.2"/>
<circle cx="734.7" cy="1681.7" r="6.2"/>
<circle cx="736.9" cy="1672.4" r="6.2"/>
<circle cx="736.2" cy="1676.2" r="6.2"/>
<circle cx="736.6" cy="1678.6" r="6.2"/>
<circle cx="735.1" cy="1680.4" r="6.2"/>
<circle cx="735.2" cy="1682.8" r="6.2"/>
<circle cx="737.4" cy="1673.6" r="6.2"/>
<circle cx="737.3" cy="1675.1" r="6.2"/>
<circle cx="738.0" cy="1679.6" r="6.2"/>
<circle cx="738.9" cy="1682.2" r="6.2"/>
<circle cx="737.4" cy="1684.7" r="6.2"/>
<circle cx="740.4" cy="1672.1" r="6.2"/>
<circle cx="740.4" cy="1676.0" r="6.2"/>
<circle cx="740.2" cy="1679.9" r="6.2"/>
<circle cx="740.3" cy="1682.6" r="6.2"/>
<circle cx="740.1" cy="1684.8" r="6.2"/>
<circle cx="742.0" cy="1672.9" r="6.2"/>
<circle cx="742.0" cy="1677.2" r="6.2"/>
<circle cx="742.5" cy="1680.0" r="6.2"/>
<circle cx="741.0" cy="1683.5" r="6.2"/>
<circle cx="741.4" cy="1687.3" r="6.2"/>
<circle cx="743.8" cy="1674.2" r="6.2"/>
<circle cx="744.8" cy="1677.5" r="6.2"/>
<circle cx="743.7" cy="1680.7" r="6.2"/>
<circle cx="744.0" cy="1683.3" r="6.2"/>
<circle cx="744.1" cy="1688.7" r="6.2"/>
<circle cx="746.1" cy="1675.7" r="6.2"/>
<circle cx="746.9" cy="1679.4" r="6.2"/>
<circle cx="746.5" cy="1682.7" r="6.2"/>
<circle cx="746.6" cy="1684.6" r="6.2"/>
<circle cx="746.0" cy="1688.2" r="6.2"/>
<circle cx="747.5" cy="1675.9" r="6.2"/>
<circle cx="747.6" cy="1679.5" r="6.2"/>
<circle cx="748.2" cy="1681.7" r="6.2"/>
<circle cx="747.9" cy="1685.9" r="6.2"/>
<circle cx="748.4" cy="1688.6" r="6.2"/>
<circle cx="749.3" cy="1676.5" r="6.2"/>
<circle cx="749.8" cy="1679.7" r="6.2"/>
<circle cx="749.7" cy="1681.3" r="6.2"/>
<circle cx="750.9" cy="1684.3" r="6.2"/>
<circle cx="749.3" cy="1687.2" r="6.2"/>
<circle cx="749.7" cy="1689.9" r="6.2"/>
<circle cx="752.1" cy="1678.3" r="6.2"/>
<circle cx="751.3" cy="1679.8" r="6.2"/>
<circle cx="752.3" cy="1683.9" r="6.2"/>
<circle cx="753.0" cy="1684.9" r="6.2"/>
<circle cx="752.1" cy="1689.7" r="6.2"/>
<circle cx="751.1" cy="1691.9" r="6.2"/>
<circle cx="753.3" cy="1678.5" r="6.2"/>
<circle cx="754.9" cy="1680.9" r="6.2"/>
<circle cx="753.0" cy="1682.6" r="6.2"/>
<circle cx="753.8" cy="1687.6" r="6.2"/>
<circle cx="753.5" cy="1690.1" r="6.2"/>
<circle cx="753.8" cy="1692.0" r="6.2"/>
<circle cx="756.4" cy="1678.0" r="6.2"/>
<circle cx="755.7" cy="1682.2" r="6.2"/>
<circle cx="756.0" cy="1685.3" r="6.2"/>
<circle cx="756.0" cy="1686.7" r="6.2"/>
<circle cx="755.9" cy="1691.6" r="6.2"/>
<circle cx="756.1" cy="1694.9" r="6.2"/>
<circle cx="757.0" cy="1678.8" r="6.2"/>
<circle cx="758.5" cy="1682.8" r="6.2"/>
<circle cx="758.1" cy="1685.8" r="6.2"/>
<circle cx="758.8" cy="1689.0" r="6.2"/>
<circle cx="758.1" cy="1691.7" r="6.2"/>
<circle cx="758.3" cy="1694.2" r="6.2"/>
<circle cx="760.3" cy="1680.2" r="6.2"/>
<circle cx="760.6" cy="1683.0" r="6.2"/>
<circle cx="759.1" cy="1686.3" r="6.2"/>
<circle cx="760.7" cy="1689.7" r="6.2"/>
<circle cx="760.3" cy="1692.2" r="6.2"/>
<circle cx="759.7" cy="1696.2" r="6.2"/>
<circle cx="761.2" cy="1681.6" r="6.2"/>
<circle cx="762.8" cy="1685.0" r="6.2"/>
<circle cx="761.3" cy="1686.0" r="6.2"/>
<circle cx="762.8" cy="1690.0" r="6.2"/>
<circle cx="761.5" cy="1693.1" r="6.2"/>
<circle cx="762.3" cy="1695.8" r="6.2"/>
<circle cx="764.0" cy="1681.7" r="6.2"/>
<circle cx="764.4" cy="1683.3" r="6.2"/>
<circle cx="764.6" cy="1687.7" r="6.2"/>
<circle cx="763.9" cy="1691.3" r="6.2"/>
<circle cx="763.6" cy="1695.4" r="6.2"/>
<circle cx="763.4" cy="1697.8" r="6.2"/>
<circle cx="765.3" cy="1682.3" r="6.2"/>
<circle cx="766.8" cy="1686.3" r="6.2"/>
<circle cx="765.3" cy="1689.0" r="6.2"/>
<circle cx="766.8" cy="1691.2" r="6.2"/>
<circle cx="765.8" cy="1695.9" r="6.2"/>
<circle cx="766.5" cy="1698.5" r="6.2"/>
<circle cx="768.3" cy="1683.2" r="6.2"/>
<circle cx="767.7" cy="1686.5" r="6.2"/>
<circle cx="768.2" cy="1690.0" r="6.2"/>
<circle cx="768.0" cy="1692.5" r="6.2"/>
<circle cx="767.9" cy="1697.4" r="6.2"/>
<circle cx="767.4" cy="1698.7" r="6.2"/>
<circle cx="769.0" cy="1684.4" r="6.2"/>
<circle cx="771.0" cy="1686.2" r="6.2"/>
<circle cx="769.5" cy="1689.6" r="6.2"/>
<circle cx="770.2" cy="1693.7" r="6.2"/>
<circle cx="770.6" cy="1696.5" r="6.2"/>
<circle cx="770.8" cy="1700.6" r="6.2"/>
<circle cx="772.6" cy="1685.0" r="6.2"/>
<circle cx="772.8" cy="1687.7" r="6.2"/>
<circle cx="772.2" cy="1691.4" r="6.2"/>
<circle cx="771.4" cy="1694.7" r="6.2"/>
<circle cx="772.9" cy="1699.2" r="6.2"/>
<circle cx="771.0" cy="1702.1" r="6.2"/>
<circle cx="773.7" cy="1684.1" r="6.2"/>
<circle cx="773.3" cy="1688.8" r="6.2"/>
<circle cx="774.9" cy="1691.0" r="6.2"/>
<circle cx="773.8" cy="1693.9" r="6.2"/>
<circle cx="774.7" cy="1697.4" r="6.2"/>
<circle cx="773.1" cy="1699.0" r="6.2"/>
<circle cx="774.7" cy="1702.6" r="6.2"/>
<circle cx="776.3" cy="1686.6" r="6.2"/>
<circle cx="776.3" cy="1689.4" r="6.2"/>
<circle cx="776.1" cy="1691.1" r="6.2"/>
<circle cx="775.4" cy="1696.0" r="6.2"/>
<circle cx="775.0" cy="1698.2" r="6.2"/>
<circle cx="776.8" cy="1700.0" r="6.2"/>
<circle cx="775.1" cy="1703.4" r="6.2"/>
<circle cx="777.7" cy="1686.6" r="6.2"/>
<circle cx="777.9" cy="1690.8" r="6.2"/>
<circle cx="777.2" cy="1693.8" r="6.2"/>
<circle cx="777.1" cy="1696.8" r="6.2"/>
<circle cx="777.7" cy="1699.2" r="6.2"/>
<circle cx="777.0" cy="1701.5" r="6.2"/>
<circle cx="778.4" cy="1705.0" r="6.2"/>
<circle cx="780.6" cy="1686.5" r="6.2"/>
<circle cx="779.8" cy="1690.8" r="6.2"/>
<circle cx="779.1" cy="1694.4" r="6.2"/>
<circle cx="779.8" cy="1695.9" r="6.2"/>
<circle cx="779.4" cy="1700.0" r="6.2"/>
<circle cx="779.1" cy="1702.0" r="6.2"/>
<circle cx="779.6" cy="1705.0" r="6.2"/>
<circle cx="782.5" cy="1688.5" r="6.2"/>
<circle cx="782.8" cy="1691.8" r="6.2"/>
<circle cx="781.6" cy="1693.9" r="6.2"/>
<circle cx="781.2" cy="1696.8" r="6.2"/>
<circle cx="782.2" cy="1701.1" r="6.2"/>
<circle cx="781.6" cy="1703.2" r="6.2"/>
<circle cx="782.6" cy="1707.8" r="6.2"/>
<circle cx="783.2" cy="1687.9" r="6.2"/>
<circle cx="784.5" cy="1692.1" r="6.2"/>
<circle cx="783.9" cy="1695.6" r="6.2"/>
<circle cx="784.5" cy="1697.2" r="6.2"/>
<circle cx="784.9" cy="1702.6" r="6.2"/>
<circle cx="783.8" cy="1704.5" r="6.2"/>
<circle cx="783.5" cy="1707.9" r="6.2"/>
<circle cx="785.4" cy="1689.9" r="6.2"/>
<circle cx="786.8" cy="1693.0" r="6.2"/>
<circle cx="786.7" cy="1695.3" r="6.2"/>
<circle cx="786.8" cy="1698.3" r="6.2"/>
<circle cx="785.4" cy="1703.0" r="6.2"/>
<circle cx="785.6" cy="1704.5" r="6.2"/>
<circle cx="785.2" cy="1709.4" r="6.2"/>
<circle cx="787.0" cy="1689.5" r="6.2"/>
<circle cx="788.9" cy="1694.5" r="6.2"/>
<circle cx="787.7" cy="1696.2" r="6.2"/>
<circle cx="788.7" cy="1700.9" r="6.2"/>
<circle cx="788.3" cy="1703.4" r="6.2"/>
<circle cx="788.1" cy="1707.7" r="6.2"/>
<circle cx="788.0" cy="1708.6" r="6.2"/>
<circle cx="789.1" cy="1691.7" r="6.2"/>
<circle cx="790.5" cy="1695.0" r="6.2"/>
<circle cx="790.5" cy="1697.3" r="6.2"/>
<circle cx="789.7" cy="1700.4" r="6.2"/>
<circle cx="789.7" cy="1703.6" r="6.2"/>
<circle cx="790.7" cy="1706.5" r="6.2"/>
<circle cx="789.4" cy="1711.2" r="6.2"/>
<circle cx="791.8" cy="1691.8" r="6.2"/>
<circle cx="792.9" cy="1696.5" r="6.2"/>
<circle cx="791.4" cy="1697.8" r="6.2"/>
<circle cx="792.0" cy="1702.1" r="6.2"/>
<circle cx="791.7" cy="1705.3" r="6.2"/>
<circle cx="792.4" cy="1709.1" r="6.2"/>
<circle cx="791.5" cy="1711.9" r="6.2"/>
<circle cx="793.1" cy="1691.9" r="6.2"/>
<circle cx="793.1" cy="1695.3" r="6.2"/>
<circle cx="794.6" cy="1699.1" r="6.2"/>
<circle cx="794.0" cy="1702.6" r="6.2"/>
<circle cx="793.4" cy="1704.7" r="6.2"/>
<circle cx="793.4" cy="1710.1" r="6.2"/>
<circle cx="793.7" cy="1712.1" r="6.2"/>
<circle cx="795.5" cy="1694.5" r="6.2"/>
<circle cx="796.4" cy="1696.8" r="6.2"/>
<circle cx="796.0" cy="1700.0" r="6.2"/>
<circle cx="796.1" cy="1703.7" r="6.2"/>
<circle cx="796.2" cy="1707.8" r="6.2"/>
<circle cx="796.9" cy="1708.8" r="6.2"/>
<circle cx="795.8" cy="1711.9" r="6.2"/>
<circle cx="797.7" cy="1695.5" r="6.2"/>
<circle cx="798.4" cy="1698.1" r="6.2"/>
<circle cx="797.2" cy="1701.9" r="6.2"/>
<circle cx="798.2" cy="1703.8" r="6.2"/>
<circle cx="798.6" cy="1706.3" r="6.2"/>
<circle cx="797.4" cy="1711.5" r="6.2"/>
<circle cx="797.1" cy="1713.0" r="6.2"/>
<circle cx="800.0" cy="1696.0" r="6.2"/>
<circle cx="800.2" cy="1697.5" r="6.2"/>
<circle cx="799.5" cy="1702.4" r="6.2"/>
<circle cx="799.7" cy="1704.3" r="6.2"/>
<circle cx="799.0" cy="1707.7" r="6.2"/>
<circle cx="800.9" cy="1710.4" r="6.2"/>
<circle cx="800.1" cy="1715.8" r="6.2"/>
<circle cx="802.4" cy="1695.7" r="6.2"/>
<circle cx="802.3" cy="1698.5" r="6.2"/>
<circle cx="802.0" cy="1702.1" r="6.2"/>
<circle cx="802.8" cy="1706.9" r="6.2"/>
<circle cx="802.5" cy="1708.8" r="6.2"/>
<circle cx="802.6" cy="1713.6" r="6.2"/>
<circle cx="801.7" cy="1715.6" r="6.2"/>
<circle cx="803.3" cy="1696.1" r="6.2"/>
<circle cx="804.4" cy="1699.2" r="6.2"/>
<circle cx="804.2" cy="1702.5" r="6.2"/>
<circle cx="804.3" cy="1707.4" r="6.2"/>
<circle cx="804.9" cy="1709.6" r="6.2"/>
<circle cx="803.8" cy="1712.9" r="6.2"/>
<circle cx="804.4" cy="1717.1" r="6.2"/>
<circle cx="805.2" cy="1697.4" r="6.2"/>
<circle cx="805.1" cy="1700.4" r="6.2"/>
<circle cx="806.5" cy="1705.4" r="6.2"/>
<circle cx="807.0" cy="1706.4" r="6.2"/>
<circle cx="805.8" cy="1711.7" r="6.2"/>
<circle cx="806.0" cy="1713.5" r="6.2"/>
<circle cx="806.6" cy="1718.1" r="6.2"/>
<circle cx="807.3" cy="1698.7" r="6.2"/>
<circle cx="807.3" cy="1701.1" r="6.2"/>
<circle cx="808.1" cy="1704.5" r="6.2"/>
<circle cx="808.6" cy="1708.0" r="6.2"/>
<circle cx="807.4" cy="1711.9" r="6.2"/>
<circle cx="807.5" cy="1713.6" r="6.2"/>
<circle cx="809.0" cy="1717.1" r="6.2"/>
<circle cx="809.3" cy="1699.5" r="6.2"/>
<circle cx="809.0" cy="1703.5" r="6.2"/>
<circle cx="809.2" cy="1704.7" r="6.2"/>
<circle cx="810.9" cy="1709.2" r="6.2"/>
<circle cx="810.9" cy="1713.4" r="6.2"/>
<circle cx="810.5" cy="1714.3" r="6.2"/>
<circle cx="810.3" cy="1717.6" r="6.2"/>
<circle cx="811.0" cy="1701.2" r="6.2"/>
<circle cx="811.6" cy="1704.2" r="6.2"/>
<circle cx="812.1" cy="1707.5" r="6.2"/>
<circle cx="812.3" cy="1711.1" r="6.2"/>
<circle cx="811.9" cy="1714.0" r="6.2"/>
<circle cx="812.6" cy="1716.5" r="6.2"/>
<circle cx="812.0" cy="1719.3" r="6.2"/>
<circle cx="814.3" cy="1700.3" r="6.2"/>
<circle cx="813.9" cy="1704.8" r="6.2"/>
<circle cx="813.6" cy="1706.9" r="6.2"/>
<circle cx="813.2" cy="1711.7" r="6.2"/>
<circle cx="814.8" cy="1715.0" r="6.2"/>
<circle cx="814.4" cy="1717.7" r="6.2"/>
<circle cx="813.1" cy="1721.6" r="6.2"/>
<circle cx="815.9" cy="1702.4" r="6.2"/>
<circle cx="815.2" cy="1705.9" r="6.2"/>
<circle cx="815.3" cy="1709.8" r="6.2"/>
<circle cx="816.4" cy="1712.0" r="6.2"/>
<circle cx="816.3" cy="1714.6" r="6.2"/>
<circle cx="816.0" cy="1717.5" r="6.2"/>
<circle cx="815.6" cy="1721.4" r="6.2"/>
<circle cx="817.3" cy="1702.5" r="6.2"/>
<circle cx="817.1" cy="1704.9" r="6.2"/>
<circle cx="817.7" cy="1710.8" r="6.2"/>
<circle cx="818.5" cy="1712.8" r="6.2"/>
<circle cx="817.4" cy="1715.4" r="6.2"/>
<circle cx="817.8" cy="1720.2" r="6.2"/>
<circle cx="818.7" cy="1723.1" r="6.2"/>
<circle cx="820.7" cy="1704.3" r="6.2"/>
<circle cx="820.7" cy="1706.1" r="6.2"/>
<circle cx="819.9" cy="1708.6" r="6.2"/>
<circle cx="820.2" cy="1711.3" r="6.2"/>
<circle cx="819.9" cy="1714.6" r="6.2"/>
<circle cx="820.0" cy="1717.7" r="6.2"/>
<circle cx="819.0" cy="1721.3" r="6.2"/>
<circle cx="819.9" cy="1724.6" r="6.2"/>
<circle cx="821.2" cy="1704.3" r="6.2"/>
<circle cx="821.6" cy="1706.3" r="6.2"/>
<circle cx="821.8" cy="1710.9" r="6.2"/>
<circle cx="821.6" cy="1714.1" r="6.2"/>
<circle cx="822.6" cy="1715.3" r="6.2"/>
<circle cx="821.4" cy="1719.1" r="6.2"/>
<circle cx="822.2" cy="1722.7" r="6.2"/>
<circle cx="822.1" cy="1724.7" r="6.2"/>
<circle cx="823.6" cy="1704.2" r="6.2"/>
<circle cx="824.5" cy="1708.7" r="6.2"/>
<circle cx="823.6" cy="1712.4" r="6.2"/>
<circle cx="823.3" cy="1713.3" r="6.2"/>
<circle cx="823.7" cy="1718.1" r="6.2"/>
<circle cx="824.9" cy="1720.9" r="6.2"/>
<circle cx="823.3" cy="1724.2" r="6.2"/>
<circle cx="823.0" cy="1728.0" r="6.2"/>
<circle cx="825.6" cy="1704.8" r="6.2"/>
<circle cx="825.3" cy="1710.0" r="6.2"/>
<circle cx="826.8" cy="1711.5" r="6.2"/>
<circle cx="827.0" cy="1716.5" r="6.2"/>
<circle cx="825.7" cy="1717.6" r="6.2"/>
<circle cx="825.3" cy="1721.8" r="6.2"/>
<circle cx="825.4" cy="1724.4" r="6.2"/>
<circle cx="825.5" cy="1729.4" r="6.2"/>
<circle cx="827.1" cy="1707.8" r="6.2"/>
<circle cx="827.9" cy="1710.6" r="6.2"/>
<circle cx="828.0" cy="1714.4" r="6.2"/>
<circle cx="827.4" cy="1715.9" r="6.2"/>
<circle cx="828.0" cy="1719.9" r="6.2"/>
<circle cx="827.7" cy="1722.6" r="6.2"/>
<circle cx="827.2" cy="1726.4" r="6.2"/>
<circle cx="828.7" cy="1730.7" r="6.2"/>
<circle cx="829.8" cy="1708.7" r="6.2"/>
<circle cx="830.9" cy="1710.4" r="6.2"/>
<circle cx="829.2" cy="1715.1" r="6.2"/>
<circle cx="830.9" cy="1718.0" r="6.2"/>
<circle cx="830.9" cy="1720.9" r="6.2"/>
<circle cx="830.0" cy="1723.2" r="6.2"/>
<circle cx="829.7" cy="1728.8" r="6.2"/>
<circle cx="829.2" cy="1730.1" r="6.2"/>
<circle cx="831.1" cy="1708.3" r="6.2"/>
<circle cx="832.2" cy="1711.8" r="6.2"/>
<circle cx="832.8" cy="1715.6" r="6.2"/>
<circle cx="832.3" cy="1718.8" r="6.2"/>
<circle cx="832.0" cy="1720.9" r="6.2"/>
<circle cx="831.2" cy="1725.8" r="6.2"/>
<circle cx="831.4" cy="1728.7" r="6.2"/>
<circle cx="832.3" cy="1732.6" r="6.2"/>
<circle cx="833.5" cy="1708.5" r="6.2"/>
<circle cx="833.3" cy="1712.6" r="6.2"/>
<circle cx="834.4" cy="1714.2" r="6.2"/>
<circle cx="833.5" cy="1717.4" r="6.2"/>
<circle cx="834.2" cy="1720.8" r="6.2"/>
<circle cx="834.7" cy="1723.8" r="6.2"/>
<circle cx="834.3" cy="1727.8" r="6.2"/>
<circle cx="834.9" cy="1731.1" r="6.2"/>
<circle cx="834.9" cy="1733.8" r="6.2"/>
<circle cx="835.0" cy="1709.3" r="6.2"/>
<circle cx="836.5" cy="1712.5" r="6.2"/>
<circle cx="836.3" cy="1715.0" r="6.2"/>
<circle cx="836.3" cy="1718.8" r="6.2"/>
<circle cx="836.9" cy="1721.1" r="6.2"/>
<circle cx="835.7" cy="1726.0" r="6.2"/>
<circle cx="835.8" cy="1728.3" r="6.2"/>
<circle cx="835.7" cy="1730.4" r="6.2"/>
<circle cx="835.6" cy="1735.5" r="6.2"/>
<circle cx="838.5" cy="1710.0" r="6.2"/>
<circle cx="838.3" cy="1714.4" r="6.2"/>
<circle cx="838.6" cy="1715.5" r="6.2"/>
<circle cx="837.3" cy="1721.0" r="6.2"/>
<circle cx="837.6" cy="1723.6" r="6.2"/>
<circle cx="838.3" cy="1727.0" r="6.2"/>
<circle cx="837.2" cy="1730.3" r="6.2"/>
<circle cx="838.8" cy="1731.6" r="6.2"/>
<circle cx="838.4" cy="1734.1" r="6.2"/>
<circle cx="840.7" cy="1711.0" r="6.2"/>
<circle cx="840.5" cy="1715.1" r="6.2"/>
<circle cx="839.1" cy="1718.4" r="6.2"/>
<circle cx="839.2" cy="1719.6" r="6.2"/>
<circle cx="839.9" cy="1723.0" r="6.2"/>
<circle cx="840.3" cy="1726.0" r="6.2"/>
<circle cx="840.2" cy="1730.6" r="6.2"/>
<circle cx="840.9" cy="1732.8" r="6.2"/>
<circle cx="839.6" cy="1736.4" r="6.2"/>
<circle cx="842.3" cy="1713.0" r="6.2"/>
<circle cx="842.2" cy="1714.9" r="6.2"/>
<circle cx="841.6" cy="1718.7" r="6.2"/>
<circle cx="842.3" cy="1720.2" r="6.2"/>
<circle cx="841.6" cy="1723.6" r="6.2"/>
<circle cx="842.0" cy="1727.2" r="6.2"/>
<circle cx="841.3" cy="1730.8" r="6.2"/>
<circle cx="842.3" cy="1733.4" r="6.2"/>
<circle cx="842.7" cy="1735.9" r="6.2"/>
<circle cx="843.1" cy="1713.1" r="6.2"/>
<circle cx="844.1" cy="1716.4" r="6.2"/>
<circle cx="844.9" cy="1718.9" r="6.2"/>
<circle cx="844.6" cy="1722.4" r="6.2"/>
<circle cx="844.0" cy="1725.2" r="6.2"/>
<circle cx="845.0" cy="1727.9" r="6.2"/>
<circle cx="843.8" cy="1731.4" r="6.2"/>
<circle cx="844.3" cy="1733.5" r="6.2"/>
<circle cx="844.3" cy="1736.6" r="6.2"/>
<circle cx="845.8" cy="1713.1" r="6.2"/>
<circle cx="846.1" cy="1716.6" r="6.2"/>
<circle cx="846.2" cy="1718.4" r="6.2"/>
<circle cx="845.7" cy="1723.4" r="6.2"/>
<circle cx="845.8" cy="1726.8" r="6.2"/>
<circle cx="846.1" cy="1729.3" r="6.2"/>
<circle cx="846.4" cy="1733.5" r="6.2"/>
<circle cx="845.0" cy="1734.4" r="6.2"/>
<circle cx="845.2" cy="1737.8" r="6.2"/>
<circle cx="847.0" cy="1715.2" r="6.2"/>
<circle cx="847.3" cy="1717.1" r="6.2"/>
<circle cx="848.8" cy="1720.2" r="6.2"/>
<circle cx="847.5" cy="1722.9" r="6.2"/>
<circle cx="847.8" cy="1726.2" r="6.2"/>
<circle cx="847.9" cy="1729.6" r="6.2"/>
<circle cx="847.2" cy="1734.0" r="6.2"/>
<circle cx="848.9" cy="1736.3" r="6.2"/>
<circle cx="847.2" cy="1740.4" r="6.2"/>
<circle cx="849.7" cy="1714.4" r="6.2"/>
<circle cx="849.5" cy="1719.0" r="6.2"/>
<circle cx="850.4" cy="1720.5" r="6.2"/>
<circle cx="849.7" cy="1724.0" r="6.2"/>
<circle cx="849.8" cy="1727.9" r="6.2"/>
<circle cx="850.9" cy="1729.4" r="6.2"/>
<circle cx="850.7" cy="1734.7" r="6.2"/>
<circle cx="849.4" cy="1738.2" r="6.2"/>
<circle cx="850.8" cy="1740.7" r="6.2"/>
<circle cx="851.2" cy="1715.2" r="6.2"/>
<circle cx="852.5" cy="1718.7" r="6.2"/>
<circle cx="851.1" cy="1722.4" r="6.2"/>
<circle cx="851.8" cy="1724.2" r="6.2"/>
<circle cx="851.7" cy="1727.1" r="6.2"/>
<circle cx="851.7" cy="1730.1" r="6.2"/>
<circle cx="853.0" cy="1733.6" r="6.2"/>
<circle cx="851.7" cy="1737.2" r="6.2"/>
<circle cx="851.9" cy="1740.5" r="6.2"/>
<circle cx="854.8" cy="1715.2" r="6.2"/>
<circle cx="855.0" cy="1719.0" r="6.2"/>
<circle cx="855.0" cy="1722.1" r="6.2"/>
<circle cx="853.2" cy="1726.6" r="6.2"/>
<circle cx="853.3" cy="1729.5" r="6.2"/>
<circle cx="854.8" cy="1731.4" r="6.2"/>
<circle cx="853.6" cy="1735.5" r="6.2"/>
<circle cx="854.7" cy="1739.5" r="6.2"/>
<circle cx="854.0" cy="1741.9" r="6.2"/>
<circle cx="856.6" cy="1715.9" r="6.2"/>
<circle cx="856.9" cy="1720.9" r="6.2"/>
<circle cx="855.5" cy="1723.5" r="6.2"/>
<circle cx="856.5" cy="1726.8" r="6.2"/>
<circle cx="855.1" cy="1728.5" r="6.2"/>
<circle cx="855.4" cy="1731.8" r="6.2"/>
<circle cx="856.0" cy="1736.7" r="6.2"/>
<circle cx="856.2" cy="1740.4" r="6.2"/>
<circle cx="856.0" cy="1742.4" r="6.2"/>
<circle cx="857.3" cy="1719.3" r="6.2"/>
<circle cx="858.3" cy="1722.5" r="6.2"/>
<circle cx="858.9" cy="1723.3" r="6.2"/>
<circle cx="858.2" cy="1727.4" r="6.2"/>
<circle cx="858.5" cy="1729.4" r="6.2"/>
<circle cx="858.3" cy="1734.0" r="6.2"/>
<circle cx="857.7" cy="1735.8" r="6.2"/>
<circle cx="858.4" cy="1738.7" r="6.2"/>
<circle cx="857.7" cy="1741.7" r="6.2"/>
<circle cx="859.6" cy="1719.1" r="6.2"/>
<circle cx="860.2" cy="1723.6" r="6.2"/>
<circle cx="860.4" cy="1726.2" r="6.2"/>
<circle cx="860.5" cy="1730.3" r="6.2"/>
<circle cx="860.1" cy="1733.9" r="6.2"/>
<circle cx="860.9" cy="1736.5" r="6.2"/>
<circle cx="860.9" cy="1740.3" r="6.2"/>
<circle cx="859.8" cy="1743.2" r="6.2"/>
<circle cx="862.3" cy="1720.9" r="6.2"/>
<circle cx="862.8" cy="1724.2" r="6.2"/>
<circle cx="862.2" cy="1728.6" r="6.2"/>
<circle cx="862.7" cy="1731.3" r="6.2"/>
<circle cx="862.4" cy="1734.7" r="6.2"/>
<circle cx="862.2" cy="1737.1" r="6.2"/>
<circle cx="862.8" cy="1739.6" r="6.2"/>
<circle cx="861.3" cy="1743.2" r="6.2"/>
<circle cx="863.5" cy="1724.1" r="6.2"/>
<circle cx="864.1" cy="1726.9" r="6.2"/>
<circle cx="864.1" cy="1728.2" r="6.2"/>
<circle cx="864.7" cy="1732.9" r="6.2"/>
<circle cx="863.2" cy="1735.6" r="6.2"/>
<circle cx="864.1" cy="1737.1" r="6.2"/>
<circle cx="863.7" cy="1741.6" r="6.2"/>
<circle cx="863.4" cy="1744.3" r="6.2"/>
<circle cx="866.1" cy="1724.3" r="6.2"/>
<circle cx="865.4" cy="1728.4" r="6.2"/>
<circle cx="866.1" cy="1731.4" r="6.2"/>
<circle cx="866.3" cy="1733.8" r="6.2"/>
<circle cx="866.5" cy="1737.3" r="6.2"/>
<circle cx="866.8" cy="1740.9" r="6.2"/>
<circle cx="865.4" cy="1744.2" r="6.2"/>
<circle cx="867.8" cy="1726.7" r="6.2"/>
<circle cx="867.6" cy="1729.7" r="6.2"/>
<circle cx="867.1" cy="1730.9" r="6.2"/>
<circle cx="867.6" cy="1735.7" r="6.2"/>
<circle cx="868.2" cy="1738.1" r="6.2"/>
<circle cx="867.8" cy="1742.3" r="6.2"/>
<circle cx="867.4" cy="1745.4" r="6.2"/>
<circle cx="869.7" cy="1727.4" r="6.2"/>
<circle cx="870.6" cy="1729.6" r="6.2"/>
<circle cx="869.4" cy="1732.1" r="6.2"/>
<circle cx="869.5" cy="1734.7" r="6.2"/>
<circle cx="869.9" cy="1739.1" r="6.2"/>
<circle cx="869.8" cy="1742.9" r="6.2"/>
<circle cx="870.9" cy="1745.4" r="6.2"/>
<circle cx="872.6" cy="1727.7" r="6.2"/>
<circle cx="872.5" cy="1730.2" r="6.2"/>
<circle cx="871.0" cy="1733.3" r="6.2"/>
<circle cx="871.6" cy="1738.2" r="6.2"/>
<circle cx="871.1" cy="1740.4" r="6.2"/>
<circle cx="872.2" cy="1744.8" r="6.2"/>
<circle cx="874.1" cy="1728.9" r="6.2"/>
<circle cx="873.2" cy="1732.9" r="6.2"/>
<circle cx="874.6" cy="1737.1" r="6.2"/>
<circle cx="874.2" cy="1738.8" r="6.2"/>
<circle cx="873.1" cy="1741.8" r="6.2"/>
<circle cx="875.5" cy="1730.9" r="6.2"/>
<circle cx="875.3" cy="1734.0" r="6.2"/>
<circle cx="875.6" cy="1737.3" r="6.2"/>
<circle cx="876.1" cy="1740.0" r="6.2"/>
<circle cx="875.5" cy="1742.3" r="6.2"/>
<circle cx="878.8" cy="1730.9" r="6.2"/>
<circle cx="878.9" cy="1735.5" r="6.2"/>
<circle cx="879.0" cy="1737.7" r="6.2"/>
<circle cx="878.0" cy="1741.8" r="6.2"/>
<circle cx="878.2" cy="1744.7" r="6.2"/>
<circle cx="880.7" cy="1732.6" r="6.2"/>
<circle cx="880.4" cy="1736.9" r="6.2"/>
<circle cx="880.8" cy="1741.7" r="6.2"/>
<circle cx="879.9" cy="1743.6" r="6.2"/>
<circle cx="880.8" cy="1748.6" r="6.2"/>
<circle cx="882.5" cy="1735.4" r="6.2"/>
<circle cx="882.9" cy="1737.6" r="6.2"/>
<circle cx="881.7" cy="1739.7" r="6.2"/>
<circle cx="881.9" cy="1743.3" r="6.2"/>
<circle cx="882.5" cy="1747.6" r="6.2"/>
<circle cx="882.9" cy="1751.0" r="6.2"/>
<circle cx="883.5" cy="1734.9" r="6.2"/>
<circle cx="884.0" cy="1738.4" r="6.2"/>
<circle cx="884.9" cy="1741.7" r="6.2"/>
<circle cx="883.7" cy="1743.8" r="6.2"/>
<circle cx="884.2" cy="1746.4" r="6.2"/>
<circle cx="883.9" cy="1751.5" r="6.2"/>
<circle cx="884.8" cy="1753.7" r="6.2"/>
<circle cx="886.1" cy="1735.7" r="6.2"/>
<circle cx="886.2" cy="1739.4" r="6.2"/>
<circle cx="886.3" cy="1744.1" r="6.2"/>
<circle cx="886.5" cy="1745.4" r="6.2"/>
<circle cx="885.3" cy="1750.3" r="6.2"/>
<circle cx="886.9" cy="1753.4" r="6.2"/>
<circle cx="886.7" cy="1756.0" r="6.2"/>
<circle cx="887.5" cy="1738.3" r="6.2"/>
<circle cx="888.8" cy="1740.1" r="6.2"/>
<circle cx="888.6" cy="1743.8" r="6.2"/>
<circle cx="888.6" cy="1746.9" r="6.2"/>
<circle cx="888.4" cy="1751.1" r="6.2"/>
<circle cx="887.9" cy="1753.8" r="6.2"/>
<circle cx="888.9" cy="1755.2" r="6.2"/>
<circle cx="887.5" cy="1759.3" r="6.2"/>
<circle cx="890.1" cy="1737.8" r="6.2"/>
<circle cx="890.9" cy="1740.4" r="6.2"/>
<circle cx="889.6" cy="1743.4" r="6.2"/>
<circle cx="889.4" cy="1748.1" r="6.2"/>
<circle cx="889.1" cy="1752.3" r="6.2"/>
<circle cx="890.5" cy="1753.4" r="6.2"/>
<circle cx="890.6" cy="1756.8" r="6.2"/>
<circle cx="890.0" cy="1760.4" r="6.2"/>
<circle cx="891.3" cy="1738.9" r="6.2"/>
<circle cx="892.8" cy="1740.8" r="6.2"/>
<circle cx="891.4" cy="1745.0" r="6.2"/>
<circle cx="892.9" cy="1747.8" r="6.2"/>
<circle cx="892.7" cy="1751.4" r="6.2"/>
<circle cx="891.9" cy="1755.1" r="6.2"/>
<circle cx="891.4" cy="1757.6" r="6.2"/>
<circle cx="891.1" cy="1760.8" r="6.2"/>
<circle cx="895.0" cy="1738.5" r="6.2"/>
<circle cx="893.2" cy="1743.3" r="6.2"/>
<circle cx="894.9" cy="1746.7" r="6.2"/>
<circle cx="894.9" cy="1749.5" r="6.2"/>
<circle cx="895.0" cy="1752.7" r="6.2"/>
<circle cx="894.5" cy="1756.4" r="6.2"/>
<circle cx="894.7" cy="1759.1" r="6.2"/>
<circle cx="895.6" cy="1741.6" r="6.2"/>
<circle cx="896.5" cy="1743.7" r="6.2"/>
<circle cx="895.8" cy="1748.1" r="6.2"/>
<circle cx="895.4" cy="1749.4" r="6.2"/>
<circle cx="895.1" cy="1753.9" r="6.2"/>
<circle cx="896.8" cy="1755.7" r="6.2"/>
<circle cx="896.5" cy="1760.6" r="6.2"/>
<circle cx="897.4" cy="1741.6" r="6.2"/>
<circle cx="898.1" cy="1743.4" r="6.2"/>
<circle cx="898.9" cy="1746.6" r="6.2"/>
<circle cx="897.3" cy="1751.0" r="6.2"/>
<circle cx="898.0" cy="1754.2" r="6.2"/>
<circle cx="898.3" cy="1755.5" r="6.2"/>
<circle cx="897.9" cy="1760.7" r="6.2"/>
<circle cx="899.6" cy="1741.7" r="6.2"/>
<circle cx="900.8" cy="1744.8" r="6.2"/>
<circle cx="899.8" cy="1750.4" r="6.2"/>
<circle cx="900.7" cy="1751.5" r="6.2"/>
<circle cx="899.2" cy="1755.7" r="6.2"/>
<circle cx="900.4" cy="1759.9" r="6.2"/>
<circle cx="901.4" cy="1743.4" r="6.2"/>
<circle cx="901.9" cy="1746.2" r="6.2"/>
<circle cx="902.4" cy="1750.0" r="6.2"/>
<circle cx="901.8" cy="1753.8" r="6.2"/>
<circle cx="901.6" cy="1756.6" r="6.2"/>
<circle cx="902.6" cy="1759.1" r="6.2"/>
<circle cx="903.1" cy="1743.3" r="6.2"/>
<circle cx="904.6" cy="1748.4" r="6.2"/>
<circle cx="904.4" cy="1749.5" r="6.2"/>
<circle cx="903.5" cy="1754.9" r="6.2"/>
<circle cx="904.1" cy="1756.7" r="6.2"/>
<circle cx="904.9" cy="1761.1" r="6.2"/>
<circle cx="905.5" cy="1746.2" r="6.2"/>
<circle cx="906.6" cy="1749.4" r="6.2"/>
<circle cx="906.8" cy="1752.1" r="6.2"/>
<circle cx="905.1" cy="1753.9" r="6.2"/>
<circle cx="905.4" cy="1757.7" r="6.2"/>
<circle cx="906.1" cy="1761.5" r="6.2"/>
<circle cx="907.5" cy="1745.6" r="6.2"/>
<circle cx="907.1" cy="1748.6" r="6.2"/>
<circle cx="908.8" cy="1752.5" r="6.2"/>
<circle cx="907.5" cy="1755.3" r="6.2"/>
<circle cx="908.3" cy="1757.4" r="6.2"/>
<circle cx="907.0" cy="1761.2" r="6.2"/>
<circle cx="910.2" cy="1746.6" r="6.2"/>
<circle cx="910.0" cy="1750.1" r="6.2"/>
<circle cx="909.8" cy="1755.0" r="6.2"/>
<circle cx="910.2" cy="1757.3" r="6.2"/>
<circle cx="910.5" cy="1760.5" r="6.2"/>
<circle cx="912.3" cy="1748.3" r="6.2"/>
<circle cx="912.3" cy="1752.2" r="6.2"/>
<circle cx="912.2" cy="1756.1" r="6.2"/>
<circle cx="912.6" cy="1759.6" r="6.2"/>
<circle cx="911.5" cy="1762.8" r="6.2"/>
<circle cx="914.3" cy="1749.1" r="6.2"/>
<circle cx="913.0" cy="1752.3" r="6.2"/>
<circle cx="913.9" cy="1756.3" r="6.2"/>
<circle cx="914.8" cy="1759.8" r="6.2"/>
<circle cx="914.8" cy="1762.9" r="6.2"/>
<circle cx="916.7" cy="1752.4" r="6.2"/>
<circle cx="916.5" cy="1753.8" r="6.2"/>
<circle cx="916.1" cy="1758.0" r="6.2"/>
<circle cx="916.4" cy="1761.1" r="6.2"/>
<circle cx="918.8" cy="1751.8" r="6.2"/>
<circle cx="917.9" cy="1754.4" r="6.2"/>
<circle cx="918.8" cy="1759.3" r="6.2"/>
<circle cx="918.9" cy="1760.5" r="6.2"/>
<circle cx="919.7" cy="1754.6" r="6.2"/>
<circle cx="920.8" cy="1754.9" r="6.2"/>
<circle cx="919.9" cy="1757.2" r="6.2"/>
<circle cx="920.7" cy="1761.6" r="6.2"/>
<circle cx="922.9" cy="1755.7" r="6.2"/>
<circle cx="921.8" cy="1757.2" r="6.2"/>
<circle cx="922.3" cy="1760.1" r="6.2"/>
<circle cx="924.9" cy="1756.1" r="6.2"/>
<circle cx="923.9" cy="1759.2" r="6.2"/>
<circle cx="923.5" cy="1759.4" r="6.2"/>
<circle cx="925.2" cy="1758.6" r="6.2"/>
<circle cx="926.0" cy="1759.7" r="6.2"/>
<circle cx="697.6" cy="1660.5" r="6.2"/>
<circle cx="697.6" cy="1665.0" r="6.2"/>
<circle cx="713.8" cy="1666.0" r="6.2"/>
<circle cx="713.8" cy="1672.5" r="6.2"/>
<circle cx="725.3" cy="1668.0" r="6.2"/>
<circle cx="725.3" cy="1677.0" r="6.2"/>
<circle cx="928.2" cy="1782.7" r="6.2"/>
<circle cx="932.0" cy="1781.5" r="6.2"/>
<circle cx="936.4" cy="1780.9" r="6.2"/>
<circle cx="941.0" cy="1780.5" r="6.2"/>
<circle cx="945.5" cy="1780.0" r="6.2"/>
<circle cx="950.0" cy="1780.5" r="6.2"/>
<circle cx="954.5" cy="1780.9" r="6.2"/>
<circle cx="959.0" cy="1780.5" r="6.2"/>
<circle cx="963.6" cy="1780.0" r="6.2"/>
<circle cx="969.0" cy="1778.2" r="6.2"/>
<circle cx="980.0" cy="1778.2" r="6.2"/>
<circle cx="994.2" cy="1775.5" r="6.2"/>
<circle cx="948.2" cy="1760.9" r="6.2"/>
<circle cx="927.3" cy="1750.9" r="6.2"/>
<circle cx="940.0" cy="1766.0" r="6.2"/>
<circle cx="934.0" cy="1760.0" r="6.2"/>
</g>
<path d="M655.2 1642.1V1793.6H1039.9" stroke="#000" stroke-width="3.3" fill="none" stroke-linejoin="miter"/>
<path d="M1038.6 1793.6H1055.5" stroke="#000" stroke-width="2" fill="none"/>
<path d="M648.7 1651.11H655.2M648.7 1653.91H655.2M648.7 1657.09H655.2M648.7 1660.76H655.2M648.7 1665.10H655.2M648.7 1670.41H655.2M648.7 1677.25H655.2M648.7 1686.90H655.2M648.7 1703.40H655.2M648.7 1705.91H655.2M648.7 1708.71H655.2M648.7 1711.89H655.2M648.7 1715.56H655.2M648.7 1719.90H655.2M648.7 1725.21H655.2M648.7 1732.05H655.2M648.7 1741.70H655.2M648.7 1758.20H655.2M648.7 1760.71H655.2M648.7 1763.51H655.2M648.7 1766.69H655.2M648.7 1770.36H655.2M648.7 1774.70H655.2M648.7 1780.01H655.2M648.7 1786.85H655.2M633.2 1648.60H655.2M633.2 1758.20H655.2M647.7 1703.40H655.2M669.80 1793.6v21M697.55 1793.6v6.5M713.79 1793.6v6.5M725.31 1793.6v6.5M734.25 1793.6v6.5M741.55 1793.6v6.5M747.72 1793.6v6.5M753.06 1793.6v6.5M757.78 1793.6v6.5M762.00 1793.6v6.5M789.75 1793.6v6.5M805.99 1793.6v6.5M817.51 1793.6v6.5M826.45 1793.6v6.5M833.75 1793.6v6.5M839.92 1793.6v6.5M845.26 1793.6v6.5M849.98 1793.6v6.5M854.20 1793.6v21M881.95 1793.6v6.5M898.19 1793.6v6.5M909.71 1793.6v6.5M918.65 1793.6v6.5M925.95 1793.6v6.5M932.12 1793.6v6.5M937.46 1793.6v6.5M942.18 1793.6v6.5M946.40 1793.6v6.5M974.15 1793.6v6.5M990.39 1793.6v6.5M1001.91 1793.6v6.5M1010.85 1793.6v6.5M1018.15 1793.6v6.5M1024.32 1793.6v6.5M1029.66 1793.6v6.5M1034.38 1793.6v6.5M1038.60 1793.6v21" stroke="#000" stroke-width="2.7" fill="none"/>
<text x="606.5" y="1660.0" font-size="33.5" text-anchor="middle" ><tspan style="font-family:IPAGothic,'Liberation Sans',sans-serif" font-size="32.16" dy="1.51" stroke="#000" stroke-width="0.37" stroke-linejoin="miter">1</tspan></text>
<text x="670.3" y="1865.6" font-size="33.7" text-anchor="middle" ><tspan style="font-family:IPAGothic,'Liberation Sans',sans-serif" font-size="32.35" dy="1.52" stroke="#000" stroke-width="0.37" stroke-linejoin="miter">1</tspan></text>
<text x="855.1999999999999" y="1865.6" font-size="33.7" text-anchor="middle" >100</text>
<text x="1039.1" y="1865.6" font-size="33.7" text-anchor="middle" >10000</text>
<path d="M669.8 1649.2L672.8 1650.5L675.8 1651.8L678.8 1653.0L681.8 1654.3L684.8 1655.6L687.8 1656.9L690.8 1658.2L693.8 1659.4L696.8 1660.7L699.8 1662.0L702.8 1663.3L705.8 1664.6L708.8 1665.8L711.8 1667.1L714.8 1668.4L717.8 1669.7L720.8 1671.0L723.8 1672.2L726.8 1673.5L729.8 1674.8L732.8 1676.1L735.8 1677.4L738.8 1678.6L741.8 1679.9L744.8 1681.2L747.8 1682.5L750.8 1683.8L753.8 1685.0L756.8 1686.3L759.8 1687.6L762.8 1688.9L765.8 1690.2L768.8 1691.4L771.8 1692.7L774.8 1694.0L777.8 1695.3L780.8 1696.6L783.8 1697.9L786.8 1699.1L789.8 1700.4L792.8 1701.7L795.8 1703.0L798.8 1704.3L801.8 1705.6L804.8 1706.8L807.8 1708.1L810.8 1709.4L813.8 1710.7L816.8 1712.0L819.8 1713.3L822.8 1714.6L825.8 1715.8L828.8 1717.1L831.8 1718.4L834.8 1719.7L837.8 1721.0L840.8 1722.3L843.8 1723.6L846.8 1724.9L849.8 1726.2L852.8 1727.5L855.8 1728.8L858.8 1730.1L861.8 1731.4L864.8 1732.7L867.8 1734.0L870.8 1735.3L873.8 1736.6L876.8 1737.9L879.8 1739.2L882.8 1740.5L885.8 1741.8L888.8 1743.1L891.8 1744.5L894.8 1745.8L897.8 1747.1L900.8 1748.4L903.8 1749.8L906.8 1751.1L909.8 1752.5L912.8 1753.8L915.8 1755.2L918.8 1756.5L921.8 1757.9L924.8 1759.3L927.8 1760.7L930.8 1762.1L933.8 1763.5L936.8 1764.9L939.8 1766.3L942.8 1767.7L945.8 1769.2L948.8 1770.6L951.8 1772.1L954.8 1773.6L957.8 1775.1L960.8 1776.6L963.8 1778.1L966.8 1779.7L969.8 1781.3L972.8 1782.9L975.8 1784.5L978.8 1786.2L981.8 1787.8L984.8 1789.5L987.8 1791.3" stroke="#000" stroke-width="6" fill="none" stroke-linejoin="round" stroke-linecap="butt"/>
<g fill="#808080">
<circle cx="669.3" cy="1920.5" r="6.2"/>
<circle cx="671.0" cy="1920.5" r="6.2"/>
<circle cx="716.9" cy="1938.5" r="6.2"/>
<circle cx="717.0" cy="1939.5" r="6.2"/>
<circle cx="718.0" cy="1938.8" r="6.2"/>
<circle cx="718.4" cy="1940.5" r="6.2"/>
<circle cx="720.3" cy="1939.7" r="6.2"/>
<circle cx="720.4" cy="1942.0" r="6.2"/>
<circle cx="721.3" cy="1940.8" r="6.2"/>
<circle cx="722.4" cy="1942.7" r="6.2"/>
<circle cx="724.1" cy="1941.6" r="6.2"/>
<circle cx="722.6" cy="1944.1" r="6.2"/>
<circle cx="725.4" cy="1942.2" r="6.2"/>
<circle cx="725.3" cy="1944.0" r="6.2"/>
<circle cx="726.8" cy="1941.9" r="6.2"/>
<circle cx="726.8" cy="1944.7" r="6.2"/>
<circle cx="726.5" cy="1945.1" r="6.2"/>
<circle cx="728.6" cy="1942.8" r="6.2"/>
<circle cx="729.5" cy="1944.7" r="6.2"/>
<circle cx="728.1" cy="1947.5" r="6.2"/>
<circle cx="730.4" cy="1943.4" r="6.2"/>
<circle cx="730.4" cy="1944.8" r="6.2"/>
<circle cx="730.8" cy="1948.2" r="6.2"/>
<circle cx="731.6" cy="1943.6" r="6.2"/>
<circle cx="731.9" cy="1945.5" r="6.2"/>
<circle cx="731.6" cy="1949.6" r="6.2"/>
<circle cx="734.8" cy="1944.0" r="6.2"/>
<circle cx="734.5" cy="1946.0" r="6.2"/>
<circle cx="734.8" cy="1949.7" r="6.2"/>
<circle cx="736.4" cy="1944.4" r="6.2"/>
<circle cx="735.6" cy="1947.5" r="6.2"/>
<circle cx="736.7" cy="1950.5" r="6.2"/>
<circle cx="737.6" cy="1946.4" r="6.2"/>
<circle cx="738.4" cy="1948.4" r="6.2"/>
<circle cx="737.2" cy="1952.3" r="6.2"/>
<circle cx="738.6" cy="1945.9" r="6.2"/>
<circle cx="740.2" cy="1950.2" r="6.2"/>
<circle cx="738.9" cy="1951.8" r="6.2"/>
<circle cx="741.8" cy="1947.0" r="6.2"/>
<circle cx="740.7" cy="1950.2" r="6.2"/>
<circle cx="740.3" cy="1954.1" r="6.2"/>
<circle cx="743.1" cy="1947.8" r="6.2"/>
<circle cx="742.2" cy="1950.1" r="6.2"/>
<circle cx="742.7" cy="1952.2" r="6.2"/>
<circle cx="742.7" cy="1955.0" r="6.2"/>
<circle cx="744.9" cy="1948.2" r="6.2"/>
<circle cx="743.9" cy="1950.0" r="6.2"/>
<circle cx="743.9" cy="1952.9" r="6.2"/>
<circle cx="744.8" cy="1955.0" r="6.2"/>
<circle cx="746.9" cy="1948.6" r="6.2"/>
<circle cx="746.6" cy="1951.5" r="6.2"/>
<circle cx="747.5" cy="1954.2" r="6.2"/>
<circle cx="745.8" cy="1956.1" r="6.2"/>
<circle cx="748.8" cy="1948.9" r="6.2"/>
<circle cx="748.9" cy="1952.2" r="6.2"/>
<circle cx="748.2" cy="1955.5" r="6.2"/>
<circle cx="747.8" cy="1957.5" r="6.2"/>
<circle cx="749.8" cy="1949.7" r="6.2"/>
<circle cx="751.0" cy="1953.6" r="6.2"/>
<circle cx="750.8" cy="1956.3" r="6.2"/>
<circle cx="749.2" cy="1958.7" r="6.2"/>
<circle cx="752.0" cy="1951.3" r="6.2"/>
<circle cx="751.7" cy="1953.9" r="6.2"/>
<circle cx="752.7" cy="1956.7" r="6.2"/>
<circle cx="752.5" cy="1960.5" r="6.2"/>
<circle cx="753.9" cy="1951.4" r="6.2"/>
<circle cx="753.8" cy="1953.9" r="6.2"/>
<circle cx="754.6" cy="1959.0" r="6.2"/>
<circle cx="754.5" cy="1961.3" r="6.2"/>
<circle cx="755.9" cy="1952.4" r="6.2"/>
<circle cx="754.7" cy="1955.1" r="6.2"/>
<circle cx="754.8" cy="1958.2" r="6.2"/>
<circle cx="755.1" cy="1961.0" r="6.2"/>
<circle cx="755.1" cy="1962.8" r="6.2"/>
<circle cx="758.1" cy="1953.5" r="6.2"/>
<circle cx="757.8" cy="1956.0" r="6.2"/>
<circle cx="757.2" cy="1958.8" r="6.2"/>
<circle cx="757.2" cy="1962.0" r="6.2"/>
<circle cx="757.9" cy="1963.8" r="6.2"/>
<circle cx="759.8" cy="1952.3" r="6.2"/>
<circle cx="760.1" cy="1956.6" r="6.2"/>
<circle cx="758.9" cy="1959.5" r="6.2"/>
<circle cx="759.8" cy="1962.5" r="6.2"/>
<circle cx="760.0" cy="1965.1" r="6.2"/>
<circle cx="760.6" cy="1953.6" r="6.2"/>
<circle cx="760.6" cy="1957.0" r="6.2"/>
<circle cx="761.5" cy="1960.9" r="6.2"/>
<circle cx="761.3" cy="1963.8" r="6.2"/>
<circle cx="761.9" cy="1966.7" r="6.2"/>
<circle cx="762.0" cy="1954.8" r="6.2"/>
<circle cx="761.8" cy="1958.2" r="6.2"/>
<circle cx="763.8" cy="1961.1" r="6.2"/>
<circle cx="763.7" cy="1963.4" r="6.2"/>
<circle cx="763.7" cy="1966.9" r="6.2"/>
<circle cx="765.3" cy="1954.9" r="6.2"/>
<circle cx="764.4" cy="1957.9" r="6.2"/>
<circle cx="763.7" cy="1962.5" r="6.2"/>
<circle cx="765.1" cy="1964.7" r="6.2"/>
<circle cx="764.8" cy="1968.3" r="6.2"/>
<circle cx="767.2" cy="1955.2" r="6.2"/>
<circle cx="766.6" cy="1959.6" r="6.2"/>
<circle cx="766.5" cy="1961.9" r="6.2"/>
<circle cx="767.0" cy="1964.8" r="6.2"/>
<circle cx="767.0" cy="1966.7" r="6.2"/>
<circle cx="767.2" cy="1970.0" r="6.2"/>
<circle cx="769.0" cy="1957.1" r="6.2"/>
<circle cx="768.7" cy="1960.5" r="6.2"/>
<circle cx="767.4" cy="1963.3" r="6.2"/>
<circle cx="767.8" cy="1966.1" r="6.2"/>
<circle cx="767.6" cy="1968.3" r="6.2"/>
<circle cx="767.5" cy="1971.9" r="6.2"/>
<circle cx="769.6" cy="1957.4" r="6.2"/>
<circle cx="770.6" cy="1960.3" r="6.2"/>
<circle cx="770.8" cy="1963.6" r="6.2"/>
<circle cx="770.9" cy="1967.1" r="6.2"/>
<circle cx="771.0" cy="1970.0" r="6.2"/>
<circle cx="769.6" cy="1972.7" r="6.2"/>
<circle cx="772.7" cy="1959.2" r="6.2"/>
<circle cx="771.3" cy="1961.0" r="6.2"/>
<circle cx="771.3" cy="1964.9" r="6.2"/>
<circle cx="771.2" cy="1968.2" r="6.2"/>
<circle cx="771.4" cy="1971.6" r="6.2"/>
<circle cx="771.3" cy="1974.9" r="6.2"/>
<circle cx="773.3" cy="1958.3" r="6.2"/>
<circle cx="772.9" cy="1963.1" r="6.2"/>
<circle cx="772.9" cy="1965.3" r="6.2"/>
<circle cx="774.6" cy="1968.9" r="6.2"/>
<circle cx="773.9" cy="1972.4" r="6.2"/>
<circle cx="773.5" cy="1976.4" r="6.2"/>
<circle cx="774.5" cy="1959.9" r="6.2"/>
<circle cx="775.3" cy="1963.9" r="6.2"/>
<circle cx="775.9" cy="1965.9" r="6.2"/>
<circle cx="774.6" cy="1969.8" r="6.2"/>
<circle cx="775.1" cy="1974.2" r="6.2"/>
<circle cx="775.9" cy="1977.9" r="6.2"/>
<circle cx="777.0" cy="1960.9" r="6.2"/>
<circle cx="776.5" cy="1964.7" r="6.2"/>
<circle cx="778.0" cy="1967.8" r="6.2"/>
<circle cx="777.7" cy="1970.6" r="6.2"/>
<circle cx="777.3" cy="1973.4" r="6.2"/>
<circle cx="776.9" cy="1976.2" r="6.2"/>
<circle cx="777.7" cy="1978.8" r="6.2"/>
<circle cx="779.7" cy="1962.3" r="6.2"/>
<circle cx="778.5" cy="1964.1" r="6.2"/>
<circle cx="778.7" cy="1967.4" r="6.2"/>
<circle cx="779.8" cy="1971.1" r="6.2"/>
<circle cx="779.5" cy="1974.9" r="6.2"/>
<circle cx="779.6" cy="1977.8" r="6.2"/>
<circle cx="779.1" cy="1980.6" r="6.2"/>
<circle cx="781.7" cy="1962.8" r="6.2"/>
<circle cx="781.2" cy="1966.9" r="6.2"/>
<circle cx="780.3" cy="1968.3" r="6.2"/>
<circle cx="780.8" cy="1973.0" r="6.2"/>
<circle cx="780.8" cy="1974.8" r="6.2"/>
<circle cx="781.8" cy="1978.4" r="6.2"/>
<circle cx="780.7" cy="1980.8" r="6.2"/>
<circle cx="782.5" cy="1964.9" r="6.2"/>
<circle cx="782.5" cy="1967.7" r="6.2"/>
<circle cx="783.5" cy="1969.3" r="6.2"/>
<circle cx="783.0" cy="1972.8" r="6.2"/>
<circle cx="782.6" cy="1977.5" r="6.2"/>
<circle cx="782.3" cy="1980.4" r="6.2"/>
<circle cx="782.2" cy="1983.4" r="6.2"/>
<circle cx="784.9" cy="1965.3" r="6.2"/>
<circle cx="784.0" cy="1968.9" r="6.2"/>
<circle cx="783.7" cy="1971.4" r="6.2"/>
<circle cx="785.0" cy="1975.1" r="6.2"/>
<circle cx="783.6" cy="1978.7" r="6.2"/>
<circle cx="785.2" cy="1981.0" r="6.2"/>
<circle cx="785.2" cy="1983.9" r="6.2"/>
<circle cx="787.1" cy="1966.7" r="6.2"/>
<circle cx="785.7" cy="1969.2" r="6.2"/>
<circle cx="786.1" cy="1973.1" r="6.2"/>
<circle cx="786.2" cy="1976.6" r="6.2"/>
<circle cx="785.4" cy="1979.4" r="6.2"/>
<circle cx="785.5" cy="1984.0" r="6.2"/>
<circle cx="785.5" cy="1987.0" r="6.2"/>
<circle cx="787.2" cy="1968.1" r="6.2"/>
<circle cx="787.9" cy="1971.2" r="6.2"/>
<circle cx="788.5" cy="1974.3" r="6.2"/>
<circle cx="788.4" cy="1978.9" r="6.2"/>
<circle cx="788.5" cy="1981.8" r="6.2"/>
<circle cx="788.4" cy="1985.8" r="6.2"/>
<circle cx="787.1" cy="1989.4" r="6.2"/>
<circle cx="789.7" cy="1969.9" r="6.2"/>
<circle cx="788.9" cy="1971.7" r="6.2"/>
<circle cx="789.9" cy="1975.3" r="6.2"/>
<circle cx="790.7" cy="1977.8" r="6.2"/>
<circle cx="789.3" cy="1981.5" r="6.2"/>
<circle cx="789.1" cy="1985.0" r="6.2"/>
<circle cx="789.3" cy="1986.2" r="6.2"/>
<circle cx="790.1" cy="1989.7" r="6.2"/>
<circle cx="792.4" cy="1969.7" r="6.2"/>
<circle cx="791.6" cy="1973.7" r="6.2"/>
<circle cx="791.6" cy="1975.7" r="6.2"/>
<circle cx="791.6" cy="1979.0" r="6.2"/>
<circle cx="790.7" cy="1983.6" r="6.2"/>
<circle cx="791.1" cy="1985.0" r="6.2"/>
<circle cx="790.6" cy="1989.7" r="6.2"/>
<circle cx="792.3" cy="1992.5" r="6.2"/>
<circle cx="794.0" cy="1971.4" r="6.2"/>
<circle cx="793.6" cy="1975.5" r="6.2"/>
<circle cx="792.9" cy="1978.6" r="6.2"/>
<circle cx="794.0" cy="1981.3" r="6.2"/>
<circle cx="793.7" cy="1983.5" r="6.2"/>
<circle cx="793.2" cy="1987.2" r="6.2"/>
<circle cx="793.1" cy="1991.6" r="6.2"/>
<circle cx="794.3" cy="1993.0" r="6.2"/>
<circle cx="795.4" cy="1972.6" r="6.2"/>
<circle cx="795.5" cy="1977.4" r="6.2"/>
<circle cx="794.5" cy="1979.4" r="6.2"/>
<circle cx="794.9" cy="1983.3" r="6.2"/>
<circle cx="795.8" cy="1985.1" r="6.2"/>
<circle cx="794.6" cy="1989.0" r="6.2"/>
<circle cx="796.1" cy="1993.0" r="6.2"/>
<circle cx="795.5" cy="1996.6" r="6.2"/>
<circle cx="796.8" cy="1975.2" r="6.2"/>
<circle cx="796.5" cy="1977.4" r="6.2"/>
<circle cx="797.8" cy="1981.7" r="6.2"/>
<circle cx="797.2" cy="1983.6" r="6.2"/>
<circle cx="796.6" cy="1988.3" r="6.2"/>
<circle cx="796.9" cy="1989.8" r="6.2"/>
<circle cx="796.5" cy="1994.1" r="6.2"/>
<circle cx="797.7" cy="1997.0" r="6.2"/>
<circle cx="798.3" cy="1976.6" r="6.2"/>
<circle cx="798.4" cy="1978.8" r="6.2"/>
<circle cx="799.0" cy="1982.5" r="6.2"/>
<circle cx="799.5" cy="1985.6" r="6.2"/>
<circle cx="799.1" cy="1988.8" r="6.2"/>
<circle cx="799.2" cy="1992.9" r="6.2"/>
<circle cx="798.0" cy="1996.1" r="6.2"/>
<circle cx="799.6" cy="1998.3" r="6.2"/>
<circle cx="799.6" cy="1977.4" r="6.2"/>
<circle cx="801.0" cy="1980.1" r="6.2"/>
<circle cx="800.0" cy="1983.7" r="6.2"/>
<circle cx="801.4" cy="1987.3" r="6.2"/>
<circle cx="801.0" cy="1990.5" r="6.2"/>
<circle cx="801.0" cy="1993.4" r="6.2"/>
<circle cx="800.6" cy="1996.0" r="6.2"/>
<circle cx="801.6" cy="1999.3" r="6.2"/>
<circle cx="803.0" cy="1979.2" r="6.2"/>
<circle cx="802.9" cy="1982.2" r="6.2"/>
<circle cx="802.5" cy="1985.1" r="6.2"/>
<circle cx="801.6" cy="1988.9" r="6.2"/>
<circle cx="802.6" cy="1991.5" r="6.2"/>
<circle cx="803.2" cy="1995.9" r="6.2"/>
<circle cx="802.1" cy="1998.2" r="6.2"/>
<circle cx="801.8" cy="2001.9" r="6.2"/>
<circle cx="803.6" cy="1980.1" r="6.2"/>
<circle cx="805.1" cy="1983.0" r="6.2"/>
<circle cx="805.0" cy="1987.0" r="6.2"/>
<circle cx="803.6" cy="1990.7" r="6.2"/>
<circle cx="804.4" cy="1993.9" r="6.2"/>
<circle cx="804.0" cy="1996.2" r="6.2"/>
<circle cx="803.4" cy="1999.0" r="6.2"/>
<circle cx="804.2" cy="2002.8" r="6.2"/>
<circle cx="805.1" cy="1981.4" r="6.2"/>
<circle cx="806.0" cy="1984.3" r="6.2"/>
<circle cx="805.0" cy="1988.8" r="6.2"/>
<circle cx="805.2" cy="1991.5" r="6.2"/>
<circle cx="806.9" cy="1994.0" r="6.2"/>
<circle cx="805.8" cy="1997.5" r="6.2"/>
<circle cx="806.6" cy="2001.3" r="6.2"/>
<circle cx="805.2" cy="2005.0" r="6.2"/>
<circle cx="808.6" cy="1984.1" r="6.2"/>
<circle cx="807.2" cy="1987.7" r="6.2"/>
<circle cx="808.2" cy="1989.7" r="6.2"/>
<circle cx="807.0" cy="1993.3" r="6.2"/>
<circle cx="807.0" cy="1995.7" r="6.2"/>
<circle cx="808.1" cy="2000.1" r="6.2"/>
<circle cx="808.0" cy="2002.7" r="6.2"/>
<circle cx="808.5" cy="2006.8" r="6.2"/>
<circle cx="808.7" cy="1985.6" r="6.2"/>
<circle cx="810.2" cy="1988.7" r="6.2"/>
<circle cx="809.5" cy="1992.3" r="6.2"/>
<circle cx="808.7" cy="1995.8" r="6.2"/>
<circle cx="809.7" cy="1998.5" r="6.2"/>
<circle cx="809.9" cy="2001.6" r="6.2"/>
<circle cx="809.2" cy="2004.4" r="6.2"/>
<circle cx="808.9" cy="2007.2" r="6.2"/>
<circle cx="812.1" cy="1987.8" r="6.2"/>
<circle cx="811.8" cy="1989.8" r="6.2"/>
<circle cx="811.2" cy="1994.3" r="6.2"/>
<circle cx="811.4" cy="1996.8" r="6.2"/>
<circle cx="812.0" cy="2000.0" r="6.2"/>
<circle cx="810.6" cy="2003.7" r="6.2"/>
<circle cx="812.2" cy="2008.3" r="6.2"/>
<circle cx="810.8" cy="2011.2" r="6.2"/>
<circle cx="812.4" cy="1988.8" r="6.2"/>
<circle cx="812.4" cy="1991.0" r="6.2"/>
<circle cx="813.8" cy="1993.9" r="6.2"/>
<circle cx="813.2" cy="1997.4" r="6.2"/>
<circle cx="814.2" cy="2001.4" r="6.2"/>
<circle cx="812.8" cy="2004.9" r="6.2"/>
<circle cx="813.5" cy="2006.3" r="6.2"/>
<circle cx="812.8" cy="2010.7" r="6.2"/>
<circle cx="814.1" cy="2012.3" r="6.2"/>
<circle cx="815.1" cy="1989.6" r="6.2"/>
<circle cx="815.4" cy="1992.4" r="6.2"/>
<circle cx="815.5" cy="1996.7" r="6.2"/>
<circle cx="815.3" cy="1999.8" r="6.2"/>
<circle cx="815.3" cy="2003.7" r="6.2"/>
<circle cx="814.1" cy="2005.9" r="6.2"/>
<circle cx="814.4" cy="2009.3" r="6.2"/>
<circle cx="815.2" cy="2012.4" r="6.2"/>
<circle cx="815.6" cy="2014.8" r="6.2"/>
<circle cx="816.1" cy="1991.3" r="6.2"/>
<circle cx="816.0" cy="1995.5" r="6.2"/>
<circle cx="817.2" cy="1998.3" r="6.2"/>
<circle cx="817.2" cy="2001.6" r="6.2"/>
<circle cx="817.0" cy="2004.2" r="6.2"/>
<circle cx="816.5" cy="2007.6" r="6.2"/>
<circle cx="817.3" cy="2012.1" r="6.2"/>
<circle cx="817.5" cy="2015.8" r="6.2"/>
<circle cx="816.9" cy="2017.6" r="6.2"/>
<circle cx="818.2" cy="1994.1" r="6.2"/>
<circle cx="819.0" cy="1997.4" r="6.2"/>
<circle cx="817.8" cy="1999.4" r="6.2"/>
<circle cx="819.0" cy="2002.5" r="6.2"/>
<circle cx="818.6" cy="2006.4" r="6.2"/>
<circle cx="819.2" cy="2008.9" r="6.2"/>
<circle cx="819.1" cy="2012.6" r="6.2"/>
<circle cx="819.0" cy="2015.4" r="6.2"/>
<circle cx="818.8" cy="2019.8" r="6.2"/>
<circle cx="820.8" cy="1996.2" r="6.2"/>
<circle cx="820.6" cy="1999.2" r="6.2"/>
<circle cx="820.7" cy="2001.8" r="6.2"/>
<circle cx="820.7" cy="2005.4" r="6.2"/>
<circle cx="820.3" cy="2009.5" r="6.2"/>
<circle cx="819.6" cy="2012.5" r="6.2"/>
<circle cx="820.8" cy="2016.8" r="6.2"/>
<circle cx="820.4" cy="2020.4" r="6.2"/>
<circle cx="822.0" cy="1997.6" r="6.2"/>
<circle cx="822.0" cy="2001.5" r="6.2"/>
<circle cx="821.3" cy="2004.9" r="6.2"/>
<circle cx="821.2" cy="2007.2" r="6.2"/>
<circle cx="823.1" cy="2010.3" r="6.2"/>
<circle cx="821.9" cy="2013.5" r="6.2"/>
<circle cx="822.9" cy="2016.8" r="6.2"/>
<circle cx="822.0" cy="2020.4" r="6.2"/>
<circle cx="823.4" cy="2000.0" r="6.2"/>
<circle cx="823.7" cy="2003.8" r="6.2"/>
<circle cx="823.9" cy="2006.5" r="6.2"/>
<circle cx="823.1" cy="2009.8" r="6.2"/>
<circle cx="824.2" cy="2011.9" r="6.2"/>
<circle cx="824.1" cy="2014.4" r="6.2"/>
<circle cx="823.3" cy="2018.9" r="6.2"/>
<circle cx="823.9" cy="2022.3" r="6.2"/>
<circle cx="826.2" cy="2003.0" r="6.2"/>
<circle cx="826.5" cy="2004.8" r="6.2"/>
<circle cx="826.5" cy="2009.3" r="6.2"/>
<circle cx="825.2" cy="2011.6" r="6.2"/>
<circle cx="825.4" cy="2016.3" r="6.2"/>
<circle cx="825.6" cy="2019.1" r="6.2"/>
<circle cx="825.8" cy="2022.6" r="6.2"/>
<circle cx="827.5" cy="2003.6" r="6.2"/>
<circle cx="828.5" cy="2007.8" r="6.2"/>
<circle cx="826.7" cy="2010.1" r="6.2"/>
<circle cx="828.5" cy="2014.8" r="6.2"/>
<circle cx="827.6" cy="2016.7" r="6.2"/>
<circle cx="827.5" cy="2019.8" r="6.2"/>
<circle cx="827.6" cy="2023.5" r="6.2"/>
<circle cx="828.7" cy="2007.8" r="6.2"/>
<circle cx="828.8" cy="2009.4" r="6.2"/>
<circle cx="829.6" cy="2013.3" r="6.2"/>
<circle cx="829.9" cy="2016.2" r="6.2"/>
<circle cx="829.5" cy="2019.5" r="6.2"/>
<circle cx="830.1" cy="2023.1" r="6.2"/>
<circle cx="830.3" cy="2026.4" r="6.2"/>
<circle cx="831.4" cy="2009.1" r="6.2"/>
<circle cx="832.1" cy="2012.2" r="6.2"/>
<circle cx="831.4" cy="2016.4" r="6.2"/>
<circle cx="830.4" cy="2018.7" r="6.2"/>
<circle cx="832.0" cy="2021.4" r="6.2"/>
<circle cx="830.5" cy="2025.2" r="6.2"/>
<circle cx="831.9" cy="2029.0" r="6.2"/>
<circle cx="831.2" cy="2030.7" r="6.2"/>
<circle cx="832.0" cy="2011.4" r="6.2"/>
<circle cx="832.3" cy="2015.3" r="6.2"/>
<circle cx="833.4" cy="2018.9" r="6.2"/>
<circle cx="832.4" cy="2023.0" r="6.2"/>
<circle cx="833.6" cy="2025.7" r="6.2"/>
<circle cx="833.6" cy="2029.8" r="6.2"/>
<circle cx="832.7" cy="2033.0" r="6.2"/>
<circle cx="832.9" cy="2035.6" r="6.2"/>
<circle cx="835.8" cy="2013.0" r="6.2"/>
<circle cx="834.8" cy="2017.5" r="6.2"/>
<circle cx="835.1" cy="2020.0" r="6.2"/>
<circle cx="835.4" cy="2023.0" r="6.2"/>
<circle cx="834.9" cy="2026.8" r="6.2"/>
<circle cx="834.1" cy="2029.4" r="6.2"/>
<circle cx="835.5" cy="2032.6" r="6.2"/>
<circle cx="835.8" cy="2036.3" r="6.2"/>
<circle cx="835.8" cy="2040.3" r="6.2"/>
<circle cx="836.6" cy="2016.5" r="6.2"/>
<circle cx="835.8" cy="2019.2" r="6.2"/>
<circle cx="837.1" cy="2022.7" r="6.2"/>
<circle cx="836.2" cy="2024.7" r="6.2"/>
<circle cx="837.5" cy="2029.6" r="6.2"/>
<circle cx="836.3" cy="2032.7" r="6.2"/>
<circle cx="835.9" cy="2034.9" r="6.2"/>
<circle cx="837.6" cy="2037.8" r="6.2"/>
<circle cx="836.8" cy="2042.3" r="6.2"/>
<circle cx="839.0" cy="2018.8" r="6.2"/>
<circle cx="837.6" cy="2021.6" r="6.2"/>
<circle cx="838.8" cy="2024.4" r="6.2"/>
<circle cx="838.0" cy="2028.3" r="6.2"/>
<circle cx="838.1" cy="2031.1" r="6.2"/>
<circle cx="838.1" cy="2033.9" r="6.2"/>
<circle cx="839.4" cy="2036.6" r="6.2"/>
<circle cx="839.1" cy="2039.5" r="6.2"/>
<circle cx="839.3" cy="2043.9" r="6.2"/>
<circle cx="839.9" cy="2020.8" r="6.2"/>
<circle cx="840.7" cy="2024.3" r="6.2"/>
<circle cx="840.6" cy="2027.1" r="6.2"/>
<circle cx="840.0" cy="2030.3" r="6.2"/>
<circle cx="840.8" cy="2032.8" r="6.2"/>
<circle cx="839.7" cy="2036.9" r="6.2"/>
<circle cx="840.2" cy="2039.8" r="6.2"/>
<circle cx="839.4" cy="2042.0" r="6.2"/>
<circle cx="839.6" cy="2046.0" r="6.2"/>
<circle cx="841.8" cy="2023.2" r="6.2"/>
<circle cx="841.7" cy="2025.3" r="6.2"/>
<circle cx="841.7" cy="2028.3" r="6.2"/>
<circle cx="842.2" cy="2031.9" r="6.2"/>
<circle cx="842.8" cy="2034.7" r="6.2"/>
<circle cx="841.3" cy="2038.8" r="6.2"/>
<circle cx="842.9" cy="2041.3" r="6.2"/>
<circle cx="841.2" cy="2044.3" r="6.2"/>
<circle cx="841.4" cy="2047.1" r="6.2"/>
<circle cx="843.7" cy="2024.3" r="6.2"/>
<circle cx="843.9" cy="2028.7" r="6.2"/>
<circle cx="843.3" cy="2031.3" r="6.2"/>
<circle cx="844.0" cy="2035.9" r="6.2"/>
<circle cx="844.8" cy="2039.2" r="6.2"/>
<circle cx="843.2" cy="2041.9" r="6.2"/>
<circle cx="842.8" cy="2045.1" r="6.2"/>
<circle cx="844.5" cy="2048.5" r="6.2"/>
<circle cx="697.6" cy="1927.4" r="6.2"/>
<circle cx="697.6" cy="1930.9" r="6.2"/>
<circle cx="713.8" cy="1932.9" r="6.2"/>
<circle cx="713.8" cy="1937.9" r="6.2"/>
<circle cx="725.3" cy="1936.9" r="6.2"/>
<circle cx="725.3" cy="1941.9" r="6.2"/>
<circle cx="849.8" cy="2026.6" r="6.2"/>
<circle cx="865.1" cy="2039.6" r="6.2"/>
<circle cx="857.5" cy="2036.4" r="6.2"/>
<circle cx="878.2" cy="2057.1" r="6.2"/>
<circle cx="869.5" cy="2053.8" r="6.2"/>
<circle cx="841.1" cy="2056.0" r="6.2"/>
<circle cx="847.6" cy="2057.1" r="6.2"/>
<circle cx="854.2" cy="2056.0" r="6.2"/>
<circle cx="846.0" cy="2040.0" r="6.2"/>
<circle cx="850.0" cy="2048.0" r="6.2"/>
</g>
<path d="M655.2 1913.4V2064.9H1039.9" stroke="#000" stroke-width="3.3" fill="none" stroke-linejoin="miter"/>
<path d="M1038.6 2064.9H1055.5" stroke="#000" stroke-width="2" fill="none"/>
<path d="M648.7 1922.41H655.2M648.7 1925.21H655.2M648.7 1928.39H655.2M648.7 1932.06H655.2M648.7 1936.40H655.2M648.7 1941.71H655.2M648.7 1948.55H655.2M648.7 1958.20H655.2M648.7 1974.70H655.2M648.7 1977.21H655.2M648.7 1980.01H655.2M648.7 1983.19H655.2M648.7 1986.86H655.2M648.7 1991.20H655.2M648.7 1996.51H655.2M648.7 2003.35H655.2M648.7 2013.00H655.2M648.7 2029.50H655.2M648.7 2032.01H655.2M648.7 2034.81H655.2M648.7 2037.99H655.2M648.7 2041.66H655.2M648.7 2046.00H655.2M648.7 2051.31H655.2M648.7 2058.15H655.2M633.2 1919.90H655.2M633.2 2029.50H655.2M647.7 1974.70H655.2M669.80 2064.9v21M697.55 2064.9v6.5M713.79 2064.9v6.5M725.31 2064.9v6.5M734.25 2064.9v6.5M741.55 2064.9v6.5M747.72 2064.9v6.5M753.06 2064.9v6.5M757.78 2064.9v6.5M762.00 2064.9v6.5M789.75 2064.9v6.5M805.99 2064.9v6.5M817.51 2064.9v6.5M826.45 2064.9v6.5M833.75 2064.9v6.5M839.92 2064.9v6.5M845.26 2064.9v6.5M849.98 2064.9v6.5M854.20 2064.9v21M881.95 2064.9v6.5M898.19 2064.9v6.5M909.71 2064.9v6.5M918.65 2064.9v6.5M925.95 2064.9v6.5M932.12 2064.9v6.5M937.46 2064.9v6.5M942.18 2064.9v6.5M946.40 2064.9v6.5M974.15 2064.9v6.5M990.39 2064.9v6.5M1001.91 2064.9v6.5M1010.85 2064.9v6.5M1018.15 2064.9v6.5M1024.32 2064.9v6.5M1029.66 2064.9v6.5M1034.38 2064.9v6.5M1038.60 2064.9v21" stroke="#000" stroke-width="2.7" fill="none"/>
<text x="606.5" y="1931.3000000000002" font-size="33.5" text-anchor="middle" ><tspan style="font-family:IPAGothic,'Liberation Sans',sans-serif" font-size="32.16" dy="1.51" stroke="#000" stroke-width="0.37" stroke-linejoin="miter">1</tspan></text>
<text x="670.3" y="2136.9" font-size="33.7" text-anchor="middle" ><tspan style="font-family:IPAGothic,'Liberation Sans',sans-serif" font-size="32.35" dy="1.52" stroke="#000" stroke-width="0.37" stroke-linejoin="miter">1</tspan></text>
<text x="855.1999999999999" y="2136.9" font-size="33.7" text-anchor="middle" >100</text>
<text x="1039.1" y="2136.9" font-size="33.7" text-anchor="middle" >10000</text>
<path d="M669.8 1919.9L671.8 1920.8L673.8 1921.7L675.8 1922.7L677.8 1923.6L679.8 1924.5L681.8 1925.4L683.8 1926.3L685.8 1927.3L687.8 1928.2L689.8 1929.1L691.8 1930.1L693.8 1931.0L695.8 1931.9L697.8 1932.9L699.8 1933.8L701.8 1934.7L703.8 1935.7L705.8 1936.6L707.8 1937.6L709.8 1938.5L711.8 1939.5L713.8 1940.5L715.8 1941.4L717.8 1942.4L719.8 1943.4L721.8 1944.3L723.8 1945.3L725.8 1946.3L727.8 1947.3L729.8 1948.3L731.8 1949.3L733.8 1950.3L735.8 1951.3L737.8 1952.3L739.8 1953.4L741.8 1954.4L743.8 1955.4L745.8 1956.5L747.8 1957.5L749.8 1958.6L751.8 1959.7L753.8 1960.7L755.8 1961.8L757.8 1962.9L759.8 1964.0L761.8 1965.2L763.8 1966.3L765.8 1967.5L767.8 1968.6L769.8 1969.8L771.8 1971.0L773.8 1972.2L775.8 1973.4L777.8 1974.6L779.8 1975.9L781.8 1977.2L783.8 1978.4L785.8 1979.8L787.8 1981.1L789.8 1982.4L791.8 1983.8L793.8 1985.2L795.8 1986.7L797.8 1988.1L799.8 1989.6L801.8 1991.1L803.8 1992.7L805.8 1994.3L807.8 1995.9L809.8 1997.5L811.8 1999.2L813.8 2001.0L815.8 2002.8L817.8 2004.6L819.8 2006.4L821.8 2008.4L823.8 2010.4L825.8 2012.4L827.8 2014.5L829.8 2016.6L831.8 2018.8L833.8 2021.1L835.8 2023.5L837.8 2025.9L839.8 2028.4L841.8 2031.0L843.8 2033.7L845.8 2036.5L847.8 2039.3L849.8 2042.3L851.8 2045.4L853.8 2048.6L855.8 2051.9L857.8 2055.3L859.8 2058.9L861.8 2062.6L862.8 2064.9" stroke="#000" stroke-width="6" fill="none" stroke-linejoin="round" stroke-linecap="butt"/>
<path d="M655.2 2184.7V2336.2H1039.9" stroke="#000" stroke-width="3.3" fill="none" stroke-linejoin="miter"/>
<path d="M1038.6 2336.2H1055.5" stroke="#000" stroke-width="2" fill="none"/>
<path d="M648.7 2193.71H655.2M648.7 2196.51H655.2M648.7 2199.69H655.2M648.7 2203.36H655.2M648.7 2207.70H655.2M648.7 2213.01H655.2M648.7 2219.85H655.2M648.7 2229.50H655.2M648.7 2246.00H655.2M648.7 2248.51H655.2M648.7 2251.31H655.2M648.7 2254.49H655.2M648.7 2258.16H655.2M648.7 2262.50H655.2M648.7 2267.81H655.2M648.7 2274.65H655.2M648.7 2284.30H655.2M648.7 2300.80H655.2M648.7 2303.31H655.2M648.7 2306.11H655.2M648.7 2309.29H655.2M648.7 2312.96H655.2M648.7 2317.30H655.2M648.7 2322.61H655.2M648.7 2329.45H655.2M633.2 2191.20H655.2M633.2 2300.80H655.2M647.7 2246.00H655.2M669.80 2336.2v21M697.55 2336.2v6.5M713.79 2336.2v6.5M725.31 2336.2v6.5M734.25 2336.2v6.5M741.55 2336.2v6.5M747.72 2336.2v6.5M753.06 2336.2v6.5M757.78 2336.2v6.5M762.00 2336.2v6.5M789.75 2336.2v6.5M805.99 2336.2v6.5M817.51 2336.2v6.5M826.45 2336.2v6.5M833.75 2336.2v6.5M839.92 2336.2v6.5M845.26 2336.2v6.5M849.98 2336.2v6.5M854.20 2336.2v21M881.95 2336.2v6.5M898.19 2336.2v6.5M909.71 2336.2v6.5M918.65 2336.2v6.5M925.95 2336.2v6.5M932.12 2336.2v6.5M937.46 2336.2v6.5M942.18 2336.2v6.5M946.40 2336.2v6.5M974.15 2336.2v6.5M990.39 2336.2v6.5M1001.91 2336.2v6.5M1010.85 2336.2v6.5M1018.15 2336.2v6.5M1024.32 2336.2v6.5M1029.66 2336.2v6.5M1034.38 2336.2v6.5M1038.60 2336.2v21" stroke="#000" stroke-width="2.7" fill="none"/>
<text x="606.5" y="2202.6" font-size="33.5" text-anchor="middle" ><tspan style="font-family:IPAGothic,'Liberation Sans',sans-serif" font-size="32.16" dy="1.51" stroke="#000" stroke-width="0.37" stroke-linejoin="miter">1</tspan></text>
<text x="670.3" y="2408.2" font-size="33.7" text-anchor="middle" ><tspan style="font-family:IPAGothic,'Liberation Sans',sans-serif" font-size="32.35" dy="1.52" stroke="#000" stroke-width="0.37" stroke-linejoin="miter">1</tspan></text>
<text x="855.1999999999999" y="2408.2" font-size="33.7" text-anchor="middle" >100</text>
<text x="1039.1" y="2408.2" font-size="33.7" text-anchor="middle" >10000</text>
<text transform="translate(569.4,2061) rotate(-90)" font-size="57.4" xml:space="preserve">frequency of  patches &#8805; <tspan font-style="italic">s</tspan></text>
<text x="130" y="2483.6" font-size="64.05" text-anchor="start" >vegetation pattern</text>
<text x="708.4" y="2478.3" font-size="58.3" text-anchor="start" >patch size, <tspan font-style="italic">s</tspan></text>
</svg>
</body>
</html>
